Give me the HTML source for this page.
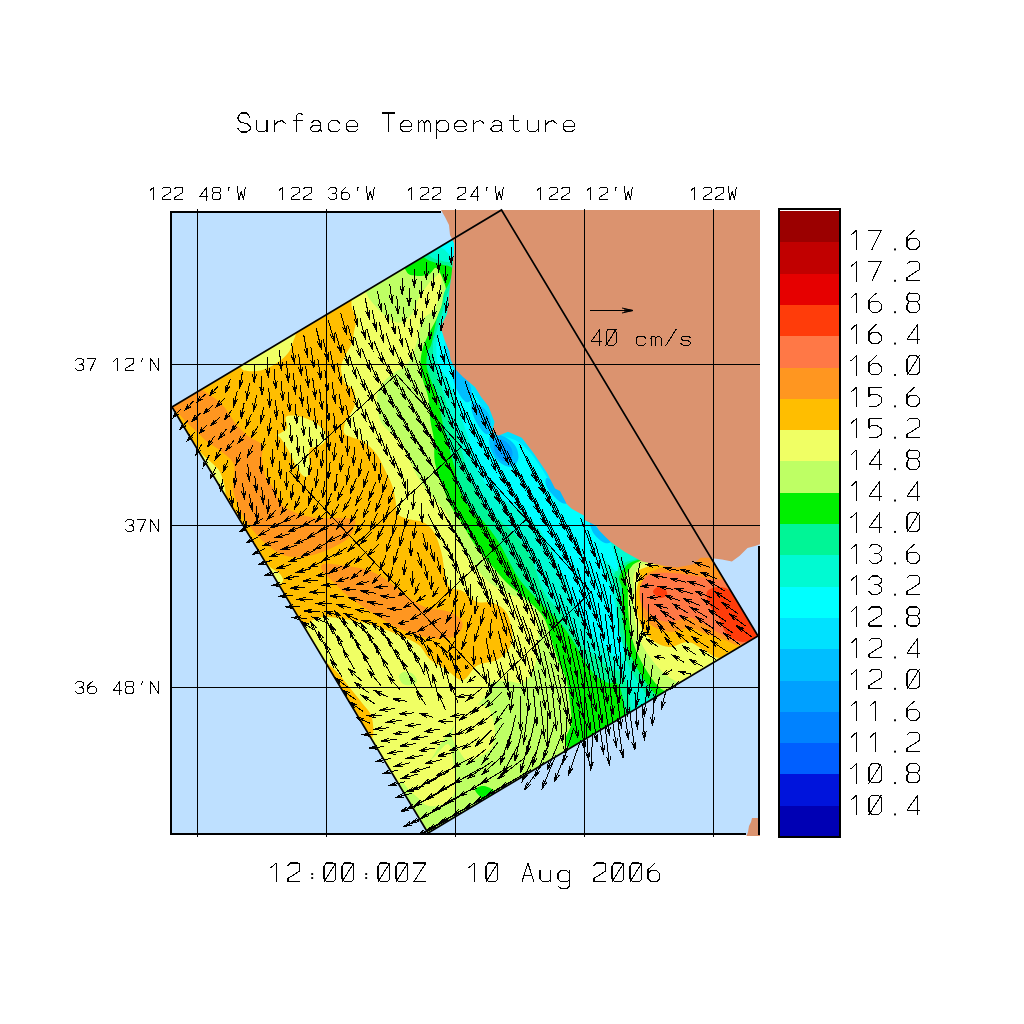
<!DOCTYPE html><html><head><meta charset="utf-8"><style>html,body{margin:0;padding:0;background:#fff;}svg{display:block;}</style></head><body>
<svg width="1024" height="1024" viewBox="0 0 1024 1024">
<rect width="1024" height="1024" fill="#fff"/>
<defs><clipPath id="dom"><polygon points="172.0,407.0 501.5,210.0 758.0,636.0 428.0,833.0"/></clipPath><clipPath id="frm"><rect x="170" y="210" width="590" height="626"/></clipPath><clipPath id="frm2"><rect x="170" y="211" width="590" height="624"/></clipPath></defs>
<rect x="170" y="211" width="590" height="624" fill="#bee0ff"/>
<g clip-path="url(#dom)">
<rect x="0" y="0" width="1024" height="1024" fill="#f0ff64"/>
<path d="M100.0 300.0 C142.8 235.0 315.1 249.6 357.0 250.0 C398.9 250.4 351.5 291.3 351.4 302.4 C351.3 313.4 356.1 311.4 356.5 316.3 C356.9 321.2 354.9 326.9 354.0 331.6 C353.1 336.3 352.9 340.2 351.4 344.3 C349.9 348.4 346.7 352.1 345.0 356.0 C343.3 359.9 341.0 363.5 341.0 368.0 C341.0 372.5 342.9 379.3 345.0 383.0 C347.1 386.7 352.2 386.5 353.8 390.0 C355.4 393.5 355.4 400.1 354.9 404.0 C354.4 407.9 352.2 410.6 350.6 413.6 C349.0 416.6 346.3 419.0 345.2 422.2 C344.1 425.4 343.0 430.5 344.1 433.0 C345.2 435.5 348.3 435.8 351.6 437.3 C354.9 438.8 359.9 439.2 364.0 442.0 C368.1 444.8 372.9 449.3 376.4 454.0 C379.9 458.7 382.4 464.7 385.0 470.0 C387.6 475.3 390.4 480.4 392.2 485.7 C394.0 490.9 394.8 496.8 395.7 501.5 C396.6 506.2 395.4 510.9 397.5 513.8 C399.6 516.7 403.6 517.5 408.0 519.0 C412.4 520.5 419.4 520.3 423.8 522.6 C428.2 524.9 431.5 528.0 434.4 533.0 C437.3 538.0 439.6 545.7 441.4 552.5 C443.2 559.3 443.6 567.8 445.0 573.6 C446.4 579.5 447.1 584.7 450.0 587.6 C452.9 590.5 458.1 588.6 462.5 591.0 C466.9 593.4 471.4 599.7 476.5 601.7 C481.6 603.7 488.1 601.3 493.0 603.0 C497.9 604.7 502.8 607.3 506.0 612.0 C509.2 616.7 511.3 625.2 512.0 631.0 C512.7 636.8 512.4 642.2 510.0 647.0 C507.6 651.8 503.2 656.4 497.7 659.5 C492.2 662.6 483.0 662.2 477.2 665.6 C471.4 669.0 467.9 679.3 462.8 680.0 C457.7 680.7 451.9 673.1 446.4 669.7 C440.9 666.3 434.6 663.6 430.0 659.5 C425.4 655.4 423.8 649.0 418.8 645.0 C413.8 641.0 407.3 638.8 400.0 635.6 C392.7 632.4 383.3 628.6 375.0 626.0 C366.7 623.4 358.3 621.5 350.0 620.0 C341.7 618.5 331.2 617.0 325.0 617.0 C318.8 617.0 318.3 618.7 312.5 620.0 C306.7 621.3 325.4 621.7 290.0 625.0 C254.6 628.3 131.7 694.2 100.0 640.0 C68.3 585.8 57.2 365.0 100.0 300.0Z" fill="#ffbe00"/>
<path d="M232.0 340.0 C222.0 349.3 237.3 360.8 240.0 366.0 C242.7 371.2 244.0 370.4 248.0 371.0 C252.0 371.6 258.8 371.0 264.0 369.4 C269.2 367.8 274.8 364.5 279.0 361.6 C283.2 358.7 286.7 355.1 289.0 351.8 C291.3 348.5 291.7 345.6 293.0 342.0 C294.3 338.4 295.8 335.3 297.0 330.0 C298.2 324.7 310.8 308.3 300.0 310.0 C289.2 311.7 242.0 330.7 232.0 340.0Z" fill="#f0ff64"/>
<path d="M286.0 416.9 C287.6 414.9 293.3 415.4 296.9 415.8 C300.5 416.2 304.4 417.8 307.6 419.0 C310.8 420.2 313.5 421.3 316.2 423.3 C318.9 425.3 322.1 428.1 323.7 430.8 C325.3 433.5 326.6 436.9 325.9 439.4 C325.2 441.9 321.9 444.5 319.4 445.9 C316.9 447.3 312.6 446.6 310.8 448.0 C309.0 449.4 308.9 451.5 308.7 454.4 C308.5 457.3 309.9 461.6 309.7 465.2 C309.5 468.8 308.9 474.4 307.6 476.0 C306.4 477.6 304.2 476.7 302.2 474.9 C300.2 473.1 298.1 469.3 295.8 465.2 C293.5 461.1 290.8 454.6 288.3 450.1 C285.8 445.6 282.7 440.8 280.7 438.3 C278.7 435.8 276.4 436.0 276.4 435.1 C276.4 434.2 278.9 434.2 280.7 433.0 C282.5 431.8 286.3 430.3 287.2 427.6 C288.1 424.9 284.4 418.9 286.0 416.9Z" fill="#f0ff64"/>
<path d="M190.0 440.0 C193.0 439.2 199.3 451.2 203.0 455.0 C206.7 458.8 209.2 460.2 212.0 463.0 C214.8 465.8 217.9 468.0 220.0 472.0 C222.1 476.0 224.0 482.7 224.7 487.0 C225.4 491.3 226.4 495.8 224.0 498.0 C221.6 500.2 216.5 506.3 210.0 500.0 C203.5 493.7 188.3 470.0 185.0 460.0 C181.7 450.0 187.0 440.8 190.0 440.0Z" fill="#f0ff64"/>
<path d="M262.0 560.0 C263.7 558.9 269.0 566.2 272.0 568.5 C275.0 570.8 278.2 571.9 280.0 574.0 C281.8 576.1 283.7 579.3 283.0 581.0 C282.3 582.7 279.5 585.0 276.0 584.0 C272.5 583.0 264.3 579.0 262.0 575.0 C259.7 571.0 260.3 561.1 262.0 560.0Z" fill="#f0ff64"/>
<path d="M320.0 660.0 C324.2 660.0 330.0 665.3 335.0 670.0 C340.0 674.7 345.5 682.5 350.0 688.0 C354.5 693.5 358.3 698.0 362.0 703.0 C365.7 708.0 370.7 711.8 372.0 718.0 C373.3 724.2 375.3 738.0 370.0 740.0 C364.7 742.0 350.0 741.7 340.0 730.0 C330.0 718.3 313.3 681.7 310.0 670.0 C306.7 658.3 315.8 660.0 320.0 660.0Z" fill="#ffbe00"/>
<path d="M160.0 385.0 C166.7 382.5 181.2 383.0 190.0 385.0 C198.8 387.0 207.2 393.2 213.0 397.0 C218.8 400.8 221.2 403.5 225.0 408.0 C228.8 412.5 232.2 419.3 236.0 424.0 C239.8 428.7 243.7 432.5 248.0 436.0 C252.3 439.5 259.7 441.3 262.0 445.0 C264.3 448.7 261.3 452.5 262.0 458.0 C262.7 463.5 263.8 472.7 266.0 478.0 C268.2 483.3 272.5 485.7 275.0 490.0 C277.5 494.3 277.0 500.0 281.0 504.0 C285.0 508.0 292.8 511.7 299.0 514.0 C305.2 516.3 311.5 517.3 318.0 518.0 C324.5 518.7 332.2 517.8 338.0 518.0 C343.8 518.2 350.2 517.8 353.0 519.0 C355.8 520.2 356.0 521.7 355.0 525.0 C354.0 528.3 352.0 534.7 347.0 539.0 C342.0 543.3 332.3 548.0 325.0 551.0 C317.7 554.0 310.0 556.3 303.0 557.0 C296.0 557.7 288.8 556.9 283.0 555.0 C277.2 553.1 272.5 549.0 268.0 545.5 C263.5 542.0 260.0 538.6 256.0 534.0 C252.0 529.4 247.0 522.9 244.0 518.0 C241.0 513.1 239.8 509.3 238.0 504.5 C236.2 499.7 233.7 495.6 233.0 489.0 C232.3 482.4 235.8 471.2 234.0 465.0 C232.2 458.8 226.5 455.9 222.0 452.0 C217.5 448.1 211.2 444.9 207.0 441.6 C202.8 438.3 200.5 435.3 197.0 432.0 C193.5 428.7 189.5 425.3 186.0 422.0 C182.5 418.7 182.0 415.7 176.0 412.0 C170.0 408.3 152.7 404.5 150.0 400.0 C147.3 395.5 153.3 387.5 160.0 385.0Z" fill="#ff9620"/>
<path d="M325.0 563.8 C329.7 563.2 342.9 565.5 350.0 566.5 C357.1 567.5 361.8 568.0 367.6 570.0 C373.4 572.0 379.1 575.0 385.0 578.8 C390.9 582.6 396.0 588.3 402.7 593.0 C409.4 597.7 417.1 603.8 425.0 607.0 C432.9 610.2 443.8 609.3 450.0 612.0 C456.2 614.7 461.5 619.1 462.5 623.0 C463.5 626.9 460.2 633.0 456.0 635.6 C451.8 638.2 443.7 638.8 437.5 638.8 C431.3 638.8 426.0 637.7 418.8 635.6 C411.5 633.5 402.1 630.2 393.8 626.0 C385.4 621.8 376.6 615.8 368.8 610.6 C360.9 605.4 352.7 599.7 346.9 595.0 C341.1 590.3 338.1 586.7 334.0 582.5 C329.9 578.3 323.5 573.1 322.0 570.0 C320.5 566.9 320.3 564.3 325.0 563.8Z" fill="#ff9620"/>
<path d="M355.0 270.0 C337.8 285.6 364.3 288.7 366.7 293.5 C369.1 298.3 367.7 296.5 369.2 298.6 C370.7 300.7 373.2 303.7 375.5 306.2 C377.8 308.7 380.6 311.5 383.2 313.8 C385.8 316.1 388.3 318.6 390.8 320.1 C393.3 321.6 395.9 322.7 398.4 322.7 C400.9 322.7 403.5 322.0 406.0 320.1 C408.5 318.2 411.5 314.9 413.6 311.3 C415.7 307.7 416.1 303.3 418.7 298.6 C421.2 293.9 426.3 286.7 428.9 283.3 C431.4 279.9 432.1 279.9 434.0 278.2 C435.9 276.5 439.0 272.8 440.3 273.2 C441.6 273.6 441.8 277.4 441.6 280.8 C441.4 284.2 440.1 288.9 439.0 293.5 C437.9 298.1 437.9 304.3 435.2 308.7 C432.4 313.1 425.4 314.9 422.5 320.0 C419.6 325.1 418.9 334.6 417.6 339.5 C416.3 344.4 415.8 346.1 414.7 349.3 C413.6 352.6 412.4 356.1 410.8 359.0 C409.2 361.9 407.3 365.0 405.0 367.0 C402.7 369.0 399.6 369.2 397.0 370.8 C394.4 372.4 391.7 374.5 389.3 376.6 C386.9 378.7 384.4 380.7 382.5 383.5 C380.6 386.3 378.4 389.1 377.6 393.2 C376.8 397.3 377.0 403.2 377.6 408.0 C378.2 412.8 378.8 417.8 381.0 422.0 C383.2 426.2 387.7 430.0 391.0 433.0 C394.3 436.0 398.2 435.9 401.0 440.0 C403.8 444.1 405.4 451.8 408.0 457.6 C410.6 463.4 413.6 469.4 416.8 475.0 C420.0 480.6 423.5 486.0 427.3 491.0 C431.1 496.0 436.1 500.6 439.6 505.0 C443.1 509.4 445.8 512.9 448.4 517.3 C451.0 521.7 453.0 526.1 455.4 531.4 C457.8 536.7 459.6 543.7 462.5 549.0 C465.4 554.3 468.9 557.7 473.0 563.0 C477.1 568.3 481.7 575.8 487.0 580.6 C492.3 585.4 499.0 588.8 505.0 592.0 C511.0 595.2 517.7 595.9 523.0 600.0 C528.3 604.1 534.1 608.1 536.6 616.4 C539.1 624.7 538.8 640.6 538.0 650.0 C537.2 659.4 534.7 667.5 532.0 673.0 C529.3 678.5 526.2 681.7 522.0 683.0 C517.8 684.3 512.2 681.0 507.0 681.0 C501.8 681.0 494.5 680.7 491.0 683.0 C487.5 685.3 489.5 690.2 486.0 695.0 C482.5 699.8 475.2 707.0 470.0 712.0 C464.8 717.0 460.0 719.5 455.0 725.0 C450.0 730.5 444.2 739.2 440.0 745.0 C435.8 750.8 435.0 755.0 430.0 760.0 C425.0 765.0 415.5 770.8 410.0 775.0 C404.5 779.2 402.0 780.8 397.0 785.0 C392.0 789.2 376.2 789.2 380.0 800.0 C383.8 810.8 363.3 863.3 420.0 850.0 C476.7 836.7 673.3 745.0 720.0 720.0 C766.7 695.0 706.3 705.8 700.0 700.0 C693.7 694.2 687.7 689.2 682.0 685.0 C676.3 680.8 671.0 679.2 666.0 675.0 C661.0 670.8 656.3 665.8 652.0 660.0 C647.7 654.2 643.0 647.5 640.0 640.0 C637.0 632.5 635.0 623.3 634.0 615.0 C633.0 606.7 633.0 598.2 634.0 590.0 C635.0 581.8 629.0 577.7 640.0 566.0 C651.0 554.3 728.3 581.0 700.0 520.0 C671.7 459.0 527.5 241.7 470.0 200.0 C412.5 158.3 372.2 254.4 355.0 270.0Z" fill="#beff64"/>
<path d="M399.0 676.0 C399.3 673.9 402.7 671.8 405.0 671.5 C407.3 671.2 411.0 672.4 413.0 674.0 C415.0 675.6 417.2 679.2 417.0 681.0 C416.8 682.8 414.3 684.5 412.0 685.0 C409.7 685.5 405.2 685.5 403.0 684.0 C400.8 682.5 398.7 678.1 399.0 676.0Z" fill="#beff64"/>
<path d="M489.0 709.0 C492.3 713.5 494.7 725.5 495.0 732.0 C495.3 738.5 493.7 743.8 491.0 748.0 C488.3 752.2 482.8 754.8 479.0 757.0 C475.2 759.2 471.2 761.8 468.0 761.0 C464.8 760.2 462.7 756.5 460.0 752.0 C457.3 747.5 451.7 740.2 452.0 734.0 C452.3 727.8 458.2 719.8 462.0 715.0 C465.8 710.2 470.5 706.0 475.0 705.0 C479.5 704.0 485.7 704.5 489.0 709.0Z" fill="#f0ff64"/>
<path d="M430.0 760.0 C438.0 755.7 444.0 742.8 448.0 744.0 C452.0 745.2 452.7 759.8 454.0 767.0 C455.3 774.2 457.0 781.2 456.0 787.0 C455.0 792.8 452.5 798.8 448.0 802.0 C443.5 805.2 434.2 806.8 429.0 806.0 C423.8 805.2 421.0 800.5 417.0 797.0 C413.0 793.5 407.8 789.5 405.0 785.0 C402.2 780.5 395.8 774.2 400.0 770.0 C404.2 765.8 422.0 764.3 430.0 760.0Z" fill="#f0ff64"/>
<path d="M475.0 790.0 C474.7 787.7 480.0 786.0 483.0 786.0 C486.0 786.0 490.7 788.0 493.0 790.0 C495.3 792.0 498.3 796.3 497.0 798.0 C495.7 799.7 488.7 801.3 485.0 800.0 C481.3 798.7 475.3 792.3 475.0 790.0Z" fill="#00f000"/>
<path d="M400.0 240.0 C389.3 251.8 403.3 264.7 406.0 270.6 C408.7 276.6 412.2 275.1 416.0 275.7 C419.8 276.3 425.5 275.7 428.9 274.4 C432.3 273.1 434.0 266.7 436.5 268.0 C439.0 269.3 442.4 277.8 444.0 282.0 C445.6 286.2 446.4 289.5 446.0 293.5 C445.6 297.5 443.2 302.0 441.6 306.2 C440.0 310.4 438.7 314.2 436.5 318.9 C434.3 323.6 430.7 329.5 428.4 334.6 C426.1 339.7 423.8 344.4 422.5 349.3 C421.2 354.2 420.5 359.1 420.5 364.0 C420.5 368.9 421.2 372.9 422.5 378.6 C423.8 384.3 427.1 391.1 428.4 398.0 C429.7 404.9 429.4 413.0 430.3 420.0 C431.2 427.0 433.2 432.8 434.0 440.0 C434.8 447.2 433.5 455.2 435.0 463.0 C436.5 470.8 440.4 479.9 443.0 487.0 C445.6 494.1 447.2 499.3 450.5 505.6 C453.8 511.9 459.2 518.9 463.0 525.0 C466.8 531.1 469.3 536.5 473.0 542.0 C476.7 547.5 481.7 553.8 485.0 558.0 C488.3 562.2 489.7 563.2 493.0 567.0 C496.3 570.8 501.3 577.2 505.0 581.0 C508.7 584.8 511.7 587.2 515.0 590.0 C518.3 592.8 521.5 595.0 525.0 598.0 C528.5 601.0 532.8 604.7 536.0 608.0 C539.2 611.3 541.8 614.3 544.0 618.0 C546.2 621.7 547.5 625.5 549.0 630.0 C550.5 634.5 551.3 639.5 553.0 645.0 C554.7 650.5 557.0 657.8 559.0 663.0 C561.0 668.2 563.5 671.8 565.0 676.0 C566.5 680.2 566.8 680.7 568.0 688.0 C569.2 695.3 570.8 709.7 572.0 720.0 C573.2 730.3 553.7 745.0 575.0 750.0 C596.3 755.0 682.5 758.3 700.0 750.0 C717.5 741.7 686.7 710.3 680.0 700.0 C673.3 689.7 665.8 693.3 660.0 688.0 C654.2 682.7 649.3 675.2 645.0 668.0 C640.7 660.8 636.7 653.0 634.0 645.0 C631.3 637.0 630.0 629.2 629.0 620.0 C628.0 610.8 627.5 599.0 628.0 590.0 C628.5 581.0 620.0 581.0 632.0 566.0 C644.0 551.0 727.0 561.0 700.0 500.0 C673.0 439.0 520.0 243.3 470.0 200.0 C420.0 156.7 410.7 228.2 400.0 240.0Z" fill="#00f000"/>
<path d="M410.0 240.0 C400.8 249.7 420.0 254.0 425.0 258.0 C430.0 262.0 435.5 262.3 440.0 264.0 C444.5 265.7 450.3 265.2 452.0 268.0 C453.7 270.8 451.3 276.8 450.0 281.0 C448.7 285.2 445.4 288.8 444.0 293.0 C442.6 297.2 442.9 301.5 441.6 306.0 C440.4 310.5 438.2 313.7 436.5 320.0 C434.8 326.3 432.8 338.8 431.4 344.0 C430.0 349.2 428.8 347.7 428.0 351.0 C427.2 354.3 426.0 359.4 426.4 364.0 C426.8 368.6 428.4 372.9 430.3 378.6 C432.2 384.3 436.1 391.1 438.0 398.0 C439.9 404.9 440.5 413.0 442.0 420.0 C443.5 427.0 444.8 431.8 447.0 440.0 C449.2 448.2 452.7 460.3 455.0 469.0 C457.3 477.7 458.2 485.2 461.0 492.0 C463.8 498.8 468.2 505.0 472.0 510.0 C475.8 515.0 479.7 516.8 484.0 522.0 C488.3 527.2 493.8 534.5 498.0 541.0 C502.2 547.5 505.5 554.7 509.0 561.0 C512.5 567.3 514.7 573.0 519.0 579.0 C523.3 585.0 530.0 591.7 535.0 597.0 C540.0 602.3 545.3 607.3 549.0 611.0 C552.7 614.7 554.3 616.0 557.0 619.0 C559.7 622.0 562.3 625.3 565.0 629.0 C567.7 632.7 570.5 637.0 573.0 641.0 C575.5 645.0 577.5 648.8 580.0 653.0 C582.5 657.2 585.3 662.2 588.0 666.0 C590.7 669.8 592.7 673.2 596.0 676.0 C599.3 678.8 604.0 681.0 608.0 683.0 C612.0 685.0 614.7 676.8 620.0 688.0 C625.3 699.2 626.7 739.7 640.0 750.0 C653.3 760.3 695.8 757.5 700.0 750.0 C704.2 742.5 673.3 715.3 665.0 705.0 C656.7 694.7 654.7 694.2 650.0 688.0 C645.3 681.8 640.8 675.2 637.0 668.0 C633.2 660.8 629.3 653.0 627.0 645.0 C624.7 637.0 623.8 629.2 623.0 620.0 C622.2 610.8 621.5 599.0 622.0 590.0 C622.5 581.0 613.0 581.0 626.0 566.0 C639.0 551.0 724.3 561.0 700.0 500.0 C675.7 439.0 528.3 243.3 480.0 200.0 C431.7 156.7 419.2 230.3 410.0 240.0Z" fill="#00f596"/>
<path d="M420.0 240.0 C411.7 249.3 426.3 252.5 430.0 256.0 C433.7 259.5 437.8 259.5 442.0 261.0 C446.2 262.5 453.3 261.5 455.0 265.0 C456.7 268.5 453.7 276.2 452.0 282.0 C450.3 287.8 446.5 295.3 445.0 300.0 C443.5 304.7 444.3 305.0 443.0 310.0 C441.7 315.0 438.7 324.3 437.0 330.0 C435.3 335.7 433.5 338.3 433.0 344.0 C432.5 349.7 433.2 358.3 434.0 364.0 C434.8 369.7 436.2 372.3 438.0 378.0 C439.8 383.7 443.0 391.0 445.0 398.0 C447.0 405.0 447.7 413.0 450.0 420.0 C452.3 427.0 455.9 431.8 458.7 440.0 C461.5 448.2 463.9 460.2 467.0 469.0 C470.1 477.8 473.3 486.2 477.0 493.0 C480.7 499.8 484.5 504.8 489.0 510.0 C493.5 515.2 498.8 519.0 504.0 524.0 C509.2 529.0 515.3 534.0 520.0 540.0 C524.7 546.0 528.2 551.7 532.0 560.0 C535.8 568.3 539.3 582.5 543.0 590.0 C546.7 597.5 550.7 601.0 554.0 605.0 C557.3 609.0 560.2 610.5 563.0 614.0 C565.8 617.5 568.3 621.5 571.0 626.0 C573.7 630.5 576.5 637.2 579.0 641.0 C581.5 644.8 582.8 646.2 586.0 649.0 C589.2 651.8 594.0 654.8 598.0 658.0 C602.0 661.2 605.5 664.3 610.0 668.0 C614.5 671.7 619.2 666.3 625.0 680.0 C630.8 693.7 632.5 738.3 645.0 750.0 C657.5 761.7 698.3 757.5 700.0 750.0 C701.7 742.5 664.7 715.3 655.0 705.0 C645.3 694.7 646.2 694.2 642.0 688.0 C637.8 681.8 633.5 675.2 630.0 668.0 C626.5 660.8 623.0 653.0 621.0 645.0 C619.0 637.0 618.7 629.2 618.0 620.0 C617.3 610.8 616.7 599.0 617.0 590.0 C617.3 581.0 606.2 581.0 620.0 566.0 C633.8 551.0 723.3 561.0 700.0 500.0 C676.7 439.0 526.7 243.3 480.0 200.0 C433.3 156.7 428.3 230.7 420.0 240.0Z" fill="#00fad2"/>
<path d="M440.0 240.0 C434.2 248.3 443.0 247.0 445.0 250.0 C447.0 253.0 450.3 254.7 452.0 258.0 C453.7 261.3 455.3 263.0 455.0 270.0 C454.7 277.0 451.3 292.5 450.0 300.0 C448.7 307.5 448.7 309.2 447.0 315.0 C445.3 320.8 441.8 330.2 440.0 335.0 C438.2 339.8 436.8 339.2 436.5 344.0 C436.2 348.8 436.1 358.0 438.0 364.0 C439.9 370.0 445.2 374.3 448.0 380.0 C450.8 385.7 452.7 391.3 455.0 398.0 C457.3 404.7 459.7 413.0 462.0 420.0 C464.3 427.0 466.8 432.8 469.0 440.0 C471.2 447.2 472.2 455.7 475.0 463.0 C477.8 470.3 482.7 479.0 486.0 484.0 C489.3 489.0 491.2 489.7 495.0 493.0 C498.8 496.3 504.0 500.7 509.0 504.0 C514.0 507.3 519.8 508.7 525.0 513.0 C530.2 517.3 535.2 523.0 540.0 530.0 C544.8 537.0 549.8 546.7 554.0 555.0 C558.2 563.3 561.5 571.7 565.0 580.0 C568.5 588.3 571.7 598.0 575.0 605.0 C578.3 612.0 581.8 616.7 585.0 622.0 C588.2 627.3 590.5 632.5 594.0 637.0 C597.5 641.5 602.2 645.5 606.0 649.0 C609.8 652.5 614.0 657.5 617.0 658.0 C620.0 658.5 623.8 657.5 624.0 652.0 C624.2 646.5 619.7 633.7 618.0 625.0 C616.3 616.3 616.0 608.3 614.0 600.0 C612.0 591.7 607.7 581.7 606.0 575.0 C604.3 568.3 603.3 565.8 604.0 560.0 C604.7 554.2 630.7 600.0 610.0 540.0 C589.3 480.0 508.3 250.0 480.0 200.0 C451.7 150.0 445.8 231.7 440.0 240.0Z" fill="#00ffff"/>
<path d="M448.0 335.0 C444.0 343.3 445.7 345.2 446.0 350.0 C446.3 354.8 448.0 360.3 450.0 364.0 C452.0 367.7 455.3 369.3 458.0 372.0 C460.7 374.7 463.7 377.0 466.0 380.0 C468.3 383.0 470.0 386.7 472.0 390.0 C474.0 393.3 476.0 396.7 478.0 400.0 C480.0 403.3 482.0 406.3 484.0 410.0 C486.0 413.7 488.7 418.2 490.0 422.0 C491.3 425.8 490.3 430.7 492.0 433.0 C493.7 435.3 496.2 434.8 500.0 436.0 C503.8 437.2 510.3 437.7 515.0 440.0 C519.7 442.3 523.8 445.7 528.0 450.0 C532.2 454.3 536.3 460.7 540.0 466.0 C543.7 471.3 546.3 477.0 550.0 482.0 C553.7 487.0 557.8 491.7 562.0 496.0 C566.2 500.3 570.3 504.0 575.0 508.0 C579.7 512.0 585.3 516.0 590.0 520.0 C594.7 524.0 598.7 527.8 603.0 532.0 C607.3 536.2 609.8 543.7 616.0 545.0 C622.2 546.3 642.7 560.8 640.0 540.0 C637.3 519.2 628.3 460.0 600.0 420.0 C571.7 380.0 495.3 314.2 470.0 300.0 C444.7 285.8 452.0 326.7 448.0 335.0Z" fill="#00e1ff"/>
<path d="M455.0 368.0 C456.5 367.0 459.5 369.2 462.0 372.0 C464.5 374.8 468.3 380.7 470.0 385.0 C471.7 389.3 472.7 395.2 472.0 398.0 C471.3 400.8 468.3 403.0 466.0 402.0 C463.7 401.0 460.2 396.0 458.0 392.0 C455.8 388.0 453.5 382.0 453.0 378.0 C452.5 374.0 453.5 369.0 455.0 368.0Z" fill="#00beff"/>
<path d="M472.0 402.0 C473.3 400.8 477.2 402.8 480.0 405.0 C482.8 407.2 487.2 410.8 489.0 415.0 C490.8 419.2 491.5 426.8 491.0 430.0 C490.5 433.2 488.2 434.8 486.0 434.0 C483.8 433.2 480.3 428.7 478.0 425.0 C475.7 421.3 473.0 415.8 472.0 412.0 C471.0 408.2 470.7 403.2 472.0 402.0Z" fill="#00beff"/>
<path d="M491.0 435.0 C493.5 433.3 500.8 435.0 505.0 437.0 C509.2 439.0 513.8 443.2 516.0 447.0 C518.2 450.8 519.0 456.7 518.0 460.0 C517.0 463.3 513.5 467.0 510.0 467.0 C506.5 467.0 500.3 463.3 497.0 460.0 C493.7 456.7 491.0 451.2 490.0 447.0 C489.0 442.8 488.5 436.7 491.0 435.0Z" fill="#00beff"/>
<path d="M495.0 440.0 C496.7 438.2 502.2 439.3 505.0 441.0 C507.8 442.7 511.0 447.0 512.0 450.0 C513.0 453.0 512.5 457.2 511.0 459.0 C509.5 460.8 505.7 462.2 503.0 461.0 C500.3 459.8 496.3 455.5 495.0 452.0 C493.7 448.5 493.3 441.8 495.0 440.0Z" fill="#00a0ff"/>
<path d="M547.0 478.0 C548.7 477.8 553.2 481.3 556.0 484.0 C558.8 486.7 561.7 491.0 564.0 494.0 C566.3 497.0 570.3 500.5 570.0 502.0 C569.7 503.5 565.0 504.3 562.0 503.0 C559.0 501.7 554.7 497.0 552.0 494.0 C549.3 491.0 546.8 487.7 546.0 485.0 C545.2 482.3 545.3 478.2 547.0 478.0Z" fill="#00beff"/>
<path d="M590.0 522.0 C591.0 521.3 596.3 527.0 600.0 530.0 C603.7 533.0 611.2 537.8 612.0 540.0 C612.8 542.2 608.0 544.0 605.0 543.0 C602.0 542.0 596.5 537.5 594.0 534.0 C591.5 530.5 589.0 522.7 590.0 522.0Z" fill="#00beff"/>
<path d="M650.0 566.0 C629.2 572.3 642.3 573.2 640.0 578.0 C637.7 582.8 636.5 589.3 636.0 595.0 C635.5 600.7 635.8 606.2 637.0 612.0 C638.2 617.8 640.0 625.0 643.0 630.0 C646.0 635.0 650.5 639.2 655.0 642.0 C659.5 644.8 664.5 647.0 670.0 647.0 C675.5 647.0 682.3 641.5 688.0 642.0 C693.7 642.5 698.7 647.3 704.0 650.0 C709.3 652.7 714.0 658.0 720.0 658.0 C726.0 658.0 731.7 653.0 740.0 650.0 C748.3 647.0 765.8 658.3 770.0 640.0 C774.2 621.7 785.0 552.3 765.0 540.0 C745.0 527.7 670.8 559.7 650.0 566.0Z" fill="#ffbe00"/>
<path d="M655.0 570.0 C635.0 577.0 647.3 577.3 645.0 582.0 C642.7 586.7 641.5 593.0 641.0 598.0 C640.5 603.0 641.2 608.3 642.0 612.0 C642.8 615.7 643.7 617.3 646.0 620.0 C648.3 622.7 651.7 626.0 656.0 628.0 C660.3 630.0 666.3 632.0 672.0 632.0 C677.7 632.0 684.3 627.7 690.0 628.0 C695.7 628.3 700.2 632.0 706.0 634.0 C711.8 636.0 719.0 638.0 725.0 640.0 C731.0 642.0 734.5 646.0 742.0 646.0 C749.5 646.0 766.2 657.7 770.0 640.0 C773.8 622.3 784.2 551.7 765.0 540.0 C745.8 528.3 675.0 563.0 655.0 570.0Z" fill="#ff9620"/>
<path d="M641.0 584.0 C642.8 579.8 645.8 575.8 651.0 574.0 C656.2 572.2 664.5 572.7 672.0 573.0 C679.5 573.3 689.3 575.0 696.0 576.0 C702.7 577.0 706.8 578.2 712.0 579.0 C717.2 579.8 722.3 578.8 727.0 581.0 C731.7 583.2 734.5 583.8 740.0 592.0 C745.5 600.2 759.2 621.3 760.0 630.0 C760.8 638.7 751.8 643.5 745.0 644.0 C738.2 644.5 725.8 636.3 719.0 633.0 C712.2 629.7 709.2 626.7 704.0 624.0 C698.8 621.3 693.3 617.3 688.0 617.0 C682.7 616.7 677.2 621.7 672.0 622.0 C666.8 622.3 661.3 621.0 657.0 619.0 C652.7 617.0 648.8 613.3 646.0 610.0 C643.2 606.7 640.8 603.3 640.0 599.0 C639.2 594.7 639.2 588.2 641.0 584.0Z" fill="#ff7846"/>
<path d="M707.0 592.0 C708.5 588.8 714.8 587.0 719.0 587.0 C723.2 587.0 728.0 588.2 732.0 592.0 C736.0 595.8 738.3 603.0 743.0 610.0 C747.7 617.0 760.0 628.7 760.0 634.0 C760.0 639.3 748.5 642.0 743.0 642.0 C737.5 642.0 731.0 638.0 727.0 634.0 C723.0 630.0 721.8 622.7 719.0 618.0 C716.2 613.3 712.0 610.3 710.0 606.0 C708.0 601.7 705.5 595.2 707.0 592.0Z" fill="#ff3c0a"/>
<path d="M653.0 592.0 C652.7 590.2 656.0 587.5 658.0 587.0 C660.0 586.5 663.5 587.7 665.0 589.0 C666.5 590.3 667.8 593.5 667.0 595.0 C666.2 596.5 662.3 598.5 660.0 598.0 C657.7 597.5 653.3 593.8 653.0 592.0Z" fill="#ff3c0a"/>
</g>
<g fill="#db936f" clip-path="url(#frm)">
<polygon points="441.0,209.0 761.0,209.0 761.0,544.0 755.0,546.0 747.5,547.9 739.7,555.7 731.9,561.6 722.0,559.6 708.4,557.7 700.6,557.7 692.8,564.5 677.0,567.4 661.6,565.5 642.0,561.6 624.5,551.8 610.8,542.0 605.8,537.3 599.0,530.3 596.0,525.5 585.4,520.5 584.3,515.8 571.7,508.8 566.7,504.0 560.0,491.0 555.0,488.4 547.0,472.8 533.5,453.0 521.8,437.7 508.0,431.8 498.4,435.7 492.5,431.8 494.5,422.0 488.6,406.4 480.8,396.6 475.0,387.0 463.0,377.0 455.4,369.3 450.5,359.5 449.5,351.7 444.6,340.0 440.6,327.0 447.0,314.0 450.0,286.0 451.5,275.0 454.0,252.0 454.0,243.0 450.0,235.0 449.0,225.0 445.0,217.0 441.0,210.0"/><polygon points="752,818 761,818 761,837 746,837 748,832 749,826 751,822"/>
</g>
<path d="M197.5 209 V837 M326.5 209 V837 M455.5 209 V837 M584.5 209 V837 M713.5 209 V837 M170 364.5 H760 M170 525.5 H760 M170 687.5 H760" stroke="#000" stroke-width="1" fill="none" shape-rendering="crispEdges"/>
<path d="M171 212 H441 M171 211 V835 M759 546 V835 M170 834 H746" stroke="#000" stroke-width="2" fill="none" shape-rendering="crispEdges"/>
<polygon points="172.0,407.0 501.5,210.0 758.0,636.0 428.0,833.0" fill="none" stroke="#000" stroke-width="1.7" stroke-linejoin="miter"/>
<path d="M396.5 374.5 L289.5 471.5 L491.5 687.0 L591.0 592.0 L396.5 374.5 M356.8 543.3 L461.3 447.0 M424.0 615.0 L526.0 519.5" fill="none" stroke="#000" stroke-width="1" shape-rendering="crispEdges"/>
<g clip-path="url(#frm2)"><path d="M181.1 408.6 L173.1 417.6 M188.1 420.2 L180.1 429.2 M195.1 431.9 L187.2 441.0 M202.1 443.5 L195.8 455.0 M209.1 455.2 L203.1 467.2 M216.1 466.8 L210.2 478.8 M223.1 478.5 L220.2 491.9 M230.1 490.2 L232.8 506.0 M237.1 501.8 L240.1 517.8 M244.1 513.5 L245.9 528.7 M251.2 525.1 L240.0 531.7 M258.2 536.8 L246.2 542.8 M265.2 548.4 L253.0 554.3 M272.2 560.1 L258.4 564.7 M279.2 571.7 L265.2 575.2 M286.2 583.4 L272.2 585.6 M293.2 595.1 L279.0 596.5 M300.2 606.7 L285.5 606.9 M307.2 618.4 L292.7 617.5 M314.2 630.0 L301.5 621.7 M321.2 641.7 L310.8 621.7 M328.2 653.3 L318.2 631.5 M335.2 665.0 L325.1 643.5 M342.2 676.7 L330.6 659.9 M349.2 688.3 L335.4 677.9 M356.2 700.0 L342.2 690.0 M363.2 711.6 L349.2 701.7 M370.2 723.3 L356.1 717.3 M377.2 734.9 L362.6 734.5 M384.2 746.6 L369.2 748.0 M391.3 758.3 L375.4 761.7 M398.3 769.9 L382.3 773.9 M405.3 781.6 L389.3 785.6 M412.3 793.2 L396.0 797.5 M419.3 804.9 L400.6 811.3 M426.3 816.5 L403.7 826.6 M433.3 828.2 L409.1 840.1 M193.4 401.2 L185.1 409.9 M200.4 412.9 L191.9 421.5 M207.4 424.5 L199.2 433.5 M214.4 436.2 L207.4 446.9 M221.4 447.8 L215.2 459.6 M228.4 459.5 L223.0 471.8 M235.4 471.2 L234.6 486.0 M242.4 482.8 L244.6 498.8 M249.4 494.5 L252.3 510.4 M256.4 506.1 L257.4 520.9 M263.4 517.8 L253.2 525.0 M270.4 529.4 L258.4 535.4 M277.4 541.1 L263.1 545.6 M284.4 552.8 L269.5 556.8 M291.4 564.4 L276.8 568.5 M298.5 576.1 L284.3 578.7 M305.5 587.7 L290.7 588.1 M312.5 599.4 L297.5 599.4 M319.5 611.0 L304.5 611.0 M326.5 622.7 L312.9 617.2 M333.5 634.4 L323.2 613.8 M340.5 646.0 L330.5 624.0 M347.5 657.7 L337.5 635.8 M354.5 669.3 L343.4 650.3 M361.5 681.0 L348.3 668.6 M368.5 692.6 L354.6 682.5 M375.5 704.3 L361.5 695.1 M382.5 716.0 L367.8 715.7 M389.5 727.6 L374.6 729.4 M396.5 739.3 L381.5 741.0 M403.5 750.9 L388.0 753.6 M410.5 762.6 L394.5 766.5 M417.5 774.2 L401.2 778.5 M424.5 785.9 L406.1 792.0 M431.5 797.6 L406.7 809.3 M438.6 809.2 L410.9 823.4 M445.6 820.9 L417.9 835.4 M205.6 393.9 L196.8 402.1 M212.7 405.5 L203.7 413.5 M219.7 417.2 L210.9 425.5 M226.7 428.8 L218.8 438.9 M233.7 440.5 L225.9 450.6 M240.7 452.2 L236.0 464.6 M247.7 463.8 L249.3 480.5 M254.7 475.5 L256.7 492.5 M261.7 487.1 L263.4 503.7 M268.7 498.8 L267.8 512.9 M275.7 510.4 L267.5 519.4 M282.7 522.1 L270.0 527.8 M289.7 533.8 L274.8 537.9 M296.7 545.4 L281.7 549.4 M303.7 557.1 L289.0 561.4 M310.7 568.7 L296.7 572.2 M317.7 580.4 L303.0 580.9 M324.7 592.0 L309.7 592.1 M331.7 603.7 L316.8 603.6 M338.7 615.4 L324.9 611.5 M345.7 627.0 L334.7 610.6 M352.8 638.7 L342.5 617.9 M359.8 650.3 L349.2 629.4 M366.8 662.0 L355.8 640.4 M373.8 673.6 L362.6 652.7 M380.8 685.3 L368.4 670.6 M387.8 697.0 L374.1 690.5 M394.8 708.6 L379.9 710.2 M401.8 720.3 L386.8 722.3 M408.8 731.9 L393.8 733.8 M415.8 743.6 L400.2 746.0 M422.8 755.2 L406.6 758.5 M429.8 766.9 L411.8 772.2 M436.8 778.6 L411.6 790.5 M443.8 790.2 L414.3 805.8 M450.8 801.9 L421.0 817.8 M457.8 813.5 L428.4 829.2 M217.9 386.5 L209.6 395.5 M224.9 398.2 L216.3 406.7 M231.9 409.9 L224.4 419.9 M238.9 421.5 L231.0 431.6 M245.9 433.2 L238.0 443.2 M252.9 444.8 L247.6 456.8 M260.0 456.5 L261.6 473.2 M267.0 468.1 L268.9 485.1 M274.0 479.8 L275.6 496.5 M281.0 491.5 L279.8 506.2 M288.0 503.1 L281.1 513.8 M295.0 514.8 L283.3 521.9 M302.0 526.4 L288.1 531.8 M309.0 538.1 L294.8 543.7 M316.0 549.7 L302.1 556.1 M323.0 561.4 L309.4 567.3 M330.0 573.0 L316.2 575.9 M337.0 584.7 L322.6 585.3 M344.0 596.4 L329.7 596.0 M351.0 608.0 L337.2 604.7 M358.0 619.7 L344.3 613.6 M365.0 631.3 L352.4 620.4 M372.0 643.0 L360.8 623.2 M379.0 654.6 L368.0 632.7 M386.0 666.3 L375.0 644.4 M393.0 678.0 L382.0 658.6 M400.1 689.6 L388.4 676.6 M407.1 701.3 L393.2 699.0 M414.1 712.9 L399.4 713.8 M421.1 724.6 L406.2 725.7 M428.1 736.2 L412.1 739.1 M435.1 747.9 L419.1 750.9 M442.1 759.6 L425.0 763.7 M449.1 771.2 L422.2 784.6 M456.1 782.9 L426.1 798.9 M463.1 794.5 L433.1 810.5 M470.1 806.2 L440.4 822.1 M230.2 379.2 L225.4 392.7 M237.2 390.9 L233.8 406.3 M244.2 402.5 L241.1 418.4 M251.2 414.2 L245.9 427.3 M258.2 425.8 L251.5 437.1 M265.2 437.5 L261.2 450.8 M272.2 449.1 L272.5 465.3 M279.2 460.8 L280.5 477.5 M286.2 472.5 L286.7 488.8 M293.2 484.1 L291.1 499.2 M300.2 495.8 L294.6 508.7 M307.3 507.4 L297.6 517.5 M314.3 519.1 L301.4 526.8 M321.3 530.7 L307.3 537.8 M328.3 542.4 L314.3 549.4 M335.3 554.1 L321.8 561.3 M342.3 565.7 L329.8 572.7 M349.3 577.4 L336.9 581.7 M356.3 589.0 L343.1 589.3 M363.3 600.7 L348.7 598.0 M370.3 612.3 L355.3 609.3 M377.3 624.0 L362.5 620.5 M384.3 635.7 L372.0 622.9 M391.3 647.3 L380.3 626.7 M398.3 659.0 L387.6 638.0 M405.3 670.6 L395.2 649.2 M412.3 682.3 L402.3 661.0 M419.3 693.9 L409.8 676.2 M426.3 705.6 L416.6 691.8 M433.3 717.3 L420.0 713.6 M440.3 728.9 L424.4 731.8 M447.4 740.6 L431.4 743.6 M454.4 752.2 L437.7 756.0 M461.4 763.9 L436.6 775.7 M468.4 775.5 L438.9 791.3 M475.4 787.2 L445.6 803.1 M482.4 798.9 L452.9 814.9 M242.5 371.9 L239.6 387.6 M249.5 383.5 L246.5 399.5 M256.5 395.2 L253.5 411.2 M263.5 406.8 L260.7 422.8 M270.5 418.5 L268.6 434.7 M277.5 430.1 L277.6 448.1 M284.5 441.8 L285.1 460.0 M291.5 453.5 L291.6 470.8 M298.5 465.1 L297.2 481.7 M305.5 476.8 L303.1 493.1 M312.5 488.4 L308.9 504.1 M319.5 500.1 L312.4 513.4 M326.5 511.7 L315.7 522.0 M333.5 523.4 L319.8 530.7 M340.5 535.1 L326.7 542.2 M347.5 546.7 L334.9 555.9 M354.5 558.4 L343.0 569.1 M361.6 570.0 L350.8 579.1 M368.6 581.7 L356.6 584.6 M375.6 593.3 L361.0 590.9 M382.6 605.0 L367.6 602.0 M389.6 616.7 L374.7 613.6 M396.6 628.3 L383.6 623.4 M403.6 640.0 L392.8 628.1 M410.6 651.6 L400.5 632.4 M417.6 663.3 L407.6 641.3 M424.6 674.9 L414.6 653.0 M431.6 686.6 L424.8 663.5 M438.6 698.3 L432.5 674.6 M445.6 709.9 L437.5 692.4 M452.6 721.6 L438.3 721.2 M459.6 733.2 L443.9 736.4 M466.6 744.9 L449.9 750.5 M473.6 756.5 L452.1 767.9 M480.6 768.2 L453.8 783.5 M487.6 779.9 L458.7 796.4 M494.7 791.5 L464.5 808.9 M254.7 364.5 L254.2 382.3 M261.7 376.2 L262.0 394.7 M268.8 387.8 L269.8 407.0 M275.8 399.5 L276.4 418.3 M282.8 411.2 L284.1 430.5 M289.8 422.8 L291.7 442.8 M296.8 434.5 L298.6 454.3 M303.8 446.1 L304.4 464.8 M310.8 457.8 L309.0 474.8 M317.8 469.4 L315.7 486.4 M324.8 481.1 L322.6 498.0 M331.8 492.7 L325.7 507.5 M338.8 504.4 L330.8 518.3 M345.8 516.1 L336.9 528.9 M352.8 527.7 L341.4 538.8 M359.8 539.4 L347.9 551.3 M366.8 551.0 L355.0 563.1 M373.8 562.7 L364.0 574.8 M380.8 574.3 L372.2 583.3 M387.8 586.0 L375.7 587.3 M394.8 597.7 L380.9 595.9 M401.8 609.3 L388.8 608.7 M408.9 621.0 L398.2 623.9 M415.9 632.6 L405.9 634.2 M422.9 644.3 L413.2 633.4 M429.9 655.9 L420.1 635.7 M436.9 667.6 L427.7 646.4 M443.9 679.3 L437.7 655.6 M450.9 690.9 L444.9 667.0 M457.9 702.6 L450.5 683.7 M464.9 714.2 L451.2 716.5 M471.9 725.9 L456.2 735.0 M478.9 737.5 L462.7 749.0 M485.9 749.2 L467.0 764.4 M492.9 760.9 L467.5 778.5 M499.9 772.5 L469.3 790.6 M506.9 784.2 L475.1 802.2 M267.0 357.2 L268.3 376.5 M274.0 368.8 L275.9 388.8 M281.0 380.5 L283.0 400.5 M288.0 392.2 L289.9 412.0 M295.0 403.8 L296.9 423.7 M302.0 415.5 L304.0 435.5 M309.0 427.1 L311.0 447.1 M316.1 438.8 L316.9 457.8 M323.1 450.4 L321.3 467.6 M330.1 462.1 L328.1 479.1 M337.1 473.8 L335.0 490.7 M344.1 485.4 L337.5 500.1 M351.1 497.1 L343.1 511.1 M358.1 508.7 L350.1 522.7 M365.1 520.4 L355.2 533.4 M372.1 532.0 L360.2 544.1 M379.1 543.7 L367.5 555.9 M386.1 555.4 L379.8 570.1 M393.1 567.0 L388.6 581.3 M400.1 578.7 L394.7 589.0 M407.1 590.3 L398.3 595.7 M414.1 602.0 L404.2 607.3 M421.1 613.6 L411.1 619.6 M428.1 625.3 L418.2 631.2 M435.1 637.0 L425.9 640.0 M442.1 648.6 L434.0 641.9 M449.1 660.3 L441.8 646.8 M456.2 671.9 L449.7 653.1 M463.2 683.6 L456.2 665.3 M470.2 695.2 L457.1 696.8 M477.2 706.9 L459.5 720.3 M484.2 718.6 L466.6 732.5 M491.2 730.2 L475.3 746.3 M498.2 741.9 L482.7 762.9 M505.2 753.5 L481.9 774.4 M512.2 765.2 L481.1 783.5 M519.2 776.8 L487.2 794.8 M279.3 349.8 L281.4 369.8 M286.3 361.5 L288.5 381.7 M293.3 373.2 L295.4 393.3 M300.3 384.8 L302.4 404.9 M307.3 396.5 L309.2 416.4 M314.3 408.1 L316.2 428.0 M321.3 419.8 L323.1 439.6 M328.3 431.4 L329.1 450.4 M335.3 443.1 L333.9 460.5 M342.3 454.8 L340.2 471.7 M349.3 466.4 L346.7 483.1 M356.3 478.1 L350.4 493.3 M363.3 489.7 L355.9 504.5 M370.4 501.4 L363.2 517.5 M377.4 513.0 L370.3 529.0 M384.4 524.7 L377.1 539.5 M391.4 536.4 L386.1 552.0 M398.4 548.0 L393.4 564.0 M405.4 559.7 L403.9 575.2 M412.4 571.3 L412.3 585.8 M419.4 583.0 L415.0 593.5 M426.4 594.6 L417.3 601.2 M433.4 606.3 L423.4 612.3 M440.4 618.0 L430.5 624.1 M447.4 629.6 L439.8 638.6 M454.4 641.3 L448.9 651.0 M461.4 652.9 L457.6 659.5 M468.4 664.6 L465.3 668.9 M475.4 676.2 L468.4 681.8 M482.4 687.9 L466.6 700.6 M489.4 699.6 L471.5 713.6 M496.4 711.2 L478.6 725.3 M503.5 722.9 L489.7 743.9 M510.5 734.5 L500.3 764.0 M517.5 746.2 L502.7 774.0 M524.5 757.8 L497.6 778.9 M531.5 769.5 L500.3 788.0 M291.6 342.5 L294.4 363.2 M298.6 354.2 L301.5 375.1 M305.6 365.8 L308.6 386.8 M312.6 377.5 L315.5 398.3 M319.6 389.1 L322.1 409.5 M326.6 400.8 L328.9 420.8 M333.6 412.5 L335.7 432.2 M340.6 424.1 L342.0 443.3 M347.6 435.8 L347.6 454.0 M354.6 447.4 L353.3 464.9 M361.6 459.1 L358.9 476.1 M368.6 470.7 L363.6 487.3 M375.6 482.4 L368.9 499.2 M382.6 494.0 L375.6 511.0 M389.6 505.7 L383.2 522.7 M396.6 517.4 L392.6 534.3 M403.6 529.0 L400.0 545.6 M410.6 540.7 L411.0 556.1 M417.7 552.3 L421.6 567.3 M424.7 564.0 L427.6 579.1 M431.7 575.6 L431.2 589.4 M438.7 587.3 L432.4 596.9 M445.7 599.0 L437.4 607.2 M452.7 610.6 L446.2 622.6 M459.7 622.3 L454.7 637.1 M466.7 633.9 L461.9 648.9 M473.7 645.6 L473.9 664.5 M480.7 657.2 L486.2 681.9 M487.7 668.9 L491.1 692.5 M494.7 680.6 L485.6 698.4 M501.7 692.2 L485.8 707.9 M508.7 703.9 L495.0 723.5 M515.7 715.5 L507.8 748.0 M522.7 727.2 L514.8 761.1 M529.7 738.8 L520.7 772.0 M536.7 750.5 L522.1 781.4 M543.7 762.2 L524.3 789.9 M303.8 335.2 L307.3 356.0 M310.8 346.8 L313.9 367.8 M317.8 358.5 L320.9 379.5 M324.9 370.1 L327.9 391.1 M331.9 381.8 L335.3 402.6 M338.9 393.5 L342.8 414.2 M345.9 405.1 L350.2 425.9 M352.9 416.8 L357.3 437.6 M359.9 428.4 L363.7 448.9 M366.9 440.1 L369.5 459.9 M373.9 451.7 L375.0 470.9 M380.9 463.4 L379.3 481.8 M387.9 475.1 L382.5 492.4 M394.9 486.7 L388.3 503.8 M401.9 498.4 L396.9 515.5 M408.9 510.0 L404.9 527.0 M415.9 521.7 L413.4 539.2 M422.9 533.3 L427.0 550.5 M429.9 545.0 L434.0 560.5 M436.9 556.7 L440.7 572.9 M443.9 568.3 L446.2 585.2 M450.9 580.0 L449.6 595.3 M457.9 591.6 L453.8 605.7 M465.0 603.3 L460.1 618.2 M472.0 614.9 L467.0 629.9 M479.0 626.6 L474.2 641.8 M486.0 638.3 L490.6 662.8 M493.0 649.9 L500.9 677.9 M500.0 661.6 L507.8 689.4 M507.0 673.2 L509.9 699.3 M514.0 684.9 L510.3 712.0 M521.0 696.5 L520.3 729.8 M528.0 708.2 L523.7 742.7 M535.0 719.9 L527.0 753.9 M542.0 731.5 L532.8 765.4 M549.0 743.2 L535.2 777.1 M556.0 754.8 L542.1 788.6 M316.1 327.8 L321.3 348.8 M323.1 339.5 L328.2 360.5 M330.1 351.1 L334.5 372.1 M337.1 362.8 L341.5 383.9 M344.1 374.5 L349.8 396.0 M351.1 386.1 L358.1 408.2 M358.1 397.8 L366.0 420.4 M365.1 409.4 L373.9 432.7 M372.2 421.1 L381.1 444.4 M379.2 432.7 L387.4 455.6 M386.2 444.4 L394.4 466.8 M393.2 456.1 L401.8 478.4 M400.2 467.7 L405.9 489.0 M407.2 479.4 L407.3 498.7 M414.2 491.0 L412.9 509.7 M421.2 502.7 L422.1 522.2 M428.2 514.3 L440.1 539.2 M435.2 526.0 L449.0 551.9 M442.2 537.7 L453.5 561.5 M449.2 549.3 L457.0 571.3 M456.2 561.0 L463.1 584.6 M463.2 572.6 L468.0 595.8 M470.2 584.3 L471.0 604.5 M477.2 595.9 L475.0 613.8 M484.2 607.6 L480.9 624.6 M491.2 619.3 L490.2 638.7 M498.2 630.9 L504.6 657.6 M505.2 642.6 L513.2 670.6 M512.3 654.2 L520.1 682.2 M519.3 665.9 L524.8 695.1 M526.3 677.5 L528.9 711.0 M533.3 689.2 L536.8 725.0 M540.3 700.9 L544.3 736.9 M547.3 712.5 L547.7 747.9 M554.3 724.2 L543.7 758.4 M561.3 735.8 L547.3 769.8 M568.3 747.5 L554.4 781.5 M328.4 320.5 L334.3 341.5 M335.4 332.2 L341.4 353.2 M342.4 343.8 L348.4 364.8 M349.4 355.5 L356.1 377.1 M356.4 367.1 L365.2 389.7 M363.4 378.8 L372.8 401.7 M370.4 390.4 L380.5 414.2 M377.4 402.1 L388.8 426.8 M384.4 413.8 L396.0 438.6 M391.4 425.4 L402.7 449.9 M398.4 437.1 L410.8 461.0 M405.4 448.7 L419.1 472.7 M412.4 460.4 L426.2 484.3 M419.4 472.0 L430.8 495.6 M426.5 483.7 L433.4 506.9 M433.5 495.3 L442.7 519.8 M440.5 507.0 L454.0 532.9 M447.5 518.7 L461.4 544.7 M454.5 530.3 L467.7 556.4 M461.5 542.0 L474.0 572.0 M468.5 553.6 L482.0 587.6 M475.5 565.3 L487.7 598.4 M482.5 576.9 L490.9 606.6 M489.5 588.6 L496.5 618.3 M496.5 600.3 L506.2 634.2 M503.5 611.9 L514.8 648.1 M510.5 623.6 L520.2 656.7 M517.5 635.2 L525.5 664.7 M524.5 646.9 L531.9 677.1 M531.5 658.5 L538.7 694.0 M538.5 670.2 L545.5 708.7 M545.5 681.9 L550.1 718.7 M552.5 693.5 L556.3 729.7 M559.6 705.2 L562.6 742.4 M566.6 716.8 L565.2 753.9 M573.6 728.5 L562.8 763.2 M580.6 740.1 L568.7 774.5 M340.7 313.2 L346.6 334.1 M347.7 324.8 L353.7 345.8 M354.7 336.5 L360.7 357.5 M361.7 348.1 L370.3 370.5 M368.7 359.8 L378.6 382.8 M375.7 371.4 L385.7 394.5 M382.7 383.1 L393.4 407.0 M389.7 394.8 L401.6 419.7 M396.7 406.4 L408.7 431.4 M403.7 418.1 L415.6 443.1 M410.7 429.7 L423.8 454.2 M417.7 441.4 L431.7 465.4 M424.7 453.0 L438.7 477.0 M431.7 464.7 L445.2 489.2 M438.7 476.4 L451.1 504.7 M445.7 488.0 L459.2 519.2 M452.7 499.7 L466.4 529.1 M459.7 511.3 L473.2 538.9 M466.7 523.0 L480.5 553.5 M473.8 534.6 L489.3 571.6 M480.8 546.3 L496.7 584.2 M487.8 558.0 L503.3 595.4 M494.8 569.6 L507.9 605.1 M501.8 581.3 L514.1 618.3 M508.8 592.9 L522.6 632.6 M515.8 604.6 L529.8 644.6 M522.8 616.2 L536.3 655.5 M529.8 627.9 L540.2 663.7 M536.8 639.6 L545.4 676.3 M543.8 651.2 L553.3 692.2 M550.8 662.9 L560.7 704.8 M557.8 674.5 L567.1 715.9 M564.8 686.2 L570.7 725.5 M571.8 697.8 L577.8 737.8 M578.8 709.5 L584.7 749.4 M585.8 721.2 L588.5 759.8 M592.8 732.8 L590.7 769.6 M352.9 305.8 L357.9 326.3 M359.9 317.5 L365.2 338.1 M366.9 329.1 L373.0 350.2 M373.9 340.8 L383.1 363.4 M381.0 352.4 L390.9 375.4 M388.0 364.1 L397.9 387.1 M395.0 375.8 L405.5 399.6 M402.0 387.4 L413.9 412.4 M409.0 399.1 L421.0 424.1 M416.0 410.7 L428.0 436.0 M423.0 422.4 L436.0 448.6 M430.0 434.0 L443.8 459.2 M437.0 445.7 L450.9 470.6 M444.0 457.4 L457.8 484.7 M451.0 469.0 L466.1 502.9 M458.0 480.7 L473.9 516.5 M465.0 492.3 L480.9 528.1 M472.0 504.0 L487.1 538.0 M479.0 515.6 L493.9 550.6 M486.0 527.3 L501.9 565.1 M493.0 539.0 L509.0 577.0 M500.0 550.6 L515.9 588.5 M507.0 562.3 L521.5 599.3 M514.0 573.9 L527.3 612.3 M521.1 585.6 L534.9 625.4 M528.1 597.2 L542.0 637.2 M535.1 608.9 L548.7 648.6 M542.1 620.6 L553.4 658.8 M549.1 632.2 L558.3 671.5 M556.1 643.9 L565.8 685.5 M563.1 655.5 L573.1 697.5 M570.1 667.2 L579.9 709.0 M577.1 678.8 L583.8 718.9 M584.1 690.5 L590.1 730.5 M591.1 702.2 L597.0 742.1 M598.1 713.8 L603.6 753.5 M605.1 725.5 L609.4 764.4 M365.2 298.5 L369.2 318.5 M372.2 310.1 L376.2 330.1 M379.2 321.8 L383.6 342.0 M386.2 333.5 L393.5 355.3 M393.2 345.1 L402.7 368.1 M400.2 356.8 L410.0 380.2 M407.2 368.4 L417.4 393.9 M414.2 380.1 L425.4 406.3 M421.2 391.7 L432.9 417.8 M428.2 403.4 L440.5 431.2 M435.3 415.0 L449.2 447.5 M442.3 426.7 L456.9 461.1 M449.3 438.4 L463.9 472.0 M456.3 450.0 L470.9 482.9 M463.3 461.7 L479.0 497.1 M470.3 473.3 L486.3 509.3 M477.3 485.0 L493.3 521.0 M484.3 496.6 L500.3 532.5 M491.3 508.3 L506.8 544.3 M498.3 520.0 L514.1 557.4 M505.3 531.6 L521.2 569.5 M512.3 543.3 L528.1 581.1 M519.3 554.9 L534.0 592.6 M526.3 566.6 L539.9 605.4 M533.3 578.2 L546.9 618.4 M540.3 589.9 L554.0 630.5 M547.3 601.6 L560.6 642.0 M554.3 613.2 L565.8 652.7 M561.3 624.9 L570.6 664.9 M568.4 636.5 L577.4 677.9 M575.4 648.2 L584.5 689.9 M582.4 659.8 L591.2 701.2 M589.4 671.5 L596.1 711.4 M596.4 683.2 L602.1 722.8 M603.4 694.8 L609.4 734.8 M610.4 706.5 L616.4 746.5 M617.4 718.1 L623.0 757.7 M377.5 291.1 L381.4 311.1 M384.5 302.8 L388.5 322.8 M391.5 314.5 L395.0 334.2 M398.5 326.1 L402.4 346.1 M405.5 337.8 L412.1 360.5 M412.5 349.4 L421.4 376.5 M419.5 361.1 L429.4 391.8 M426.5 372.7 L436.6 404.0 M433.5 384.4 L444.0 414.9 M440.5 396.1 L453.2 428.0 M447.5 407.7 L462.3 443.2 M454.5 419.4 L469.5 455.4 M461.5 431.0 L476.5 467.0 M468.5 442.7 L483.5 477.9 M475.5 454.3 L491.7 490.3 M482.6 466.0 L499.5 502.9 M489.6 477.7 L507.2 515.3 M496.6 489.3 L513.9 526.7 M503.6 501.0 L520.1 537.9 M510.6 512.6 L527.1 550.6 M517.6 524.3 L534.7 563.4 M524.6 535.9 L541.8 575.3 M531.6 547.6 L547.7 586.6 M538.6 559.3 L552.7 599.3 M545.6 570.9 L559.5 612.6 M552.6 582.6 L566.6 624.6 M559.6 594.2 L573.5 636.1 M566.6 605.9 L578.8 646.5 M573.6 617.5 L582.7 658.0 M580.6 629.2 L589.6 671.0 M587.6 640.9 L596.6 682.9 M594.6 652.5 L603.5 694.3 M601.6 664.2 L607.7 703.4 M608.6 675.8 L613.1 714.3 M615.7 687.5 L621.4 727.2 M622.7 699.1 L628.5 739.0 M629.7 710.8 L634.9 749.9 M389.8 283.8 L392.1 302.9 M396.8 295.5 L398.0 314.0 M403.8 307.1 L404.4 325.1 M410.8 318.8 L411.3 336.0 M417.8 330.4 L421.0 351.1 M424.8 342.1 L433.5 371.5 M431.8 353.7 L441.8 385.7 M438.8 365.4 L448.8 397.4 M445.8 377.1 L455.9 408.9 M452.8 388.7 L464.9 421.4 M459.8 400.4 L474.5 435.9 M466.8 412.0 L481.8 448.0 M473.8 423.7 L488.8 459.6 M480.8 435.3 L495.9 470.9 M487.8 447.0 L504.7 483.8 M494.8 458.7 L512.7 496.6 M501.8 470.3 L519.8 508.3 M508.8 482.0 L526.7 519.9 M515.8 493.6 L533.0 531.3 M522.8 505.3 L540.4 544.6 M529.9 516.9 L547.8 556.9 M536.9 528.6 L554.8 568.6 M543.9 540.3 L561.3 580.0 M550.9 551.9 L565.5 592.2 M557.9 563.6 L571.8 605.3 M564.9 575.2 L578.9 617.2 M571.9 586.9 L585.7 628.7 M578.9 598.5 L590.8 639.0 M585.9 610.2 L594.4 649.9 M592.9 621.9 L601.5 663.2 M599.9 633.5 L608.8 675.4 M606.9 645.2 L614.9 686.1 M613.9 656.8 L615.3 692.7 M620.9 668.5 L618.9 702.8 M627.9 680.1 L627.7 715.4 M634.9 691.8 L637.4 728.4 M641.9 703.5 L644.6 739.3 M402.0 276.5 L402.2 294.5 M409.0 288.1 L409.0 306.1 M416.0 299.8 L415.5 316.6 M423.0 311.4 L421.3 325.9 M430.0 323.1 L429.9 339.7 M437.1 334.8 L444.3 362.3 M444.1 346.4 L453.9 378.2 M465.1 381.4 L476.4 413.6 M472.1 393.0 L485.9 427.5 M479.1 404.7 L493.7 440.1 M486.1 416.3 L500.8 451.8 M493.1 428.0 L508.2 463.4 M500.1 439.7 L516.8 476.4 M507.1 451.3 L524.8 489.0 M514.1 463.0 L532.0 500.9 M521.1 474.6 L538.8 512.4 M528.1 486.3 L545.3 524.2 M535.1 497.9 L552.8 537.5 M542.1 509.6 L560.1 549.6 M549.1 521.3 L567.1 561.3 M556.1 532.9 L573.6 572.7 M563.1 544.6 L577.7 584.3 M570.1 556.2 L583.3 596.9 M577.2 567.9 L590.2 608.8 M584.2 579.5 L596.6 620.0 M591.2 591.2 L601.1 630.2 M598.2 602.9 L603.9 640.4 M605.2 614.5 L610.1 652.4 M612.2 626.2 L617.4 664.0 M619.2 637.8 L621.2 672.6 M626.2 649.5 L622.8 682.7 M633.2 661.1 L629.2 695.1 M640.2 672.8 L636.3 706.5 M647.2 684.5 L644.2 716.0 M654.2 696.1 L652.3 725.2 M414.3 269.1 L414.3 286.8 M421.3 280.8 L421.0 298.1 M428.3 292.4 L426.4 306.6 M435.3 304.1 L433.3 318.1 M442.3 315.8 L441.0 330.8 M519.4 444.0 L536.4 480.9 M526.4 455.6 L543.6 492.9 M533.4 467.3 L550.4 504.6 M540.4 479.0 L557.1 516.6 M547.4 490.6 L564.6 529.6 M554.4 502.3 L572.0 541.9 M561.4 513.9 L579.0 553.6 M568.4 525.6 L584.7 564.9 M575.4 537.2 L588.6 576.5 M582.4 548.9 L594.5 588.7 M589.4 560.6 L601.4 600.5 M596.4 572.2 L608.3 612.1 M603.4 583.9 L612.4 622.4 M610.4 595.5 L613.2 632.8 M617.4 607.2 L619.5 644.8 M624.5 618.8 L626.1 654.9 M631.5 630.5 L629.6 658.6 M638.5 642.2 L634.1 671.5 M645.5 653.8 L641.4 687.4 M652.5 665.5 L648.2 697.5 M659.5 677.1 L654.4 702.5 M666.5 688.8 L661.2 709.2 M426.6 261.8 L426.3 278.8 M433.6 273.4 L432.7 289.4 M440.6 285.1 L438.9 299.7 M447.6 296.8 L445.8 311.1 M580.7 518.2 L594.8 556.5 M587.7 529.9 L599.8 568.7 M594.7 541.6 L606.6 581.3 M601.7 553.2 L613.7 593.2 M608.7 564.9 L620.6 604.8 M615.7 576.5 L623.8 614.4 M622.7 588.2 L624.8 625.7 M629.7 599.8 L631.7 637.8 M636.7 611.5 L638.4 648.5 M643.7 623.2 L639.8 642.5 M650.7 634.8 L641.0 633.6 M657.7 646.5 L646.8 639.1 M664.7 658.1 L654.8 656.6 M671.8 669.8 L662.8 674.9 M678.8 681.4 L670.3 689.2 M438.8 254.5 L438.7 271.3 M445.9 266.1 L445.2 282.2 M614.0 545.9 L625.5 585.2 M621.0 557.5 L631.6 596.0 M628.0 569.2 L632.6 602.6 M635.0 580.8 L635.7 614.4 M642.0 592.5 L643.1 628.1 M649.0 604.2 L647.8 633.5 M656.0 615.8 L647.4 620.9 M663.0 627.5 L651.1 615.4 M670.0 639.1 L658.0 625.1 M677.0 650.8 L665.1 637.7 M684.0 662.4 L672.4 655.0 M691.0 674.1 L679.6 671.8 M451.1 247.1 L451.3 264.2 M640.3 561.9 L636.6 580.1 M647.3 573.5 L637.2 581.2 M654.3 585.2 L641.2 586.5 M661.3 596.8 L648.2 597.7 M668.3 608.5 L655.0 604.5 M675.3 620.1 L661.0 610.8 M682.3 631.8 L668.7 620.9 M689.3 643.5 L676.1 632.2 M696.3 655.1 L682.5 645.7 M703.3 666.8 L689.3 659.5 M659.5 566.2 L645.1 564.4 M666.5 577.8 L651.5 574.8 M673.5 589.5 L658.6 586.5 M680.6 601.1 L665.3 595.4 M687.6 612.8 L672.6 603.8 M694.6 624.5 L679.6 615.4 M701.6 636.1 L685.4 625.7 M708.6 647.8 L691.6 636.7 M715.6 659.4 L699.2 649.3 M678.8 570.5 L663.8 567.5 M685.8 582.1 L670.0 578.2 M692.8 593.8 L675.9 588.8 M699.8 605.5 L683.6 598.7 M706.8 617.1 L690.6 607.3 M713.8 628.8 L695.9 616.8 M720.8 640.4 L702.9 628.5 M727.9 652.1 L710.7 640.7 M698.1 574.8 L681.3 569.9 M705.1 586.5 L688.1 581.5 M712.1 598.1 L695.2 591.1 M719.1 609.8 L702.1 599.0 M726.1 621.4 L708.4 609.6 M733.1 633.1 L716.0 621.2 M740.1 644.8 L723.6 633.0 M710.4 567.5 L693.9 562.0 M717.4 579.1 L700.6 572.2 M724.4 590.8 L707.4 580.0 M731.4 602.4 L714.4 591.4 M738.4 614.1 L722.0 602.4 M745.4 625.8 L729.4 613.8 M752.4 637.4 L736.3 625.5" stroke="#000" stroke-width="1" fill="none" shape-rendering="crispEdges"/><path d="M175.9 411.2 L173.1 417.6 L179.1 414.0 M182.9 422.9 L180.1 429.2 L186.1 425.7 M190.0 434.6 L187.2 441.0 L193.2 437.4 M197.4 447.7 L195.8 455.0 L201.1 449.7 M204.5 459.6 L203.1 467.2 L208.3 461.5 M211.6 471.3 L210.2 478.8 L215.3 473.2 M219.7 484.1 L220.2 491.9 L223.8 485.0 M229.4 498.5 L232.8 506.0 L233.5 497.8 M236.6 510.3 L240.1 517.8 L240.7 509.6 M242.9 521.0 L245.9 528.7 L247.1 520.5 M245.1 526.3 L240.0 531.7 L247.2 529.9 M251.8 537.6 L246.2 542.8 L253.7 541.4 M258.8 549.2 L253.0 554.3 L260.6 553.0 M265.3 560.2 L258.4 564.7 L266.7 564.2 M272.4 571.3 L265.2 575.2 L273.4 575.4 M279.6 582.3 L272.2 585.6 L280.2 586.5 M286.6 593.6 L279.0 596.5 L287.0 597.8 M293.5 604.7 L285.5 606.9 L293.6 608.9 M300.8 615.9 L292.7 617.5 L300.5 620.1 M309.3 624.3 L301.5 621.7 L307.0 627.9 M316.4 627.8 L310.8 621.7 L312.7 629.8 M323.4 637.9 L318.2 631.5 L319.6 639.7 M330.4 649.8 L325.1 643.5 L326.6 651.6 M336.9 665.3 L330.6 659.9 L333.5 667.7 M343.1 681.0 L335.4 677.9 L340.5 684.4 M350.0 692.9 L342.2 690.0 L347.5 696.3 M357.0 704.6 L349.2 701.7 L354.6 708.1 M364.2 718.5 L356.1 717.3 L362.6 722.3 M370.6 732.6 L362.6 734.5 L370.5 736.8 M377.0 745.2 L369.2 748.0 L377.3 749.3 M382.8 758.0 L375.4 761.7 L383.7 762.1 M389.5 769.9 L382.3 773.9 L390.5 774.0 M396.5 781.6 L389.3 785.6 L397.5 785.7 M403.2 793.4 L396.0 797.5 L404.3 797.5 M407.5 806.8 L400.6 811.3 L408.8 810.7 M410.2 821.4 L403.7 826.6 L411.9 825.3 M415.3 834.7 L409.1 840.1 L417.2 838.5 M188.1 403.7 L185.1 409.9 L191.2 406.6 M195.1 415.3 L191.9 421.5 L198.1 418.2 M202.1 427.1 L199.2 433.5 L205.2 430.0 M209.5 439.8 L207.4 446.9 L213.0 442.1 M216.8 452.2 L215.2 459.6 L220.5 454.1 M224.1 464.2 L223.0 471.8 L227.9 465.9 M232.9 477.9 L234.6 486.0 L237.1 478.1 M241.4 491.2 L244.6 498.8 L245.6 490.6 M248.8 502.9 L252.3 510.4 L252.9 502.2 M254.8 513.0 L257.4 520.9 L259.0 512.8 M257.6 519.3 L253.2 525.0 L260.0 522.7 M264.1 530.3 L258.4 535.4 L266.0 534.0 M270.1 541.2 L263.1 545.6 L271.4 545.2 M276.7 552.7 L269.5 556.8 L277.8 556.7 M284.0 564.3 L276.8 568.5 L285.1 568.4 M291.7 575.2 L284.3 578.7 L292.5 579.3 M298.6 585.8 L290.7 588.1 L298.7 590.0 M305.5 597.3 L297.5 599.4 L305.5 601.5 M312.5 608.9 L304.5 611.0 L312.5 613.1 M321.1 618.3 L312.9 617.2 L319.6 622.2 M328.7 620.0 L323.2 613.8 L324.9 621.9 M335.7 630.4 L330.5 624.0 L331.9 632.2 M342.7 642.2 L337.5 635.8 L338.9 643.9 M349.3 656.2 L343.4 650.3 L345.6 658.3 M355.5 672.6 L348.3 668.6 L352.7 675.6 M362.3 685.5 L354.6 682.5 L359.8 688.9 M369.4 697.7 L361.5 695.1 L367.1 701.3 M375.8 713.8 L367.8 715.7 L375.8 718.0 M382.2 726.4 L374.6 729.4 L382.7 730.5 M389.2 738.0 L381.5 741.0 L389.7 742.2 M395.5 750.2 L388.0 753.6 L396.2 754.3 M401.8 762.5 L394.5 766.5 L402.7 766.6 M408.5 774.4 L401.2 778.5 L409.5 778.5 M413.0 787.5 L406.1 792.0 L414.3 791.5 M413.0 804.0 L406.7 809.3 L414.8 807.8 M417.1 817.9 L410.9 823.4 L419.0 821.6 M424.0 829.8 L417.9 835.4 L426.0 833.5 M200.2 396.0 L196.8 402.1 L203.1 399.1 M207.2 407.6 L203.7 413.5 L210.0 410.7 M214.3 419.4 L210.9 425.5 L217.2 422.5 M221.5 432.1 L218.8 438.9 L224.8 434.7 M228.5 443.8 L225.9 450.6 L231.8 446.3 M236.6 457.0 L236.0 464.6 L240.5 458.5 M246.4 472.7 L249.3 480.5 L250.6 472.3 M253.7 484.8 L256.7 492.5 L257.8 484.3 M260.5 495.9 L263.4 503.7 L264.7 495.5 M266.2 505.0 L267.8 512.9 L270.4 505.3 M270.5 513.1 L267.5 519.4 L273.6 515.9 M276.1 522.8 L270.0 527.8 L277.9 526.6 M282.0 533.7 L274.8 537.9 L283.1 537.8 M288.9 545.3 L281.7 549.4 L290.0 549.4 M296.1 557.1 L289.0 561.4 L297.3 561.1 M303.9 568.3 L296.7 572.2 L304.9 572.3 M310.9 578.5 L303.0 580.9 L311.1 582.7 M317.7 589.9 L309.7 592.1 L317.8 594.1 M324.8 601.6 L316.8 603.6 L324.8 605.8 M333.1 611.6 L324.9 611.5 L332.0 615.6 M340.9 616.1 L334.7 610.6 L337.4 618.4 M347.9 624.1 L342.5 617.9 L344.2 626.0 M354.7 635.6 L349.2 629.4 L351.0 637.5 M361.3 646.6 L355.8 640.4 L357.5 648.5 M368.2 658.8 L362.6 652.7 L364.5 660.8 M375.2 675.3 L368.4 670.6 L371.9 678.0 M382.3 692.0 L374.1 690.5 L380.5 695.8 M387.6 707.3 L379.9 710.2 L388.1 711.4 M394.4 719.1 L386.8 722.3 L395.0 723.3 M401.5 730.7 L393.8 733.8 L402.0 734.9 M407.8 742.7 L400.2 746.0 L408.5 746.8 M414.1 754.9 L406.6 758.5 L414.9 759.0 M418.9 767.9 L411.8 772.2 L420.1 771.9 M418.0 785.1 L411.6 790.5 L419.8 788.9 M420.4 800.2 L414.3 805.8 L422.4 804.0 M427.1 812.1 L421.0 817.8 L429.1 815.8 M434.5 823.6 L428.4 829.2 L436.5 827.3 M212.7 389.1 L209.6 395.5 L215.7 392.0 M219.6 400.5 L216.3 406.7 L222.5 403.5 M226.9 413.1 L224.4 419.9 L230.2 415.6 M233.7 424.7 L231.0 431.6 L237.0 427.3 M240.7 436.4 L238.0 443.2 L244.0 439.0 M248.6 449.3 L247.6 456.8 L252.4 451.1 M258.7 465.5 L261.6 473.2 L262.9 465.1 M265.9 477.4 L268.9 485.1 L270.1 476.9 M272.7 488.8 L275.6 496.5 L276.9 488.4 M278.3 498.0 L279.8 506.2 L282.5 498.4 M283.1 506.8 L281.1 513.8 L286.7 509.1 M288.6 516.2 L283.3 521.9 L290.8 519.8 M294.8 527.0 L288.1 531.8 L296.3 530.9 M301.4 538.8 L294.8 543.7 L303.0 542.7 M308.5 550.9 L302.1 556.1 L310.2 554.7 M315.9 562.2 L309.4 567.3 L317.6 566.0 M323.4 572.3 L316.2 575.9 L324.2 576.4 M330.4 582.9 L322.6 585.3 L330.6 587.1 M337.6 594.1 L329.7 596.0 L337.5 598.3 M345.3 604.5 L337.2 604.7 L344.3 608.6 M352.5 614.9 L344.3 613.6 L350.8 618.8 M359.8 624.0 L352.4 620.4 L357.1 627.2 M366.6 629.1 L360.8 623.2 L363.0 631.2 M373.5 638.9 L368.0 632.7 L369.7 640.8 M380.5 650.6 L375.0 644.4 L376.8 652.5 M387.8 664.5 L382.0 658.6 L384.2 666.6 M395.3 681.1 L388.4 676.6 L392.1 683.9 M401.1 698.2 L393.2 699.0 L400.5 702.3 M407.2 711.3 L399.4 713.8 L407.5 715.4 M414.0 723.0 L406.2 725.7 L414.3 727.2 M419.6 735.6 L412.1 739.1 L420.4 739.8 M426.5 747.4 L419.1 750.9 L427.3 751.5 M432.3 759.8 L425.0 763.7 L433.3 763.8 M428.4 779.2 L422.2 784.6 L430.3 782.9 M432.2 793.2 L426.1 798.9 L434.2 796.9 M439.2 804.9 L433.1 810.5 L441.2 808.6 M446.4 816.5 L440.4 822.1 L448.4 820.2 M226.1 384.6 L225.4 392.7 L230.0 386.0 M233.5 398.0 L233.8 406.3 L237.6 398.9 M240.6 410.1 L241.1 418.4 L244.7 410.9 M246.9 419.3 L245.9 427.3 L250.8 420.9 M253.4 429.8 L251.5 437.1 L257.0 432.0 M261.4 442.9 L261.2 450.8 L265.4 444.1 M270.3 457.3 L272.5 465.3 L274.5 457.3 M277.8 469.7 L280.5 477.5 L282.0 469.4 M284.4 480.8 L286.7 488.8 L288.6 480.7 M290.1 490.9 L291.1 499.2 L294.3 491.5 M295.8 500.8 L294.6 508.7 L299.6 502.4 M301.4 510.5 L297.6 517.5 L304.4 513.4 M307.2 520.9 L301.4 526.8 L309.3 524.5 M313.5 532.3 L307.3 537.8 L315.4 536.0 M320.5 543.9 L314.3 549.4 L322.4 547.7 M327.8 555.7 L321.8 561.3 L329.8 559.4 M335.6 567.0 L329.8 572.7 L337.7 570.7 M343.0 577.3 L336.9 581.7 L344.4 581.3 M350.3 587.0 L343.1 589.3 L350.4 591.2 M357.0 597.4 L348.7 598.0 L356.2 601.5 M363.6 608.8 L355.3 609.3 L362.8 613.0 M370.8 620.3 L362.5 620.5 L369.8 624.4 M379.0 627.2 L372.0 622.9 L376.0 630.1 M385.9 632.8 L380.3 626.7 L382.2 634.8 M393.1 644.2 L387.6 638.0 L389.4 646.1 M400.5 655.5 L395.2 649.2 L396.7 657.3 M407.6 667.3 L402.3 661.0 L403.8 669.1 M415.4 682.3 L409.8 676.2 L411.7 684.3 M422.9 697.1 L416.6 691.8 L419.5 699.6 M427.9 713.6 L420.0 713.6 L426.8 717.6 M431.9 728.3 L424.4 731.8 L432.7 732.4 M438.8 740.0 L431.4 743.6 L439.6 744.2 M445.1 752.2 L437.7 756.0 L446.0 756.3 M442.9 770.4 L436.6 775.7 L444.8 774.1 M444.9 785.6 L438.9 791.3 L446.9 789.4 M451.6 797.5 L445.6 803.1 L453.6 801.2 M458.9 809.2 L452.9 814.9 L460.9 812.9 M239.0 379.4 L239.6 387.6 L243.1 380.1 M245.9 391.3 L246.5 399.5 L250.0 392.0 M252.9 402.9 L253.5 411.2 L257.0 403.7 M260.0 414.5 L260.7 422.8 L264.1 415.3 M267.4 426.5 L268.6 434.7 L271.6 427.0 M275.5 440.1 L277.6 448.1 L279.7 440.1 M282.7 452.0 L285.1 460.0 L286.9 451.9 M289.4 462.8 L291.6 470.8 L293.6 462.7 M295.7 473.5 L297.2 481.7 L299.9 473.9 M302.2 484.9 L303.1 493.1 L306.3 485.5 M308.7 495.8 L308.9 504.1 L312.8 496.8 M314.3 505.3 L312.4 513.4 L318.1 507.3 M320.0 515.0 L315.7 522.0 L322.9 518.0 M325.9 525.1 L319.8 530.7 L327.9 528.8 M332.8 536.7 L326.7 542.2 L334.7 540.4 M340.1 549.5 L334.9 555.9 L342.6 552.9 M347.5 562.1 L343.0 569.1 L350.3 565.2 M355.4 572.5 L350.8 579.1 L358.1 575.7 M362.7 580.9 L356.6 584.6 L363.7 585.0 M369.2 590.2 L361.0 590.9 L368.6 594.3 M375.8 601.5 L367.6 602.0 L375.0 605.6 M382.9 613.2 L374.7 613.6 L382.1 617.3 M391.5 624.1 L383.6 623.4 L390.0 628.1 M399.7 632.6 L392.8 628.1 L396.6 635.4 M406.1 638.5 L400.5 632.4 L402.4 640.4 M412.8 647.7 L407.6 641.3 L409.0 649.5 M419.8 659.4 L414.6 653.0 L416.0 661.1 M429.1 670.6 L424.8 663.5 L425.0 671.8 M436.5 681.8 L432.5 674.6 L432.5 682.9 M442.8 698.8 L437.5 692.4 L439.0 700.6 M446.2 719.3 L438.3 721.2 L446.1 723.5 M451.3 732.8 L443.9 736.4 L452.2 736.9 M456.8 745.9 L449.9 750.5 L458.1 749.9 M458.2 762.3 L452.1 767.9 L460.1 766.0 M459.7 777.7 L453.8 783.5 L461.8 781.4 M464.6 790.6 L458.7 796.4 L466.7 794.3 M470.4 803.1 L464.5 808.9 L472.5 806.7 M252.3 374.2 L254.2 382.3 L256.5 374.3 M259.8 386.7 L262.0 394.7 L264.0 386.7 M267.3 399.2 L269.8 407.0 L271.5 398.9 M274.0 410.4 L276.4 418.3 L278.2 410.2 M281.5 422.7 L284.1 430.5 L285.7 422.4 M288.9 435.0 L291.7 442.8 L293.0 434.6 M295.8 446.6 L298.6 454.3 L300.0 446.2 M302.0 456.9 L304.4 464.8 L306.2 456.7 M307.8 466.6 L309.0 474.8 L311.9 467.1 M314.6 478.2 L315.7 486.4 L318.8 478.7 M321.6 489.8 L322.6 498.0 L325.7 490.3 M326.8 499.4 L325.7 507.5 L330.7 501.0 M333.0 510.3 L330.8 518.3 L336.6 512.4 M339.7 521.2 L336.9 528.9 L343.1 523.6 M345.7 531.7 L341.4 538.8 L348.6 534.7 M352.0 544.2 L347.9 551.3 L355.0 547.2 M359.1 555.9 L355.0 563.1 L362.1 558.8 M367.4 567.3 L364.0 574.8 L370.7 569.9 M375.4 576.9 L372.2 583.3 L378.5 579.8 M382.2 584.5 L375.7 587.3 L382.6 588.7 M388.8 594.8 L380.9 595.9 L388.3 599.0 M396.1 606.9 L388.8 608.7 L395.9 611.1 M403.5 620.3 L398.2 623.9 L404.6 624.3 M411.0 631.2 L405.9 634.2 L411.7 635.4 M420.1 638.0 L413.2 633.4 L416.9 640.8 M425.5 642.0 L420.1 635.7 L421.7 643.8 M432.8 652.9 L427.7 646.4 L429.0 654.6 M441.8 662.8 L437.7 655.6 L437.7 663.9 M448.9 674.2 L444.9 667.0 L444.8 675.2 M455.4 690.4 L450.5 683.7 L451.5 692.0 M458.4 713.2 L451.2 716.5 L459.1 717.3 M462.0 729.2 L456.2 735.0 L464.1 732.8 M468.0 742.7 L462.7 749.0 L470.5 746.1 M471.9 757.7 L467.0 764.4 L474.6 761.0 M472.9 772.2 L467.5 778.5 L475.3 775.7 M475.1 784.7 L469.3 790.6 L477.2 788.3 M481.0 796.4 L475.1 802.2 L483.1 800.1 M265.7 368.7 L268.3 376.5 L269.9 368.4 M273.1 381.0 L275.9 388.8 L277.3 380.6 M280.1 392.7 L283.0 400.5 L284.3 392.3 M287.1 404.3 L289.9 412.0 L291.2 403.9 M294.1 415.9 L296.9 423.7 L298.2 415.5 M301.2 427.7 L304.0 435.5 L305.3 427.3 M308.1 439.3 L311.0 447.1 L312.3 438.9 M314.5 449.9 L316.9 457.8 L318.7 449.7 M320.0 459.4 L321.3 467.6 L324.2 459.8 M326.9 470.9 L328.1 479.1 L331.1 471.4 M333.9 482.5 L335.0 490.7 L338.1 483.0 M338.9 492.0 L337.5 500.1 L342.7 493.7 M345.2 503.1 L343.1 511.1 L348.9 505.2 M352.2 514.7 L350.1 522.7 L355.9 516.8 M358.3 525.8 L355.2 533.4 L361.7 528.3 M364.3 536.9 L360.2 544.1 L367.3 539.9 M371.5 548.7 L367.5 555.9 L374.6 551.5 M381.0 562.0 L379.8 570.1 L384.9 563.6 M389.0 573.1 L388.6 581.3 L393.0 574.3 M395.8 582.4 L394.7 589.0 L399.5 584.3 M402.0 590.9 L398.3 595.7 L404.2 594.5 M408.7 602.5 L404.2 607.3 L410.7 606.2 M415.6 614.5 L411.1 619.6 L417.7 618.1 M422.6 626.2 L418.2 631.2 L424.7 629.8 M430.3 636.3 L425.9 640.0 L431.7 640.3 M439.8 644.0 L434.0 641.9 L437.1 647.2 M447.5 652.9 L441.8 646.8 L443.8 654.9 M454.3 660.0 L449.7 653.1 L450.3 661.4 M461.0 672.1 L456.2 665.3 L457.1 673.5 M464.0 693.9 L457.1 696.8 L464.5 698.0 M464.6 713.8 L459.5 720.3 L467.2 717.2 M471.5 725.9 L466.6 732.5 L474.1 729.2 M479.4 739.1 L475.3 746.3 L482.4 742.1 M485.8 755.2 L482.7 762.9 L489.1 757.7 M486.4 767.5 L481.9 774.4 L489.2 770.6 M486.9 777.6 L481.1 783.5 L489.0 781.3 M493.1 789.1 L487.2 794.8 L495.2 792.7 M278.4 362.1 L281.4 369.8 L282.6 361.7 M285.5 374.0 L288.5 381.7 L289.7 373.5 M292.5 385.6 L295.4 393.3 L296.7 385.1 M299.5 397.2 L302.4 404.9 L303.7 396.7 M306.4 408.6 L309.2 416.4 L310.6 408.2 M313.4 420.3 L316.2 428.0 L317.6 419.9 M320.3 431.8 L323.1 439.6 L324.5 431.4 M326.7 442.4 L329.1 450.4 L330.9 442.3 M332.5 452.3 L333.9 460.5 L336.7 452.7 M339.1 463.5 L340.2 471.7 L343.3 464.0 M345.9 474.9 L346.7 483.1 L350.0 475.6 M351.3 485.1 L350.4 493.3 L355.2 486.6 M357.6 496.4 L355.9 504.5 L361.4 498.3 M364.5 509.3 L363.2 517.5 L368.4 511.0 M371.7 520.8 L370.3 529.0 L375.5 522.5 M378.7 531.4 L377.1 539.5 L382.5 533.2 M386.7 543.8 L386.1 552.0 L390.6 545.1 M393.8 555.8 L393.4 564.0 L397.8 557.0 M402.6 567.0 L403.9 575.2 L406.7 567.4 M410.2 577.8 L412.3 585.8 L414.4 577.8 M415.5 586.9 L415.0 593.5 L419.4 588.5 M421.1 595.9 L417.3 601.2 L423.5 599.3 M427.8 607.2 L423.4 612.3 L430.0 610.8 M434.9 618.9 L430.5 624.1 L437.1 622.5 M442.4 632.3 L439.8 638.6 L445.6 635.0 M450.1 644.6 L448.9 651.0 L453.8 646.7 M457.9 654.8 L457.6 659.5 L461.5 656.9 M465.3 665.3 L465.3 668.9 L468.7 667.8 M471.0 677.1 L468.4 681.8 L473.6 680.4 M471.5 694.0 L466.6 700.6 L474.2 697.2 M476.5 707.0 L471.5 713.6 L479.1 710.3 M483.5 718.7 L478.6 725.3 L486.1 722.0 M492.4 736.0 L489.7 743.9 L495.9 738.3 M500.9 755.8 L500.3 764.0 L504.9 757.1 M504.6 766.0 L502.7 774.0 L508.3 767.9 M502.6 772.3 L497.6 778.9 L505.2 775.6 M506.1 782.1 L500.3 788.0 L508.3 785.7 M291.2 355.5 L294.4 363.2 L295.4 355.0 M298.3 367.5 L301.5 375.1 L302.5 366.9 M305.4 379.2 L308.6 386.8 L309.5 378.6 M312.3 390.7 L315.5 398.3 L316.5 390.1 M319.1 401.8 L322.1 409.5 L323.2 401.3 M325.9 413.1 L328.9 420.8 L330.0 412.6 M332.7 424.5 L335.7 432.2 L336.9 424.0 M339.3 435.5 L342.0 443.3 L343.5 435.2 M345.5 446.0 L347.6 454.0 L349.7 446.0 M351.8 456.8 L353.3 464.9 L356.0 457.1 M358.1 467.9 L358.9 476.1 L362.2 468.5 M363.9 479.0 L363.6 487.3 L367.9 480.3 M369.9 491.0 L368.9 499.2 L373.8 492.6 M376.7 502.9 L375.6 511.0 L380.6 504.5 M384.0 514.4 L383.2 522.7 L388.0 515.9 M392.4 526.1 L392.6 534.3 L396.5 527.0 M399.7 537.3 L400.0 545.6 L403.8 538.2 M408.7 548.2 L411.0 556.1 L412.9 548.1 M417.5 560.1 L421.6 567.3 L421.6 559.1 M424.0 571.7 L427.6 579.1 L428.1 570.9 M429.3 581.8 L431.2 589.4 L433.5 581.9 M434.1 590.5 L432.4 596.9 L437.6 592.8 M440.5 601.2 L437.4 607.2 L443.5 604.2 M447.9 615.0 L446.2 622.6 L451.6 617.0 M455.2 628.9 L454.7 637.1 L459.2 630.2 M462.4 640.7 L461.9 648.9 L466.4 641.9 M471.7 656.5 L473.9 664.5 L475.9 656.4 M482.4 674.5 L486.2 681.9 L486.5 673.6 M487.9 684.9 L491.1 692.5 L492.0 684.3 M487.4 690.3 L485.6 698.4 L491.1 692.2 M490.1 700.8 L485.8 707.9 L493.0 703.7 M497.9 715.7 L495.0 723.5 L501.3 718.1 M507.6 739.8 L507.8 748.0 L511.7 740.8 M514.6 752.8 L514.8 761.1 L518.6 753.8 M520.8 763.7 L520.7 772.0 L524.9 764.8 M523.6 773.3 L522.1 781.4 L527.4 775.0 M527.2 782.2 L524.3 789.9 L530.6 784.6 M303.9 348.5 L307.3 356.0 L308.0 347.8 M310.7 360.2 L313.9 367.8 L314.8 359.6 M317.6 371.9 L320.9 379.5 L321.8 371.3 M324.7 383.5 L327.9 391.1 L328.9 382.9 M331.9 395.1 L335.3 402.6 L336.1 394.4 M339.3 406.7 L342.8 414.2 L343.4 406.0 M346.5 418.5 L350.2 425.9 L350.6 417.7 M353.6 430.2 L357.3 437.6 L357.7 429.3 M360.2 441.4 L363.7 448.9 L364.3 440.6 M366.3 452.2 L369.5 459.9 L370.5 451.7 M372.4 463.1 L375.0 470.9 L376.6 462.8 M377.9 473.6 L379.3 481.8 L382.1 474.0 M382.9 484.2 L382.5 492.4 L386.9 485.4 M389.2 495.6 L388.3 503.8 L393.1 497.1 M397.1 507.2 L396.9 515.5 L401.1 508.4 M404.7 518.8 L404.9 527.0 L408.8 519.7 M412.5 530.9 L413.4 539.2 L416.6 531.5 M423.1 543.2 L427.0 550.5 L427.2 542.2 M429.9 553.3 L434.0 560.5 L434.0 552.2 M436.9 565.6 L440.7 572.9 L441.0 564.6 M443.1 577.6 L446.2 585.2 L447.2 577.0 M448.2 587.1 L449.6 595.3 L452.4 587.5 M454.1 597.5 L453.8 605.7 L458.1 598.6 M460.6 609.9 L460.1 618.2 L464.6 611.2 M467.5 621.7 L467.0 629.9 L471.5 623.0 M474.6 633.6 L474.2 641.8 L478.6 634.8 M487.0 655.3 L490.6 662.8 L491.2 654.5 M496.7 670.8 L500.9 677.9 L500.8 669.6 M503.6 682.3 L507.8 689.4 L507.6 681.2 M506.9 691.6 L509.9 699.3 L511.1 691.1 M509.3 703.8 L510.3 712.0 L513.5 704.3 M518.4 721.8 L520.3 729.8 L522.6 721.9 M522.6 734.5 L523.7 742.7 L526.8 735.0 M526.8 745.6 L527.0 753.9 L530.9 746.5 M532.8 757.1 L532.8 765.4 L536.9 758.3 M536.3 768.9 L535.2 777.1 L540.2 770.5 M543.2 780.4 L542.1 788.6 L547.1 782.0 M317.3 341.5 L321.3 348.8 L321.4 340.5 M324.3 353.2 L328.2 360.5 L328.4 352.2 M330.8 364.7 L334.5 372.1 L334.9 363.9 M337.8 376.5 L341.5 383.9 L342.0 375.6 M345.8 388.8 L349.8 396.0 L349.8 387.7 M353.7 401.2 L358.1 408.2 L357.7 399.9 M361.4 413.5 L366.0 420.4 L365.4 412.2 M369.2 425.9 L373.9 432.7 L373.1 424.5 M376.3 437.7 L381.1 444.4 L380.2 436.2 M382.7 448.7 L387.4 455.6 L386.6 447.3 M389.7 460.0 L394.4 466.8 L393.6 458.6 M396.9 471.7 L401.8 478.4 L400.9 470.1 M401.8 481.8 L405.9 489.0 L405.9 480.7 M405.1 490.8 L407.3 498.7 L409.3 490.7 M411.3 501.6 L412.9 509.7 L415.5 501.9 M419.6 514.3 L422.1 522.2 L423.8 514.1 M434.7 532.9 L440.1 539.2 L438.5 531.1 M443.4 545.8 L449.0 551.9 L447.1 543.8 M448.2 555.2 L453.5 561.5 L452.0 553.4 M452.3 564.4 L457.0 571.3 L456.3 563.0 M458.8 577.5 L463.1 584.6 L462.9 576.3 M464.3 588.4 L468.0 595.8 L468.4 587.6 M468.6 596.6 L471.0 604.5 L472.8 596.5 M473.9 605.6 L475.0 613.8 L478.1 606.2 M480.4 616.3 L480.9 624.6 L484.5 617.1 M488.5 630.6 L490.2 638.7 L492.7 630.8 M500.7 650.3 L504.6 657.6 L504.8 649.3 M509.0 663.4 L513.2 670.6 L513.0 662.3 M515.9 675.1 L520.1 682.2 L519.9 674.0 M521.2 687.6 L524.8 695.1 L525.4 686.8 M526.1 703.2 L528.9 711.0 L530.3 702.9 M534.0 717.3 L536.8 725.0 L538.1 716.8 M541.3 729.1 L544.3 736.9 L545.5 728.7 M545.5 740.0 L547.7 747.9 L549.7 739.9 M544.1 750.2 L543.7 758.4 L548.1 751.4 M548.4 761.6 L547.3 769.8 L552.3 763.2 M555.5 773.3 L554.4 781.5 L559.4 774.9 M330.1 334.4 L334.3 341.5 L334.2 333.2 M337.2 346.0 L341.4 353.2 L341.2 344.9 M344.2 357.7 L348.4 364.8 L348.2 356.6 M351.8 370.0 L356.1 377.1 L355.8 368.8 M360.4 383.0 L365.2 389.7 L364.3 381.5 M367.8 395.1 L372.8 401.7 L371.7 393.5 M375.5 407.6 L380.5 414.2 L379.3 406.0 M383.5 420.4 L388.8 426.8 L387.3 418.6 M390.7 432.2 L396.0 438.6 L394.5 430.4 M397.5 443.5 L402.7 449.9 L401.3 441.8 M405.3 454.9 L410.8 461.0 L409.0 453.0 M413.3 466.8 L419.1 472.7 L417.0 464.7 M420.4 478.4 L426.2 484.3 L424.0 476.3 M425.4 489.3 L430.8 495.6 L429.2 487.5 M429.1 499.8 L433.4 506.9 L433.1 498.6 M437.9 513.1 L442.7 519.8 L441.9 511.6 M448.4 526.7 L454.0 532.9 L452.1 524.8 M455.8 538.6 L461.4 544.7 L459.5 536.6 M462.2 550.2 L467.7 556.4 L465.9 548.3 M469.0 565.4 L474.0 572.0 L472.9 563.8 M477.1 580.9 L482.0 587.6 L481.0 579.4 M483.0 591.6 L487.7 598.4 L486.9 590.1 M486.7 599.5 L490.9 606.6 L490.7 598.3 M492.6 611.0 L496.5 618.3 L496.7 610.0 M502.0 627.1 L506.2 634.2 L506.0 625.9 M510.4 641.1 L514.8 648.1 L514.4 639.9 M516.0 649.7 L520.2 656.7 L520.0 648.5 M521.3 657.5 L525.5 664.7 L525.4 656.5 M528.0 669.8 L531.9 677.1 L532.1 668.8 M535.1 686.6 L538.7 694.0 L539.2 685.8 M542.0 701.2 L545.5 708.7 L546.1 700.4 M547.0 711.0 L550.1 718.7 L551.2 710.5 M553.4 722.0 L556.3 729.7 L557.6 721.5 M559.9 734.6 L562.6 742.4 L564.0 734.3 M563.4 745.9 L565.2 753.9 L567.6 746.0 M563.2 754.9 L562.8 763.2 L567.2 756.2 M569.3 766.2 L568.7 774.5 L573.3 767.6 M342.4 327.0 L346.6 334.1 L346.4 325.9 M349.4 338.7 L353.7 345.8 L353.5 337.5 M356.5 350.4 L360.7 357.5 L360.5 349.3 M365.4 363.8 L370.3 370.5 L369.4 362.3 M373.5 376.3 L378.6 382.8 L377.4 374.6 M380.6 388.0 L385.7 394.5 L384.4 386.3 M388.2 400.5 L393.4 407.0 L392.0 398.8 M396.3 413.4 L401.6 419.7 L400.1 411.6 M403.3 425.1 L408.7 431.4 L407.1 423.3 M410.3 436.7 L415.6 443.1 L414.1 434.9 M418.2 448.1 L423.8 454.2 L421.9 446.1 M425.8 459.5 L431.7 465.4 L429.5 457.4 M432.9 471.2 L438.7 477.0 L436.5 469.1 M439.5 483.2 L445.2 489.2 L443.2 481.2 M446.0 498.2 L451.1 504.7 L449.8 496.6 M454.1 512.7 L459.2 519.2 L458.0 511.0 M461.1 522.7 L466.4 529.1 L464.9 520.9 M467.8 532.7 L473.2 538.9 L471.6 530.8 M475.3 547.0 L480.5 553.5 L479.1 545.3 M484.3 565.1 L489.3 571.6 L488.1 563.4 M491.6 577.6 L496.7 584.2 L495.5 576.0 M498.3 588.8 L503.3 595.4 L502.2 587.2 M503.1 598.3 L507.9 605.1 L507.1 596.8 M509.6 611.4 L514.1 618.3 L513.6 610.1 M518.0 625.8 L522.6 632.6 L521.9 624.4 M525.2 637.7 L529.8 644.6 L529.1 636.3 M531.7 648.6 L536.3 655.5 L535.6 647.3 M536.0 656.6 L540.2 663.7 L540.0 655.5 M541.5 669.0 L545.4 676.3 L545.6 668.0 M549.4 684.9 L553.3 692.2 L553.5 683.9 M556.9 697.5 L560.7 704.8 L560.9 696.5 M563.3 708.6 L567.1 715.9 L567.4 707.7 M567.4 717.9 L570.7 725.5 L571.6 717.3 M574.5 730.2 L577.8 737.8 L578.7 729.6 M581.5 741.8 L584.7 749.4 L585.6 741.2 M585.8 752.0 L588.5 759.8 L590.0 751.7 M589.1 761.5 L590.7 769.6 L593.3 761.7 M353.9 319.0 L357.9 326.3 L358.0 318.0 M361.2 330.9 L365.2 338.1 L365.3 329.9 M368.8 343.1 L373.0 350.2 L372.8 342.0 M378.1 356.8 L383.1 363.4 L382.0 355.2 M385.8 368.9 L390.9 375.4 L389.7 367.3 M392.8 380.6 L397.9 387.1 L396.7 378.9 M400.4 393.2 L405.5 399.6 L404.2 391.5 M408.6 406.1 L413.9 412.4 L412.3 404.3 M415.6 417.8 L421.0 424.1 L419.4 416.0 M422.6 429.7 L428.0 436.0 L426.4 427.9 M430.5 442.4 L436.0 448.6 L434.3 440.5 M438.1 453.2 L443.8 459.2 L441.8 451.2 M445.1 464.7 L450.9 470.6 L448.8 462.6 M452.3 478.5 L457.8 484.7 L456.0 476.6 M460.9 496.5 L466.1 502.9 L464.8 494.8 M468.8 510.0 L473.9 516.5 L472.6 508.3 M475.7 521.6 L480.9 528.1 L479.6 519.9 M481.9 531.6 L487.1 538.0 L485.8 529.9 M488.9 544.1 L493.9 550.6 L492.7 542.5 M496.9 558.5 L501.9 565.1 L500.8 556.9 M504.0 570.4 L509.0 577.0 L507.9 568.8 M510.9 581.9 L515.9 588.5 L514.8 580.3 M516.6 592.6 L521.5 599.3 L520.5 591.1 M522.7 605.4 L527.3 612.3 L526.7 604.0 M530.3 618.5 L534.9 625.4 L534.3 617.2 M537.4 630.4 L542.0 637.2 L541.4 629.0 M544.1 641.7 L548.7 648.6 L548.1 640.3 M549.1 651.8 L553.4 658.8 L553.2 650.6 M554.5 664.2 L558.3 671.5 L558.5 663.3 M561.9 678.2 L565.8 685.5 L566.0 677.2 M569.2 690.2 L573.1 697.5 L573.3 689.3 M576.0 701.7 L579.9 709.0 L580.1 700.7 M580.4 711.4 L583.8 718.9 L584.6 710.7 M586.8 722.9 L590.1 730.5 L591.0 722.2 M593.8 734.5 L597.0 742.1 L597.9 733.9 M600.4 745.9 L603.6 753.5 L604.6 745.3 M606.4 756.7 L609.4 764.4 L610.6 756.2 M365.6 311.0 L369.2 318.5 L369.7 310.2 M372.6 322.7 L376.2 330.1 L376.7 321.9 M379.9 334.6 L383.6 342.0 L384.0 333.7 M389.0 348.4 L393.5 355.3 L393.0 347.0 M397.7 361.5 L402.7 368.1 L401.6 359.9 M405.0 373.6 L410.0 380.2 L408.9 372.0 M412.5 387.2 L417.4 393.9 L416.4 385.7 M420.3 399.8 L425.4 406.3 L424.2 398.1 M427.7 411.3 L432.9 417.8 L431.5 409.6 M435.3 424.7 L440.5 431.2 L439.2 423.1 M444.1 441.0 L449.2 447.5 L448.0 439.3 M451.8 454.5 L456.9 461.1 L455.7 452.9 M458.7 465.5 L463.9 472.0 L462.6 463.9 M465.7 476.5 L470.9 482.9 L469.5 474.8 M473.8 490.6 L479.0 497.1 L477.7 488.9 M481.1 502.9 L486.3 509.3 L485.0 501.2 M488.1 514.5 L493.3 521.0 L492.0 512.8 M495.1 526.0 L500.3 532.5 L498.9 524.3 M501.7 537.7 L506.8 544.3 L505.6 536.1 M509.0 550.8 L514.1 557.4 L512.9 549.2 M516.2 562.9 L521.2 569.5 L520.1 561.3 M523.0 574.5 L528.1 581.1 L526.9 572.9 M529.2 585.9 L534.0 592.6 L533.1 584.4 M535.2 598.6 L539.9 605.4 L539.2 597.2 M542.4 611.5 L546.9 618.4 L546.3 610.2 M549.5 623.6 L554.0 630.5 L553.5 622.3 M556.1 635.0 L560.6 642.0 L560.1 633.7 M561.6 645.6 L565.8 652.7 L565.6 644.5 M566.8 657.6 L570.6 664.9 L570.8 656.6 M573.7 670.6 L577.4 677.9 L577.8 669.7 M580.8 682.6 L584.5 689.9 L584.9 681.7 M587.5 693.8 L591.2 701.2 L591.6 693.0 M592.7 703.8 L596.1 711.4 L596.9 703.1 M598.9 715.1 L602.1 722.8 L603.0 714.5 M606.1 727.2 L609.4 734.8 L610.3 726.6 M613.1 738.9 L616.4 746.5 L617.3 738.2 M619.8 750.1 L623.0 757.7 L623.9 749.5 M377.8 303.7 L381.4 311.1 L381.9 302.9 M384.9 315.4 L388.5 322.8 L389.0 314.5 M391.6 326.7 L395.0 334.2 L395.7 325.9 M398.8 338.7 L402.4 346.1 L402.9 337.9 M407.9 353.4 L412.1 360.5 L411.9 352.2 M416.9 369.5 L421.4 376.5 L420.9 368.2 M424.9 384.8 L429.4 391.8 L428.9 383.5 M432.1 397.1 L436.6 404.0 L436.1 395.8 M439.4 408.1 L444.0 414.9 L443.4 406.7 M448.3 421.3 L453.2 428.0 L452.2 419.8 M457.3 436.6 L462.3 443.2 L461.2 435.0 M464.5 448.8 L469.5 455.4 L468.4 447.2 M471.5 460.4 L476.5 467.0 L475.4 458.8 M478.5 471.3 L483.5 477.9 L482.3 469.7 M486.5 483.8 L491.7 490.3 L490.3 482.1 M494.3 496.5 L499.5 502.9 L498.1 494.8 M501.9 508.9 L507.2 515.3 L505.7 507.1 M508.7 520.3 L513.9 526.7 L512.5 518.5 M514.9 531.5 L520.1 537.9 L518.7 529.7 M522.0 544.1 L527.1 550.6 L525.8 542.5 M529.6 556.9 L534.7 563.4 L533.5 555.2 M536.7 568.8 L541.8 575.3 L540.5 567.1 M542.7 580.1 L547.7 586.6 L546.6 578.4 M548.1 592.4 L552.7 599.3 L552.0 591.0 M555.0 605.7 L559.5 612.6 L559.0 604.3 M562.1 617.6 L566.6 624.6 L566.1 616.3 M569.0 629.1 L573.5 636.1 L573.0 627.8 M574.5 639.4 L578.8 646.5 L578.5 638.2 M578.9 650.6 L582.7 658.0 L583.0 649.7 M585.8 663.6 L589.6 671.0 L589.9 662.7 M592.9 675.5 L596.6 682.9 L597.0 674.6 M599.7 686.9 L603.5 694.3 L603.9 686.0 M604.4 695.8 L607.7 703.4 L608.6 695.2 M610.1 706.5 L613.1 714.3 L614.3 706.1 M618.2 719.6 L621.4 727.2 L622.3 719.0 M625.3 731.4 L628.5 739.0 L629.4 730.8 M631.8 742.3 L634.9 749.9 L635.9 741.7 M389.1 295.3 L392.1 302.9 L393.2 294.7 M395.4 306.2 L398.0 314.0 L399.6 305.9 M402.0 317.2 L404.4 325.1 L406.2 317.0 M408.9 328.1 L411.3 336.0 L413.1 328.0 M417.7 343.5 L421.0 351.1 L421.8 342.9 M429.2 364.4 L433.5 371.5 L433.2 363.2 M437.4 378.7 L441.8 385.7 L441.4 377.4 M444.4 390.4 L448.8 397.4 L448.4 389.1 M451.5 401.9 L455.9 408.9 L455.5 400.6 M460.1 414.6 L464.9 421.4 L464.1 413.2 M469.5 429.3 L474.5 435.9 L473.4 427.7 M476.8 441.4 L481.8 448.0 L480.7 439.8 M483.8 453.0 L488.8 459.6 L487.6 451.4 M490.9 464.4 L495.9 470.9 L494.7 462.7 M499.4 477.4 L504.7 483.8 L503.2 475.6 M507.4 490.2 L512.7 496.6 L511.2 488.4 M514.5 502.0 L519.8 508.3 L518.3 500.2 M521.4 513.5 L526.7 519.9 L525.2 511.7 M527.8 524.9 L533.0 531.3 L531.6 523.2 M535.2 538.2 L540.4 544.6 L539.1 536.5 M542.6 550.5 L547.8 556.9 L546.5 548.8 M549.6 562.2 L554.8 568.6 L553.5 560.4 M556.1 573.5 L561.3 580.0 L560.0 571.9 M560.8 585.4 L565.5 592.2 L564.7 583.9 M567.2 598.4 L571.8 605.3 L571.2 597.1 M574.4 610.3 L578.9 617.2 L578.3 609.0 M581.2 621.8 L585.7 628.7 L585.2 620.5 M586.5 631.9 L590.8 639.0 L590.6 630.7 M590.7 642.5 L594.4 649.9 L594.8 641.6 M597.8 655.8 L601.5 663.2 L601.9 654.9 M605.1 668.0 L608.8 675.4 L609.2 667.1 M611.3 678.6 L614.9 686.1 L615.4 677.8 M612.9 684.8 L615.3 692.7 L617.1 684.6 M617.3 694.7 L618.9 702.8 L621.5 694.9 M625.7 707.4 L627.7 715.4 L629.9 707.4 M634.8 720.6 L637.4 728.4 L639.0 720.3 M641.9 731.4 L644.6 739.3 L646.1 731.1 M400.0 286.5 L402.2 294.5 L404.2 286.4 M406.9 298.1 L409.0 306.1 L411.1 298.1 M413.6 308.5 L415.5 316.6 L417.8 308.6 M420.2 317.7 L421.3 325.9 L424.4 318.2 M427.9 331.7 L429.9 339.7 L432.1 331.7 M440.2 355.1 L444.3 362.3 L444.3 354.0 M449.6 371.2 L453.9 378.2 L453.6 369.9 M471.8 406.8 L476.4 413.6 L475.7 405.4 M481.0 420.9 L485.9 427.5 L484.9 419.3 M488.7 433.5 L493.7 440.1 L492.6 431.9 M495.8 445.2 L500.8 451.8 L499.7 443.6 M503.2 456.9 L508.2 463.4 L507.0 455.2 M511.6 469.9 L516.8 476.4 L515.4 468.2 M519.5 482.7 L524.8 489.0 L523.3 480.9 M526.7 494.5 L532.0 500.9 L530.5 492.8 M533.5 506.1 L538.8 512.4 L537.3 504.3 M540.1 517.8 L545.3 524.2 L543.9 516.1 M547.6 531.0 L552.8 537.5 L551.4 529.3 M554.9 543.1 L560.1 549.6 L558.7 541.4 M561.9 554.8 L567.1 561.3 L565.8 553.1 M568.5 566.2 L573.6 572.7 L572.3 564.5 M573.0 577.5 L577.7 584.3 L576.9 576.1 M578.8 589.9 L583.3 596.9 L582.8 588.6 M585.8 601.8 L590.2 608.8 L589.8 600.6 M592.2 613.0 L596.6 620.0 L596.2 611.8 M597.1 623.0 L601.1 630.2 L601.1 621.9 M600.7 632.9 L603.9 640.4 L604.8 632.2 M606.9 644.7 L610.1 652.4 L611.1 644.2 M614.2 656.4 L617.4 664.0 L618.4 655.8 M618.6 664.7 L621.2 672.6 L622.8 664.5 M621.5 674.5 L622.8 682.7 L625.7 674.9 M628.1 686.9 L629.2 695.1 L632.2 687.4 M635.1 698.3 L636.3 706.5 L639.3 698.8 M642.8 707.8 L644.2 716.0 L647.0 708.2 M650.7 717.1 L652.3 725.2 L654.9 717.4 M412.2 278.8 L414.3 286.8 L416.4 278.8 M419.0 290.0 L421.0 298.1 L423.2 290.1 M425.4 298.5 L426.4 306.6 L429.5 299.1 M432.3 310.1 L433.3 318.1 L436.5 310.7 M439.6 322.6 L441.0 330.8 L443.8 323.0 M531.1 474.5 L536.4 480.9 L534.9 472.8 M538.4 486.6 L543.6 492.9 L542.2 484.8 M545.2 498.2 L550.4 504.6 L549.0 496.4 M552.0 510.2 L557.1 516.6 L555.8 508.5 M559.5 523.1 L564.6 529.6 L563.3 521.4 M566.9 535.5 L572.0 541.9 L570.7 533.8 M573.8 547.2 L579.0 553.6 L577.7 545.5 M579.7 558.3 L584.7 564.9 L583.6 556.7 M584.1 569.6 L588.6 576.5 L588.1 568.2 M590.1 581.7 L594.5 588.7 L594.2 580.4 M597.1 593.5 L601.4 600.5 L601.1 592.3 M604.0 605.1 L608.3 612.1 L608.1 603.9 M608.6 615.1 L612.4 622.4 L612.7 614.1 M610.5 625.0 L613.2 632.8 L614.7 624.7 M616.9 636.9 L619.5 644.8 L621.1 636.7 M623.6 647.0 L626.1 654.9 L627.8 646.8 M628.0 650.5 L629.6 658.6 L632.2 650.7 M633.2 663.3 L634.1 671.5 L637.3 663.9 M640.3 679.2 L641.4 687.4 L644.5 679.7 M647.2 689.3 L648.2 697.5 L651.3 689.9 M653.9 694.2 L654.4 702.5 L658.1 695.0 M661.2 701.0 L661.2 709.2 L665.3 702.0 M424.3 270.8 L426.3 278.8 L428.5 270.8 M431.0 281.3 L432.7 289.4 L435.2 281.5 M437.7 291.5 L438.9 299.7 L441.9 292.0 M444.7 303.0 L445.8 311.1 L448.9 303.5 M590.0 549.7 L594.8 556.5 L594.0 548.3 M595.4 561.7 L599.8 568.7 L599.4 560.4 M602.3 574.2 L606.6 581.3 L606.3 573.0 M609.4 586.1 L613.7 593.2 L613.4 584.9 M616.3 597.8 L620.6 604.8 L620.4 596.5 M620.1 607.1 L623.8 614.4 L624.2 606.2 M622.2 617.9 L624.8 625.7 L626.4 617.6 M629.2 630.0 L631.7 637.8 L633.4 629.7 M635.9 640.6 L638.4 648.5 L640.1 640.4 M639.3 634.2 L639.8 642.5 L643.4 635.0 M646.6 632.2 L641.0 633.6 L646.1 636.4 M654.0 641.4 L646.8 639.1 L651.7 644.9 M660.6 655.3 L654.8 656.6 L659.9 659.5 M666.7 670.3 L662.8 674.9 L668.8 673.9 M673.5 683.4 L670.3 689.2 L676.4 686.5 M436.6 263.2 L438.7 271.3 L440.8 263.3 M443.4 274.1 L445.2 282.2 L447.6 274.3 M621.2 578.1 L625.5 585.2 L625.2 576.9 M627.4 588.8 L631.6 596.0 L631.5 587.7 M629.4 595.0 L632.6 602.6 L633.6 594.4 M633.4 606.4 L635.7 614.4 L637.6 606.4 M640.8 620.2 L643.1 628.1 L645.0 620.1 M646.0 625.4 L647.8 633.5 L650.2 625.5 M651.1 616.3 L647.4 620.9 L653.2 619.9 M658.2 619.6 L651.1 615.4 L655.2 622.6 M664.8 629.8 L658.0 625.1 L661.6 632.6 M672.0 642.2 L665.1 637.7 L668.9 645.0 M679.9 657.3 L672.4 655.0 L677.6 660.9 M686.3 671.0 L679.6 671.8 L685.5 675.1 M449.1 256.2 L451.3 264.2 L453.3 256.2 M636.1 571.9 L636.6 580.1 L640.2 572.7 M641.5 575.3 L637.2 581.2 L644.0 578.6 M648.2 583.7 L641.2 586.5 L648.6 587.8 M655.3 595.1 L648.2 597.7 L655.6 599.3 M662.9 604.7 L655.0 604.5 L661.7 608.7 M668.9 613.4 L661.0 610.8 L666.6 617.0 M676.2 624.2 L668.7 620.9 L673.6 627.5 M683.5 635.8 L676.1 632.2 L680.8 639.0 M690.3 648.5 L682.5 645.7 L687.9 652.0 M697.3 661.3 L689.3 659.5 L695.4 665.0 M653.3 563.3 L645.1 564.4 L652.8 567.4 M659.8 574.3 L651.5 574.8 L659.0 578.5 M666.8 586.0 L658.6 586.5 L666.0 590.1 M673.5 596.3 L665.3 595.4 L672.1 600.2 M680.5 606.1 L672.6 603.8 L678.3 609.7 M687.5 617.8 L679.6 615.4 L685.3 621.4 M693.3 628.3 L685.4 625.7 L691.0 631.8 M699.5 639.3 L691.6 636.7 L697.2 642.9 M707.1 651.7 L699.2 649.3 L704.9 655.3 M672.1 567.0 L663.8 567.5 L671.3 571.1 M678.2 578.1 L670.0 578.2 L677.2 582.2 M684.1 589.0 L675.9 588.8 L682.9 593.1 M691.8 599.8 L683.6 598.7 L690.2 603.7 M698.5 609.6 L690.6 607.3 L696.3 613.2 M703.7 619.5 L695.9 616.8 L701.4 623.0 M710.8 631.2 L702.9 628.5 L708.4 634.7 M718.5 643.4 L710.7 640.7 L716.2 646.9 M689.6 570.1 L681.3 569.9 L688.4 574.2 M696.4 581.7 L688.1 581.5 L695.2 585.7 M703.4 592.3 L695.2 591.1 L701.8 596.1 M710.0 601.5 L702.1 599.0 L707.7 605.1 M716.2 612.3 L708.4 609.6 L713.8 615.7 M723.8 624.0 L716.0 621.2 L721.4 627.5 M731.3 635.9 L723.6 633.0 L728.9 639.4 M702.1 562.5 L693.9 562.0 L700.8 566.5 M708.8 573.3 L700.6 572.2 L707.2 577.2 M715.3 582.5 L707.4 580.0 L713.0 586.1 M722.2 594.0 L714.4 591.4 L720.0 597.6 M729.8 605.4 L722.0 602.4 L727.3 608.8 M737.1 616.9 L729.4 613.8 L734.5 620.2 M744.0 628.6 L736.3 625.5 L741.5 631.9" stroke="#000" stroke-width="1" fill="none" shape-rendering="crispEdges"/><path d="M173.1 417.6 L175.8 413.3 L177.0 414.4 Z M180.1 429.2 L182.8 424.9 L184.0 426.1 Z M187.2 441.0 L189.8 436.7 L191.1 437.8 Z M195.8 455.0 L197.7 449.9 L199.1 450.7 Z M203.1 467.2 L204.8 461.9 L206.3 462.6 Z M210.2 478.8 L211.9 473.5 L213.4 474.3 Z M220.2 491.9 L220.6 486.2 L222.2 486.5 Z M232.8 506.0 L231.0 500.2 L232.6 499.9 Z M240.1 517.8 L238.2 512.1 L239.9 511.8 Z M245.9 528.7 L244.4 522.8 L246.1 522.6 Z M240.0 531.7 L244.1 528.2 L245.0 529.7 Z M246.2 542.8 L250.7 539.6 L251.5 541.1 Z M253.0 554.3 L257.6 551.1 L258.4 552.6 Z M258.4 564.7 L263.8 562.0 L264.4 563.6 Z M265.2 575.2 L270.8 573.0 L271.2 574.6 Z M272.2 585.6 L277.8 583.9 L278.1 585.5 Z M279.0 596.5 L284.8 595.0 L284.9 596.7 Z M285.5 606.9 L291.5 606.0 L291.6 607.7 Z M292.7 617.5 L298.7 617.0 L298.6 618.7 Z M301.5 621.7 L306.9 624.3 L306.0 625.7 Z M310.8 621.7 L314.4 626.6 L312.9 627.4 Z M318.2 631.5 L321.4 636.6 L319.9 637.3 Z M325.1 643.5 L328.4 648.6 L326.9 649.3 Z M330.6 659.9 L334.7 664.4 L333.4 665.4 Z M335.4 677.9 L340.7 680.8 L339.7 682.2 Z M342.2 690.0 L347.6 692.8 L346.6 694.1 Z M349.2 701.7 L354.6 704.5 L353.7 705.9 Z M356.1 717.3 L361.9 718.9 L361.3 720.4 Z M362.6 734.5 L368.6 733.8 L368.5 735.5 Z M369.2 748.0 L375.1 746.6 L375.2 748.3 Z M375.4 761.7 L381.1 759.6 L381.5 761.3 Z M382.3 773.9 L387.9 771.6 L388.3 773.3 Z M389.3 785.6 L394.9 783.3 L395.3 784.9 Z M396.0 797.5 L401.6 795.1 L402.0 796.8 Z M400.6 811.3 L406.0 808.6 L406.5 810.2 Z M403.7 826.6 L408.9 823.4 L409.6 824.9 Z M409.1 840.1 L414.1 836.7 L414.8 838.2 Z M185.1 409.9 L187.9 405.8 L189.1 406.9 Z M191.9 421.5 L194.8 417.3 L196.0 418.5 Z M199.2 433.5 L201.9 429.2 L203.2 430.4 Z M207.4 446.9 L209.6 442.0 L211.0 442.9 Z M215.2 459.6 L217.0 454.4 L218.5 455.1 Z M223.0 471.8 L224.5 466.4 L226.0 467.0 Z M234.6 486.0 L234.1 480.0 L235.8 480.1 Z M244.6 498.8 L243.0 493.0 L244.6 492.8 Z M252.3 510.4 L250.4 504.7 L252.0 504.4 Z M257.4 520.9 L256.2 514.9 L257.8 514.8 Z M253.2 525.0 L256.9 521.3 L257.9 522.7 Z M258.4 535.4 L263.0 532.2 L263.7 533.7 Z M263.1 545.6 L268.6 543.0 L269.1 544.6 Z M269.5 556.8 L275.1 554.4 L275.5 556.0 Z M276.8 568.5 L282.4 566.1 L282.8 567.7 Z M284.3 578.7 L290.0 576.8 L290.3 578.5 Z M290.7 588.1 L296.7 587.1 L296.7 588.8 Z M297.5 599.4 L303.5 598.5 L303.5 600.2 Z M304.5 611.0 L310.5 610.2 L310.5 611.8 Z M312.9 617.2 L318.8 618.7 L318.2 620.3 Z M323.2 613.8 L326.6 618.8 L325.1 619.6 Z M330.5 624.0 L333.7 629.1 L332.2 629.8 Z M337.5 635.8 L340.7 640.9 L339.2 641.6 Z M343.4 650.3 L347.2 655.1 L345.7 655.9 Z M348.3 668.6 L353.2 672.1 L352.1 673.3 Z M354.6 682.5 L359.9 685.4 L358.9 686.7 Z M361.5 695.1 L367.0 697.7 L366.1 699.1 Z M367.8 715.7 L373.8 715.0 L373.8 716.7 Z M374.6 729.4 L380.4 727.9 L380.6 729.5 Z M381.5 741.0 L387.4 739.5 L387.6 741.1 Z M388.0 753.6 L393.7 751.8 L394.0 753.4 Z M394.5 766.5 L400.1 764.2 L400.5 765.9 Z M401.2 778.5 L406.8 776.1 L407.3 777.8 Z M406.1 792.0 L411.5 789.3 L412.0 790.9 Z M406.7 809.3 L411.8 806.0 L412.5 807.5 Z M410.9 823.4 L415.9 819.9 L416.6 821.4 Z M417.9 835.4 L422.8 831.8 L423.6 833.3 Z M196.8 402.1 L199.9 398.1 L201.0 399.3 Z M203.7 413.5 L206.8 409.6 L207.9 410.9 Z M210.9 425.5 L213.9 421.5 L215.1 422.7 Z M218.8 438.9 L221.4 434.2 L222.7 435.3 Z M225.9 450.6 L228.4 446.0 L229.7 447.0 Z M236.0 464.6 L237.1 459.2 L238.7 459.7 Z M249.3 480.5 L247.9 474.6 L249.5 474.5 Z M256.7 492.5 L255.1 486.6 L256.8 486.4 Z M263.4 503.7 L262.0 497.8 L263.6 497.6 Z M267.8 512.9 L267.3 507.0 L269.0 507.2 Z M267.5 519.4 L270.3 515.1 L271.5 516.3 Z M270.0 527.8 L274.9 524.7 L275.6 526.2 Z M274.8 537.9 L280.4 535.5 L280.8 537.1 Z M281.7 549.4 L287.3 547.1 L287.7 548.7 Z M289.0 561.4 L294.6 558.9 L295.0 560.5 Z M296.7 572.2 L302.3 570.0 L302.7 571.6 Z M303.0 580.9 L309.0 579.9 L309.0 581.5 Z M309.7 592.1 L315.7 591.2 L315.7 592.9 Z M316.8 603.6 L322.8 602.8 L322.8 604.5 Z M324.9 611.5 L330.9 612.3 L330.4 613.9 Z M334.7 610.6 L338.7 615.1 L337.3 616.1 Z M342.5 617.9 L345.9 622.9 L344.4 623.7 Z M349.2 629.4 L352.7 634.4 L351.2 635.1 Z M355.8 640.4 L359.2 645.3 L357.7 646.1 Z M362.6 652.7 L366.2 657.6 L364.7 658.4 Z M368.4 670.6 L372.9 674.6 L371.6 675.7 Z M374.1 690.5 L379.9 692.3 L379.2 693.8 Z M379.9 710.2 L385.8 708.7 L385.9 710.4 Z M386.8 722.3 L392.6 720.6 L392.8 722.3 Z M393.8 733.8 L399.7 732.2 L399.9 733.9 Z M400.2 746.0 L406.0 744.2 L406.3 745.9 Z M406.6 758.5 L412.4 756.5 L412.7 758.1 Z M411.8 772.2 L417.4 769.7 L417.8 771.3 Z M411.6 790.5 L416.7 787.1 L417.4 788.7 Z M414.3 805.8 L419.2 802.3 L420.0 803.8 Z M421.0 817.8 L425.9 814.2 L426.7 815.7 Z M428.4 829.2 L433.3 825.6 L434.1 827.1 Z M209.6 395.5 L212.4 391.2 L213.7 392.3 Z M216.3 406.7 L219.3 402.6 L220.4 403.8 Z M224.4 419.9 L226.8 415.3 L228.2 416.3 Z M231.0 431.6 L233.6 426.9 L234.9 427.9 Z M238.0 443.2 L240.6 438.5 L241.9 439.6 Z M247.6 456.8 L249.0 451.5 L250.6 452.2 Z M261.6 473.2 L260.2 467.3 L261.8 467.2 Z M268.9 485.1 L267.4 479.3 L269.1 479.1 Z M275.6 496.5 L274.2 490.6 L275.9 490.5 Z M279.8 506.2 L279.4 500.1 L281.1 500.3 Z M281.1 513.8 L283.2 508.9 L284.7 509.8 Z M283.3 521.9 L287.7 518.3 L288.6 519.7 Z M288.1 531.8 L293.3 528.9 L294.0 530.4 Z M294.8 543.7 L300.0 540.7 L300.7 542.3 Z M302.1 556.1 L307.2 552.8 L307.9 554.4 Z M309.4 567.3 L314.6 564.1 L315.3 565.6 Z M316.2 575.9 L321.7 573.9 L322.1 575.5 Z M322.6 585.3 L328.5 584.2 L328.6 585.9 Z M329.7 596.0 L335.6 595.3 L335.6 597.0 Z M337.2 604.7 L343.1 605.2 L342.7 606.9 Z M344.3 613.6 L350.2 615.3 L349.5 616.8 Z M352.4 620.4 L357.5 623.7 L356.4 625.0 Z M360.8 623.2 L364.5 628.0 L363.1 628.8 Z M368.0 632.7 L371.5 637.7 L370.0 638.4 Z M375.0 644.4 L378.5 649.4 L377.0 650.1 Z M382.0 658.6 L385.7 663.4 L384.3 664.2 Z M388.4 676.6 L393.0 680.5 L391.7 681.6 Z M393.2 699.0 L399.0 699.1 L398.8 700.8 Z M399.4 713.8 L405.3 712.6 L405.4 714.3 Z M406.2 725.7 L412.1 724.4 L412.2 726.1 Z M412.1 739.1 L417.9 737.2 L418.2 738.9 Z M419.1 750.9 L424.8 749.0 L425.1 750.6 Z M425.0 763.7 L430.7 761.4 L431.1 763.1 Z M422.2 784.6 L427.2 781.2 L427.9 782.7 Z M426.1 798.9 L431.0 795.3 L431.8 796.8 Z M433.1 810.5 L438.0 807.0 L438.8 808.4 Z M440.4 822.1 L445.3 818.5 L446.1 820.0 Z M225.4 392.7 L226.6 386.8 L228.2 387.4 Z M233.8 406.3 L234.3 400.3 L235.9 400.6 Z M241.1 418.4 L241.4 412.3 L243.1 412.6 Z M245.9 427.3 L247.3 421.6 L248.9 422.2 Z M251.5 437.1 L253.5 432.0 L255.0 432.9 Z M261.2 450.8 L262.0 445.1 L263.7 445.6 Z M272.5 465.3 L271.5 459.3 L273.2 459.3 Z M280.5 477.5 L279.2 471.6 L280.9 471.4 Z M286.7 488.8 L285.7 482.8 L287.4 482.8 Z M291.1 499.2 L291.1 493.1 L292.8 493.3 Z M294.6 508.7 L296.2 503.0 L297.7 503.7 Z M297.6 517.5 L301.0 512.8 L302.2 513.9 Z M301.4 526.8 L306.1 523.0 L307.0 524.4 Z M307.3 537.8 L312.3 534.3 L313.0 535.8 Z M314.3 549.4 L319.3 546.0 L320.0 547.5 Z M321.8 561.3 L326.6 557.8 L327.4 559.2 Z M329.8 572.7 L334.6 569.1 L335.4 570.6 Z M336.9 581.7 L341.7 579.1 L342.3 580.7 Z M343.1 589.3 L348.5 588.3 L348.6 590.0 Z M348.7 598.0 L354.8 598.2 L354.5 599.9 Z M355.3 609.3 L361.4 609.7 L361.1 611.3 Z M362.5 620.5 L368.6 621.1 L368.2 622.7 Z M372.0 622.9 L376.7 626.7 L375.5 627.8 Z M380.3 626.7 L383.9 631.6 L382.4 632.4 Z M387.6 638.0 L391.1 643.0 L389.6 643.8 Z M395.2 649.2 L398.6 654.2 L397.0 655.0 Z M402.3 661.0 L405.6 666.1 L404.1 666.8 Z M409.8 676.2 L413.4 681.1 L411.9 681.9 Z M416.6 691.8 L420.7 696.2 L419.4 697.2 Z M420.0 713.6 L425.7 714.3 L425.3 715.9 Z M424.4 731.8 L430.2 729.9 L430.5 731.5 Z M431.4 743.6 L437.1 741.6 L437.4 743.3 Z M437.7 756.0 L443.4 753.9 L443.8 755.5 Z M436.6 775.7 L441.7 772.4 L442.4 773.9 Z M438.9 791.3 L443.8 787.7 L444.6 789.2 Z M445.6 803.1 L450.5 799.6 L451.3 801.1 Z M452.9 814.9 L457.8 811.3 L458.6 812.8 Z M239.6 387.6 L239.9 381.6 L241.5 381.9 Z M246.5 399.5 L246.8 393.5 L248.4 393.8 Z M253.5 411.2 L253.8 405.1 L255.4 405.4 Z M260.7 422.8 L260.9 416.7 L262.6 417.0 Z M268.6 434.7 L268.4 428.6 L270.1 428.8 Z M277.6 448.1 L276.7 442.1 L278.4 442.1 Z M285.1 460.0 L284.1 454.0 L285.8 453.9 Z M291.6 470.8 L290.7 464.8 L292.4 464.7 Z M297.2 481.7 L296.8 475.6 L298.5 475.8 Z M303.1 493.1 L303.1 487.0 L304.8 487.3 Z M308.9 504.1 L309.4 498.1 L311.1 498.4 Z M312.4 513.4 L314.5 507.7 L316.0 508.5 Z M315.7 522.0 L319.5 517.2 L320.6 518.5 Z M319.8 530.7 L324.7 527.2 L325.5 528.6 Z M326.7 542.2 L331.6 538.7 L332.4 540.2 Z M334.9 555.9 L339.2 551.7 L340.2 553.1 Z M343.0 569.1 L346.9 564.4 L348.0 565.6 Z M350.8 579.1 L354.7 574.7 L355.8 576.0 Z M356.6 584.6 L361.3 582.6 L361.7 584.2 Z M361.0 590.9 L367.1 591.1 L366.8 592.7 Z M367.6 602.0 L373.6 602.4 L373.3 604.0 Z M374.7 613.6 L380.7 614.0 L380.4 615.7 Z M383.6 623.4 L389.3 624.6 L388.7 626.2 Z M392.8 628.1 L397.5 632.0 L396.2 633.1 Z M400.5 632.4 L404.0 637.3 L402.5 638.1 Z M407.6 641.3 L410.9 646.4 L409.3 647.1 Z M414.6 653.0 L417.9 658.1 L416.3 658.8 Z M424.8 663.5 L427.3 669.1 L425.7 669.5 Z M432.5 674.6 L434.8 680.2 L433.2 680.6 Z M437.5 692.4 L440.8 697.5 L439.3 698.2 Z M438.3 721.2 L444.2 720.5 L444.2 722.2 Z M443.9 736.4 L449.6 734.4 L450.0 736.0 Z M449.9 750.5 L455.3 747.8 L455.8 749.4 Z M452.1 767.9 L457.0 764.3 L457.8 765.8 Z M453.8 783.5 L458.6 779.8 L459.4 781.3 Z M458.7 796.4 L463.5 792.7 L464.3 794.2 Z M464.5 808.9 L469.3 805.2 L470.2 806.6 Z M254.2 382.3 L253.5 376.2 L255.2 376.3 Z M262.0 394.7 L261.1 388.7 L262.7 388.7 Z M269.8 407.0 L268.6 401.1 L270.3 401.0 Z M276.4 418.3 L275.3 412.3 L277.0 412.3 Z M284.1 430.5 L282.9 424.6 L284.5 424.5 Z M291.7 442.8 L290.3 436.9 L292.0 436.7 Z M298.6 454.3 L297.2 448.4 L298.9 448.3 Z M304.4 464.8 L303.4 458.8 L305.0 458.8 Z M309.0 474.8 L308.8 468.8 L310.5 468.9 Z M315.7 486.4 L315.6 480.3 L317.3 480.5 Z M322.6 498.0 L322.5 491.9 L324.2 492.1 Z M325.7 507.5 L327.2 501.7 L328.8 502.3 Z M330.8 518.3 L333.0 512.7 L334.5 513.5 Z M336.9 528.9 L339.6 523.5 L341.0 524.5 Z M341.4 538.8 L345.1 534.0 L346.3 535.2 Z M347.9 551.3 L351.5 546.5 L352.7 547.7 Z M355.0 563.1 L358.6 558.2 L359.8 559.4 Z M364.0 574.8 L367.2 569.6 L368.5 570.7 Z M372.2 583.3 L375.2 579.1 L376.4 580.2 Z M375.7 587.3 L380.6 585.9 L380.8 587.6 Z M380.9 595.9 L386.7 595.8 L386.5 597.5 Z M388.8 608.7 L394.2 608.1 L394.1 609.8 Z M398.2 623.9 L402.4 621.9 L402.8 623.5 Z M405.9 634.2 L409.9 632.7 L410.1 634.4 Z M413.2 633.4 L417.8 637.3 L416.6 638.5 Z M420.1 635.7 L423.5 640.8 L422.0 641.5 Z M427.7 646.4 L430.9 651.6 L429.3 652.2 Z M437.7 655.6 L440.0 661.2 L438.4 661.6 Z M444.9 667.0 L447.1 672.6 L445.5 673.0 Z M450.5 683.7 L453.5 689.0 L451.9 689.6 Z M451.2 716.5 L456.7 714.8 L457.0 716.4 Z M456.2 735.0 L460.9 731.2 L461.8 732.7 Z M462.7 749.0 L467.1 744.9 L468.1 746.2 Z M467.0 764.4 L471.2 760.0 L472.2 761.3 Z M467.5 778.5 L472.0 774.4 L472.9 775.8 Z M469.3 790.6 L474.0 786.8 L474.9 788.3 Z M475.1 802.2 L479.9 798.5 L480.7 800.0 Z M268.3 376.5 L267.1 370.6 L268.7 370.5 Z M275.9 388.8 L274.5 382.9 L276.2 382.7 Z M283.0 400.5 L281.6 394.6 L283.3 394.4 Z M289.9 412.0 L288.5 406.1 L290.2 406.0 Z M296.9 423.7 L295.5 417.8 L297.2 417.6 Z M304.0 435.5 L302.6 429.6 L304.3 429.4 Z M311.0 447.1 L309.6 441.2 L311.3 441.0 Z M316.9 457.8 L315.8 451.9 L317.5 451.8 Z M321.3 467.6 L321.1 461.5 L322.7 461.7 Z M328.1 479.1 L327.9 473.0 L329.6 473.2 Z M335.0 490.7 L334.9 484.7 L336.6 484.9 Z M337.5 500.1 L339.2 494.3 L340.7 495.0 Z M343.1 511.1 L345.3 505.4 L346.8 506.3 Z M350.1 522.7 L352.3 517.1 L353.8 517.9 Z M355.2 533.4 L358.1 528.1 L359.5 529.1 Z M360.2 544.1 L363.8 539.2 L365.0 540.4 Z M367.5 555.9 L371.1 551.0 L372.3 552.1 Z M379.8 570.1 L381.4 564.3 L382.9 564.9 Z M388.6 581.3 L389.6 575.4 L391.2 575.9 Z M394.7 589.0 L396.2 584.4 L397.7 585.1 Z M398.3 595.7 L401.5 592.8 L402.4 594.2 Z M404.2 607.3 L407.9 604.4 L408.7 605.9 Z M411.1 619.6 L414.8 616.4 L415.7 617.9 Z M418.2 631.2 L421.8 628.1 L422.7 629.5 Z M425.9 640.0 L429.5 638.0 L430.0 639.6 Z M434.0 641.9 L437.9 644.0 L436.8 645.3 Z M441.8 646.8 L445.4 651.7 L444.0 652.5 Z M449.7 653.1 L452.4 658.5 L450.8 659.1 Z M456.2 665.3 L459.1 670.6 L457.6 671.2 Z M457.1 696.8 L462.4 695.3 L462.6 697.0 Z M459.5 720.3 L463.8 716.0 L464.8 717.4 Z M466.6 732.5 L470.8 728.1 L471.8 729.4 Z M475.3 746.3 L478.9 741.4 L480.1 742.6 Z M482.7 762.9 L485.6 757.6 L486.9 758.6 Z M481.9 774.4 L485.8 769.8 L486.9 771.0 Z M481.1 783.5 L485.8 779.7 L486.7 781.2 Z M487.2 794.8 L492.0 791.2 L492.8 792.6 Z M281.4 369.8 L279.9 364.0 L281.6 363.8 Z M288.5 381.7 L287.0 375.8 L288.7 375.6 Z M295.4 393.3 L294.0 387.4 L295.6 387.2 Z M302.4 404.9 L301.0 399.0 L302.6 398.9 Z M309.2 416.4 L307.8 410.5 L309.5 410.3 Z M316.2 428.0 L314.8 422.2 L316.5 422.0 Z M323.1 439.6 L321.7 433.7 L323.4 433.5 Z M329.1 450.4 L328.0 444.4 L329.7 444.3 Z M333.9 460.5 L333.6 454.4 L335.2 454.6 Z M340.2 471.7 L340.1 465.7 L341.8 465.9 Z M346.7 483.1 L346.8 477.1 L348.4 477.3 Z M350.4 493.3 L351.8 487.4 L353.3 488.1 Z M355.9 504.5 L357.8 498.8 L359.3 499.6 Z M363.2 517.5 L364.9 511.7 L366.4 512.3 Z M370.3 529.0 L372.0 523.1 L373.5 523.8 Z M377.1 539.5 L379.0 533.7 L380.5 534.5 Z M386.1 552.0 L387.2 546.1 L388.8 546.6 Z M393.4 564.0 L394.4 558.0 L396.0 558.5 Z M403.9 575.2 L403.6 569.1 L405.3 569.3 Z M412.3 585.8 L411.5 579.8 L413.2 579.8 Z M415.0 593.5 L416.0 588.8 L417.6 589.5 Z M417.3 601.2 L420.5 597.8 L421.5 599.2 Z M423.4 612.3 L427.1 609.1 L428.0 610.6 Z M430.5 624.1 L434.2 620.8 L435.0 622.3 Z M439.8 638.6 L442.3 634.4 L443.6 635.4 Z M448.9 651.0 L450.5 646.6 L451.9 647.4 Z M457.6 659.5 L458.4 656.4 L459.9 657.2 Z M465.3 668.9 L465.9 666.6 L467.2 667.6 Z M468.4 681.8 L470.8 678.9 L471.9 680.2 Z M466.6 700.6 L470.8 696.2 L471.8 697.5 Z M471.5 713.6 L475.7 709.2 L476.7 710.5 Z M478.6 725.3 L482.8 721.0 L483.8 722.3 Z M489.7 743.9 L492.3 738.4 L493.7 739.3 Z M500.3 764.0 L501.5 758.1 L503.1 758.6 Z M502.7 774.0 L504.8 768.3 L506.3 769.1 Z M497.6 778.9 L501.8 774.5 L502.8 775.8 Z M500.3 788.0 L505.0 784.2 L505.9 785.7 Z M294.4 363.2 L292.8 357.3 L294.4 357.1 Z M301.5 375.1 L299.9 369.3 L301.5 369.1 Z M308.6 386.8 L306.9 381.0 L308.6 380.8 Z M315.5 398.3 L313.8 392.5 L315.5 392.3 Z M322.1 409.5 L320.6 403.6 L322.2 403.4 Z M328.9 420.8 L327.3 414.9 L329.0 414.7 Z M335.7 432.2 L334.2 426.3 L335.9 426.1 Z M342.0 443.3 L340.7 437.4 L342.4 437.2 Z M347.6 454.0 L346.7 448.0 L348.4 448.0 Z M353.3 464.9 L352.9 458.9 L354.6 459.0 Z M358.9 476.1 L359.0 470.0 L360.7 470.3 Z M363.6 487.3 L364.5 481.3 L366.1 481.8 Z M368.9 499.2 L370.3 493.4 L371.9 494.0 Z M375.6 511.0 L377.1 505.2 L378.7 505.8 Z M383.2 522.7 L384.5 516.8 L386.1 517.4 Z M392.6 534.3 L393.2 528.3 L394.8 528.7 Z M400.0 545.6 L400.5 539.5 L402.1 539.9 Z M411.0 556.1 L410.0 550.2 L411.7 550.1 Z M421.6 567.3 L419.3 561.8 L420.9 561.3 Z M427.6 579.1 L425.6 573.4 L427.3 573.1 Z M431.2 589.4 L430.5 583.7 L432.2 583.8 Z M432.4 596.9 L434.3 592.5 L435.7 593.4 Z M437.4 607.2 L440.2 603.2 L441.4 604.4 Z M446.2 622.6 L448.2 617.2 L449.6 618.0 Z M454.7 637.1 L455.8 631.2 L457.4 631.7 Z M461.9 648.9 L462.9 643.0 L464.5 643.5 Z M473.9 664.5 L473.0 658.5 L474.7 658.5 Z M486.2 681.9 L484.0 676.2 L485.7 675.8 Z M491.1 692.5 L489.4 686.7 L491.1 686.5 Z M485.6 698.4 L487.6 692.7 L489.1 693.4 Z M485.8 707.9 L489.5 703.1 L490.7 704.3 Z M495.0 723.5 L497.7 718.1 L499.1 719.1 Z M507.8 748.0 L508.4 742.0 L510.0 742.4 Z M514.8 761.1 L515.3 755.0 L517.0 755.4 Z M520.7 772.0 L521.5 766.0 L523.1 766.4 Z M522.1 781.4 L523.9 775.6 L525.4 776.3 Z M524.3 789.9 L527.1 784.5 L528.4 785.5 Z M307.3 356.0 L305.5 350.2 L307.1 350.0 Z M313.9 367.8 L312.2 362.0 L313.9 361.8 Z M320.9 379.5 L319.2 373.7 L320.8 373.4 Z M327.9 391.1 L326.2 385.3 L327.9 385.0 Z M335.3 402.6 L333.5 396.8 L335.2 396.5 Z M342.8 414.2 L340.9 408.5 L342.5 408.2 Z M350.2 425.9 L348.1 420.2 L349.8 419.9 Z M357.3 437.6 L355.2 431.9 L356.9 431.6 Z M363.7 448.9 L361.8 443.1 L363.4 442.8 Z M369.5 459.9 L367.9 454.0 L369.5 453.8 Z M375.0 470.9 L373.8 465.0 L375.5 464.9 Z M379.3 481.8 L379.0 475.7 L380.6 475.9 Z M382.5 492.4 L383.5 486.4 L385.1 486.9 Z M388.3 503.8 L389.7 497.9 L391.2 498.5 Z M396.9 515.5 L397.8 509.5 L399.4 510.0 Z M404.9 527.0 L405.5 521.0 L407.1 521.4 Z M413.4 539.2 L413.5 533.1 L415.1 533.3 Z M427.0 550.5 L424.8 544.9 L426.4 544.5 Z M434.0 560.5 L431.6 554.9 L433.3 554.5 Z M440.7 572.9 L438.5 567.2 L440.2 566.9 Z M446.2 585.2 L444.6 579.4 L446.3 579.1 Z M449.6 595.3 L449.3 589.2 L450.9 589.4 Z M453.8 605.7 L454.7 599.7 L456.3 600.2 Z M460.1 618.2 L461.2 612.2 L462.8 612.7 Z M467.0 629.9 L468.1 624.0 L469.7 624.5 Z M474.2 641.8 L475.2 635.8 L476.8 636.3 Z M490.6 662.8 L488.6 657.0 L490.3 656.7 Z M500.9 677.9 L498.5 672.3 L500.1 671.9 Z M507.8 689.4 L505.3 683.9 L507.0 683.4 Z M509.9 699.3 L508.4 693.4 L510.1 693.3 Z M510.3 712.0 L510.3 705.9 L512.0 706.1 Z M520.3 729.8 L519.6 723.8 L521.3 723.9 Z M523.7 742.7 L523.6 736.6 L525.3 736.8 Z M527.0 753.9 L527.6 747.8 L529.2 748.2 Z M532.8 765.4 L533.5 759.4 L535.1 759.9 Z M535.2 777.1 L536.7 771.2 L538.3 771.9 Z M542.1 788.6 L543.6 782.7 L545.2 783.3 Z M321.3 348.8 L319.1 343.1 L320.7 342.7 Z M328.2 360.5 L326.0 354.8 L327.6 354.4 Z M334.5 372.1 L332.4 366.4 L334.1 366.1 Z M341.5 383.9 L339.5 378.2 L341.1 377.9 Z M349.8 396.0 L347.5 390.4 L349.1 390.0 Z M358.1 408.2 L355.5 402.7 L357.1 402.2 Z M366.0 420.4 L363.2 415.0 L364.8 414.5 Z M373.9 432.7 L371.0 427.4 L372.6 426.8 Z M381.1 444.4 L378.2 439.1 L379.7 438.5 Z M387.4 455.6 L384.6 450.2 L386.1 449.6 Z M394.4 466.8 L391.5 461.4 L393.1 460.9 Z M401.8 478.4 L398.8 473.1 L400.4 472.5 Z M405.9 489.0 L403.5 483.4 L405.2 483.0 Z M407.3 498.7 L406.4 492.7 L408.1 492.7 Z M412.9 509.7 L412.4 503.7 L414.1 503.8 Z M422.1 522.2 L421.0 516.2 L422.7 516.2 Z M440.1 539.2 L436.7 534.2 L438.2 533.4 Z M449.0 551.9 L445.5 547.0 L446.9 546.2 Z M453.5 561.5 L450.2 556.5 L451.7 555.7 Z M457.0 571.3 L454.2 565.9 L455.8 565.3 Z M463.1 584.6 L460.6 579.0 L462.2 578.6 Z M468.0 595.8 L466.0 590.1 L467.6 589.8 Z M471.0 604.5 L469.9 598.6 L471.6 598.5 Z M475.0 613.8 L474.9 607.8 L476.6 608.0 Z M480.9 624.6 L481.2 618.5 L482.9 618.8 Z M490.2 638.7 L489.6 632.7 L491.3 632.8 Z M504.6 657.6 L502.4 652.0 L504.0 651.6 Z M513.2 670.6 L510.8 665.0 L512.4 664.5 Z M520.1 682.2 L517.7 676.7 L519.3 676.2 Z M524.8 695.1 L522.9 689.3 L524.5 689.0 Z M528.9 711.0 L527.6 705.1 L529.2 705.0 Z M536.8 725.0 L535.4 719.1 L537.1 718.9 Z M544.3 736.9 L542.8 731.0 L544.4 730.8 Z M547.7 747.9 L546.8 741.9 L548.5 741.9 Z M543.7 758.4 L544.7 752.5 L546.3 753.0 Z M547.3 769.8 L548.8 764.0 L550.4 764.6 Z M554.4 781.5 L555.9 775.6 L557.5 776.2 Z M334.3 341.5 L331.9 335.9 L333.5 335.5 Z M341.4 353.2 L338.9 347.6 L340.5 347.2 Z M348.4 364.8 L345.9 359.3 L347.5 358.8 Z M356.1 377.1 L353.5 371.6 L355.2 371.1 Z M365.2 389.7 L362.3 384.4 L363.8 383.8 Z M372.8 401.7 L369.8 396.5 L371.3 395.8 Z M380.5 414.2 L377.4 409.0 L379.0 408.3 Z M388.8 426.8 L385.5 421.7 L387.0 421.0 Z M396.0 438.6 L392.7 433.5 L394.3 432.8 Z M402.7 449.9 L399.5 444.8 L401.0 444.1 Z M410.8 461.0 L407.3 456.1 L408.8 455.3 Z M419.1 472.7 L415.4 467.9 L416.9 467.1 Z M426.2 484.3 L422.5 479.5 L423.9 478.7 Z M430.8 495.6 L427.4 490.5 L429.0 489.8 Z M433.4 506.9 L430.9 501.4 L432.5 500.9 Z M442.7 519.8 L439.8 514.5 L441.4 513.9 Z M454.0 532.9 L450.5 527.9 L451.9 527.2 Z M461.4 544.7 L457.8 539.8 L459.3 539.0 Z M467.7 556.4 L464.2 551.4 L465.7 550.6 Z M474.0 572.0 L470.9 566.8 L472.5 566.1 Z M482.0 587.6 L479.0 582.3 L480.6 581.7 Z M487.7 598.4 L484.9 593.0 L486.4 592.5 Z M490.9 606.6 L488.4 601.1 L490.1 600.6 Z M496.5 618.3 L494.3 612.7 L495.9 612.3 Z M506.2 634.2 L503.7 628.7 L505.3 628.2 Z M514.8 648.1 L512.2 642.6 L513.8 642.1 Z M520.2 656.7 L517.7 651.2 L519.3 650.7 Z M525.5 664.7 L523.1 659.1 L524.7 658.7 Z M531.9 677.1 L529.7 671.4 L531.3 671.0 Z M538.7 694.0 L536.7 688.3 L538.3 688.0 Z M545.5 708.7 L543.6 702.9 L545.2 702.6 Z M550.1 718.7 L548.5 712.9 L550.2 712.7 Z M556.3 729.7 L554.9 723.8 L556.5 723.7 Z M562.6 742.4 L561.3 736.5 L563.0 736.4 Z M565.2 753.9 L564.6 747.9 L566.2 748.0 Z M562.8 763.2 L563.8 757.2 L565.4 757.7 Z M568.7 774.5 L569.9 768.5 L571.5 769.1 Z M346.6 334.1 L344.1 328.6 L345.7 328.1 Z M353.7 345.8 L351.2 340.3 L352.8 339.8 Z M360.7 357.5 L358.3 352.0 L359.9 351.5 Z M370.3 370.5 L367.3 365.2 L368.9 364.6 Z M378.6 382.8 L375.5 377.6 L377.0 376.9 Z M385.7 394.5 L382.5 389.3 L384.0 388.6 Z M393.4 407.0 L390.1 401.9 L391.7 401.2 Z M401.6 419.7 L398.3 414.7 L399.8 414.0 Z M408.7 431.4 L405.3 426.4 L406.9 425.6 Z M415.6 443.1 L412.3 438.0 L413.8 437.3 Z M423.8 454.2 L420.3 449.3 L421.7 448.5 Z M431.7 465.4 L427.9 460.6 L429.4 459.8 Z M438.7 477.0 L435.0 472.3 L436.4 471.4 Z M445.2 489.2 L441.5 484.3 L443.0 483.5 Z M451.1 504.7 L447.9 499.6 L449.5 498.9 Z M459.2 519.2 L456.1 514.0 L457.6 513.4 Z M466.4 529.1 L463.1 524.0 L464.6 523.3 Z M473.2 538.9 L469.8 533.9 L471.4 533.2 Z M480.5 553.5 L477.2 548.3 L478.8 547.6 Z M489.3 571.6 L486.2 566.4 L487.7 565.8 Z M496.7 584.2 L493.6 579.0 L495.1 578.3 Z M503.3 595.4 L500.2 590.1 L501.8 589.5 Z M507.9 605.1 L505.0 599.7 L506.6 599.2 Z M514.1 618.3 L511.4 612.9 L513.0 612.4 Z M522.6 632.6 L519.8 627.2 L521.4 626.7 Z M529.8 644.6 L527.0 639.2 L528.6 638.6 Z M536.3 655.5 L533.5 650.1 L535.1 649.6 Z M540.2 663.7 L537.7 658.2 L539.3 657.7 Z M545.4 676.3 L543.2 670.6 L544.8 670.3 Z M553.3 692.2 L551.1 686.6 L552.7 686.2 Z M560.7 704.8 L558.5 699.1 L560.2 698.8 Z M567.1 715.9 L565.0 710.3 L566.6 709.9 Z M570.7 725.5 L569.0 719.7 L570.6 719.4 Z M577.8 737.8 L576.1 732.0 L577.7 731.7 Z M584.7 749.4 L583.0 743.6 L584.7 743.4 Z M588.5 759.8 L587.2 753.9 L588.9 753.8 Z M590.7 769.6 L590.2 763.6 L591.9 763.7 Z M357.9 326.3 L355.6 320.7 L357.3 320.3 Z M365.2 338.1 L362.9 332.5 L364.5 332.1 Z M373.0 350.2 L370.5 344.7 L372.2 344.2 Z M383.1 363.4 L380.1 358.2 L381.6 357.5 Z M390.9 375.4 L387.8 370.3 L389.3 369.6 Z M397.9 387.1 L394.8 381.9 L396.3 381.3 Z M405.5 399.6 L402.3 394.5 L403.8 393.8 Z M413.9 412.4 L410.5 407.4 L412.1 406.6 Z M421.0 424.1 L417.6 419.0 L419.1 418.3 Z M428.0 436.0 L424.6 431.0 L426.2 430.2 Z M436.0 448.6 L432.6 443.6 L434.1 442.9 Z M443.8 459.2 L440.2 454.4 L441.6 453.5 Z M450.9 470.6 L447.2 465.8 L448.7 465.0 Z M457.8 484.7 L454.3 479.7 L455.8 479.0 Z M466.1 502.9 L462.9 497.8 L464.4 497.1 Z M473.9 516.5 L470.7 511.4 L472.3 510.7 Z M480.9 528.1 L477.7 522.9 L479.2 522.2 Z M487.1 538.0 L483.9 532.9 L485.4 532.2 Z M493.9 550.6 L490.8 545.5 L492.4 544.8 Z M501.9 565.1 L498.8 559.9 L500.4 559.3 Z M509.0 577.0 L505.9 571.8 L507.5 571.1 Z M515.9 588.5 L512.8 583.3 L514.4 582.6 Z M521.5 599.3 L518.5 594.0 L520.1 593.4 Z M527.3 612.3 L524.5 606.9 L526.1 606.3 Z M534.9 625.4 L532.2 620.0 L533.7 619.5 Z M542.0 637.2 L539.3 631.8 L540.9 631.3 Z M548.7 648.6 L545.9 643.2 L547.5 642.6 Z M553.4 658.8 L550.9 653.3 L552.5 652.9 Z M558.3 671.5 L556.1 665.9 L557.8 665.5 Z M565.8 685.5 L563.6 679.8 L565.3 679.4 Z M573.1 697.5 L570.9 691.9 L572.5 691.5 Z M579.9 709.0 L577.7 703.4 L579.3 703.0 Z M583.8 718.9 L582.0 713.1 L583.7 712.8 Z M590.1 730.5 L588.3 724.6 L590.0 724.4 Z M597.0 742.1 L595.3 736.3 L597.0 736.0 Z M603.6 753.5 L602.0 747.7 L603.6 747.5 Z M609.4 764.4 L607.9 758.6 L609.5 758.4 Z M369.2 318.5 L367.2 312.8 L368.8 312.4 Z M376.2 330.1 L374.2 324.4 L375.9 324.1 Z M383.6 342.0 L381.5 336.3 L383.2 336.0 Z M393.5 355.3 L390.8 349.9 L392.4 349.3 Z M402.7 368.1 L399.6 362.8 L401.2 362.2 Z M410.0 380.2 L406.9 375.0 L408.5 374.4 Z M417.4 393.9 L414.4 388.6 L416.0 388.0 Z M425.4 406.3 L422.3 401.1 L423.8 400.5 Z M432.9 417.8 L429.7 412.6 L431.2 412.0 Z M440.5 431.2 L437.3 426.1 L438.8 425.4 Z M449.2 447.5 L446.1 442.3 L447.6 441.6 Z M456.9 461.1 L453.8 455.9 L455.3 455.2 Z M463.9 472.0 L460.7 466.9 L462.2 466.2 Z M470.9 482.9 L467.7 477.8 L469.2 477.1 Z M479.0 497.1 L475.8 491.9 L477.3 491.3 Z M486.3 509.3 L483.1 504.2 L484.6 503.5 Z M493.3 521.0 L490.1 515.8 L491.6 515.2 Z M500.3 532.5 L497.0 527.3 L498.6 526.6 Z M506.8 544.3 L503.7 539.1 L505.2 538.4 Z M514.1 557.4 L511.0 552.2 L512.5 551.5 Z M521.2 569.5 L518.1 564.3 L519.7 563.6 Z M528.1 581.1 L525.0 575.8 L526.5 575.2 Z M534.0 592.6 L531.1 587.3 L532.6 586.7 Z M539.9 605.4 L537.1 600.0 L538.7 599.5 Z M546.9 618.4 L544.2 613.0 L545.8 612.4 Z M554.0 630.5 L551.3 625.1 L552.9 624.6 Z M560.6 642.0 L557.9 636.6 L559.5 636.0 Z M565.8 652.7 L563.3 647.2 L564.9 646.7 Z M570.6 664.9 L568.4 659.2 L570.1 658.9 Z M577.4 677.9 L575.3 672.2 L577.0 671.9 Z M584.5 689.9 L582.4 684.3 L584.1 683.9 Z M591.2 701.2 L589.1 695.5 L590.8 695.2 Z M596.1 711.4 L594.3 705.6 L596.0 705.3 Z M602.1 722.8 L600.4 716.9 L602.1 716.7 Z M609.4 734.8 L607.6 729.0 L609.3 728.7 Z M616.4 746.5 L614.7 740.7 L616.3 740.4 Z M623.0 757.7 L621.3 751.9 L623.0 751.7 Z M381.4 311.1 L379.5 305.4 L381.1 305.1 Z M388.5 322.8 L386.5 317.1 L388.1 316.7 Z M395.0 334.2 L393.1 328.4 L394.8 328.1 Z M402.4 346.1 L400.4 340.4 L402.1 340.1 Z M412.1 360.5 L409.7 354.9 L411.3 354.5 Z M421.4 376.5 L418.7 371.0 L420.3 370.5 Z M429.4 391.8 L426.7 386.3 L428.3 385.8 Z M436.6 404.0 L433.9 398.6 L435.5 398.1 Z M444.0 414.9 L441.3 409.5 L442.9 409.0 Z M453.2 428.0 L450.2 422.7 L451.7 422.1 Z M462.3 443.2 L459.2 437.9 L460.8 437.3 Z M469.5 455.4 L466.4 450.1 L468.0 449.5 Z M476.5 467.0 L473.4 461.7 L475.0 461.1 Z M483.5 477.9 L480.4 472.7 L482.0 472.0 Z M491.7 490.3 L488.5 485.1 L490.0 484.5 Z M499.5 502.9 L496.3 497.8 L497.8 497.1 Z M507.2 515.3 L503.9 510.2 L505.4 509.5 Z M513.9 526.7 L510.6 521.6 L512.2 520.9 Z M520.1 537.9 L516.9 532.8 L518.4 532.1 Z M527.1 550.6 L523.9 545.5 L525.5 544.8 Z M534.7 563.4 L531.6 558.2 L533.1 557.5 Z M541.8 575.3 L538.6 570.1 L540.2 569.4 Z M547.7 586.6 L544.6 581.4 L546.2 580.8 Z M552.7 599.3 L549.9 593.9 L551.5 593.3 Z M559.5 612.6 L556.8 607.2 L558.4 606.6 Z M566.6 624.6 L563.9 619.1 L565.5 618.6 Z M573.5 636.1 L570.8 630.6 L572.4 630.1 Z M578.8 646.5 L576.3 641.0 L577.9 640.5 Z M582.7 658.0 L580.6 652.3 L582.2 651.9 Z M589.6 671.0 L587.5 665.3 L589.1 665.0 Z M596.6 682.9 L594.6 677.2 L596.2 676.8 Z M603.5 694.3 L601.4 688.6 L603.0 688.2 Z M607.7 703.4 L606.0 697.6 L607.6 697.4 Z M613.1 714.3 L611.6 708.4 L613.3 708.2 Z M621.4 727.2 L619.7 721.4 L621.4 721.2 Z M628.5 739.0 L626.8 733.2 L628.5 732.9 Z M634.9 749.9 L633.3 744.1 L635.0 743.9 Z M392.1 302.9 L390.6 297.1 L392.2 296.9 Z M398.0 314.0 L396.7 308.1 L398.4 308.0 Z M404.4 325.1 L403.4 319.1 L405.0 319.1 Z M411.3 336.0 L410.3 330.1 L411.9 330.0 Z M421.0 351.1 L419.2 345.3 L420.9 345.0 Z M433.5 371.5 L431.0 366.0 L432.6 365.5 Z M441.8 385.7 L439.2 380.2 L440.8 379.7 Z M448.8 397.4 L446.2 391.9 L447.8 391.4 Z M455.9 408.9 L453.3 403.4 L454.9 402.9 Z M464.9 421.4 L462.0 416.1 L463.6 415.5 Z M474.5 435.9 L471.4 430.6 L473.0 430.0 Z M481.8 448.0 L478.7 442.8 L480.3 442.1 Z M488.8 459.6 L485.7 454.4 L487.2 453.7 Z M495.9 470.9 L492.8 465.7 L494.4 465.1 Z M504.7 483.8 L501.4 478.7 L502.9 478.0 Z M512.7 496.6 L509.4 491.5 L510.9 490.8 Z M519.8 508.3 L516.5 503.3 L518.0 502.5 Z M526.7 519.9 L523.4 514.8 L524.9 514.1 Z M533.0 531.3 L529.8 526.2 L531.3 525.5 Z M540.4 544.6 L537.2 539.5 L538.7 538.8 Z M547.8 556.9 L544.6 551.8 L546.1 551.1 Z M554.8 568.6 L551.6 563.5 L553.1 562.8 Z M561.3 580.0 L558.1 574.9 L559.6 574.2 Z M565.5 592.2 L562.6 586.8 L564.2 586.3 Z M571.8 605.3 L569.1 599.9 L570.7 599.4 Z M578.9 617.2 L576.2 611.8 L577.8 611.3 Z M585.7 628.7 L583.1 623.3 L584.6 622.8 Z M590.8 639.0 L588.3 633.5 L589.9 633.0 Z M594.4 649.9 L592.3 644.2 L594.0 643.8 Z M601.5 663.2 L599.4 657.5 L601.1 657.1 Z M608.8 675.4 L606.7 669.7 L608.4 669.3 Z M614.9 686.1 L612.9 680.3 L614.5 680.0 Z M615.3 692.7 L614.2 686.8 L615.9 686.7 Z M618.9 702.8 L618.4 696.7 L620.1 696.8 Z M627.7 715.4 L626.9 709.4 L628.6 709.4 Z M637.4 728.4 L636.2 722.5 L637.9 722.3 Z M644.6 739.3 L643.3 733.3 L645.0 733.2 Z M402.2 294.5 L401.3 288.5 L403.0 288.5 Z M409.0 306.1 L408.2 300.1 L409.9 300.1 Z M415.5 316.6 L414.8 310.5 L416.5 310.6 Z M421.3 325.9 L421.2 319.8 L422.9 320.0 Z M429.9 339.7 L429.1 333.7 L430.8 333.7 Z M444.3 362.3 L441.9 356.7 L443.6 356.3 Z M453.9 378.2 L451.4 372.7 L453.0 372.2 Z M476.4 413.6 L473.6 408.2 L475.2 407.7 Z M485.9 427.5 L482.9 422.2 L484.5 421.6 Z M493.7 440.1 L490.7 434.9 L492.2 434.2 Z M500.8 451.8 L497.8 446.6 L499.3 445.9 Z M508.2 463.4 L505.1 458.2 L506.7 457.6 Z M516.8 476.4 L513.6 471.2 L515.1 470.5 Z M524.8 489.0 L521.5 484.0 L523.0 483.3 Z M532.0 500.9 L528.7 495.8 L530.2 495.1 Z M538.8 512.4 L535.5 507.3 L537.0 506.6 Z M545.3 524.2 L542.1 519.1 L543.6 518.4 Z M552.8 537.5 L549.6 532.3 L551.1 531.6 Z M560.1 549.6 L556.9 544.5 L558.4 543.8 Z M567.1 561.3 L563.9 556.1 L565.4 555.4 Z M573.6 572.7 L570.4 567.6 L571.9 566.9 Z M577.7 584.3 L574.8 579.0 L576.4 578.4 Z M583.3 596.9 L580.6 591.4 L582.2 590.9 Z M590.2 608.8 L587.6 603.4 L589.2 602.9 Z M596.6 620.0 L594.0 614.5 L595.6 614.0 Z M601.1 630.2 L598.8 624.6 L600.4 624.2 Z M603.9 640.4 L602.2 634.6 L603.9 634.4 Z M610.1 652.4 L608.5 646.5 L610.1 646.3 Z M617.4 664.0 L615.8 658.2 L617.4 658.0 Z M621.2 672.6 L620.0 666.6 L621.7 666.5 Z M622.8 682.7 L622.6 676.6 L624.2 676.8 Z M629.2 695.1 L629.1 689.1 L630.7 689.3 Z M636.3 706.5 L636.1 700.4 L637.8 700.6 Z M644.2 716.0 L643.9 709.9 L645.6 710.1 Z M652.3 725.2 L651.9 719.2 L653.5 719.3 Z M414.3 286.8 L413.4 280.8 L415.1 280.8 Z M421.0 298.1 L420.3 292.1 L421.9 292.1 Z M426.4 306.6 L426.3 300.6 L428.0 300.9 Z M433.3 318.1 L433.3 312.2 L435.0 312.5 Z M441.0 330.8 L440.7 324.7 L442.4 324.9 Z M536.4 480.9 L533.1 475.8 L534.6 475.1 Z M543.6 492.9 L540.4 487.8 L541.9 487.1 Z M550.4 504.6 L547.2 499.5 L548.7 498.8 Z M557.1 516.6 L553.9 511.5 L555.5 510.8 Z M564.6 529.6 L561.4 524.5 L562.9 523.8 Z M572.0 541.9 L568.8 536.8 L570.4 536.1 Z M579.0 553.6 L575.8 548.5 L577.3 547.8 Z M584.7 564.9 L581.7 559.7 L583.2 559.1 Z M588.6 576.5 L585.9 571.1 L587.5 570.5 Z M594.5 588.7 L591.9 583.2 L593.5 582.7 Z M601.4 600.5 L598.9 595.0 L600.5 594.5 Z M608.3 612.1 L605.8 606.6 L607.4 606.1 Z M612.4 622.4 L610.3 616.7 L611.9 616.3 Z M613.2 632.8 L612.0 626.9 L613.6 626.8 Z M619.5 644.8 L618.3 638.9 L620.0 638.8 Z M626.1 654.9 L625.0 648.9 L626.6 648.8 Z M629.6 658.6 L629.2 652.5 L630.8 652.6 Z M634.1 671.5 L634.1 665.5 L635.8 665.7 Z M641.4 687.4 L641.3 681.4 L643.0 681.6 Z M648.2 697.5 L648.2 691.5 L649.8 691.7 Z M654.4 702.5 L654.8 696.4 L656.4 696.7 Z M661.2 709.2 L661.9 703.2 L663.6 703.6 Z M426.3 278.8 L425.6 272.8 L427.3 272.8 Z M432.7 289.4 L432.2 283.4 L433.9 283.5 Z M438.9 299.7 L438.8 293.6 L440.4 293.8 Z M445.8 311.1 L445.7 305.1 L447.4 305.3 Z M594.8 556.5 L591.9 551.2 L593.5 550.6 Z M599.8 568.7 L597.2 563.2 L598.8 562.7 Z M606.6 581.3 L604.0 575.8 L605.6 575.3 Z M613.7 593.2 L611.2 587.7 L612.8 587.2 Z M620.6 604.8 L618.1 599.3 L619.7 598.8 Z M623.8 614.4 L621.7 608.8 L623.4 608.4 Z M624.8 625.7 L623.6 619.8 L625.3 619.7 Z M631.7 637.8 L630.6 631.9 L632.2 631.8 Z M638.4 648.5 L637.3 642.5 L639.0 642.4 Z M639.8 642.5 L640.1 636.4 L641.8 636.8 Z M641.0 633.6 L645.1 633.3 L644.9 634.9 Z M646.8 639.1 L651.8 641.4 L650.9 642.8 Z M654.8 656.6 L659.0 656.4 L658.8 658.0 Z M662.8 674.9 L666.1 672.1 L666.9 673.5 Z M670.3 689.2 L673.2 685.4 L674.3 686.6 Z M438.7 271.3 L437.9 265.3 L439.6 265.3 Z M445.2 282.2 L444.6 276.1 L446.3 276.2 Z M625.5 585.2 L623.0 579.7 L624.6 579.2 Z M631.6 596.0 L629.2 590.4 L630.8 590.0 Z M632.6 602.6 L631.0 596.8 L632.6 596.5 Z M635.7 614.4 L634.7 608.4 L636.4 608.4 Z M643.1 628.1 L642.1 622.2 L643.8 622.1 Z M647.8 633.5 L647.2 627.4 L648.9 627.5 Z M647.4 620.9 L650.5 618.1 L651.4 619.5 Z M651.1 615.4 L655.9 619.1 L654.7 620.3 Z M658.0 625.1 L662.6 629.1 L661.3 630.2 Z M665.1 637.7 L669.7 641.6 L668.5 642.7 Z M672.4 655.0 L677.6 657.4 L676.7 658.8 Z M679.6 671.8 L684.5 671.9 L684.2 673.6 Z M451.3 264.2 L450.4 258.2 L452.0 258.2 Z M636.6 580.1 L637.0 574.1 L638.6 574.4 Z M637.2 581.2 L640.8 577.4 L641.9 578.7 Z M641.2 586.5 L646.5 585.1 L646.7 586.8 Z M648.2 597.7 L653.6 596.5 L653.7 598.2 Z M655.0 604.5 L660.7 605.3 L660.2 606.9 Z M661.0 610.8 L666.5 613.4 L665.6 614.8 Z M668.7 620.9 L673.9 624.0 L672.8 625.3 Z M676.1 632.2 L681.2 635.4 L680.1 636.7 Z M682.5 645.7 L687.9 648.4 L687.0 649.8 Z M689.3 659.5 L695.0 661.5 L694.2 663.0 Z M645.1 564.4 L651.2 564.3 L651.0 565.9 Z M651.5 574.8 L657.6 575.2 L657.3 576.8 Z M658.6 586.5 L664.6 586.9 L664.3 588.5 Z M665.3 595.4 L671.2 596.7 L670.6 598.3 Z M672.6 603.8 L678.1 606.2 L677.3 607.6 Z M679.6 615.4 L685.1 617.8 L684.3 619.3 Z M685.4 625.7 L690.9 628.3 L690.0 629.7 Z M691.6 636.7 L697.1 639.3 L696.2 640.7 Z M699.2 649.3 L704.8 651.7 L703.9 653.1 Z M663.8 567.5 L669.9 567.9 L669.5 569.5 Z M670.0 578.2 L676.0 578.8 L675.6 580.5 Z M675.9 588.8 L681.9 589.7 L681.4 591.3 Z M683.6 598.7 L689.5 600.2 L688.8 601.8 Z M690.6 607.3 L696.2 609.7 L695.3 611.1 Z M695.9 616.8 L701.3 619.4 L700.4 620.8 Z M702.9 628.5 L708.4 631.1 L707.5 632.5 Z M710.7 640.7 L716.1 643.3 L715.2 644.7 Z M681.3 569.9 L687.3 570.8 L686.9 572.4 Z M688.1 581.5 L694.1 582.3 L693.6 584.0 Z M695.2 591.1 L701.1 592.7 L700.4 594.2 Z M702.1 599.0 L707.6 601.5 L706.7 603.0 Z M708.4 609.6 L713.8 612.2 L712.9 613.6 Z M716.0 621.2 L721.4 623.9 L720.5 625.3 Z M723.6 633.0 L729.0 635.8 L728.0 637.2 Z M693.9 562.0 L699.8 563.1 L699.3 564.7 Z M700.6 572.2 L706.4 573.7 L705.8 575.3 Z M707.4 580.0 L712.9 582.5 L712.0 584.0 Z M714.4 591.4 L719.9 594.0 L719.0 595.4 Z M722.0 602.4 L727.4 605.2 L726.4 606.6 Z M729.4 613.8 L734.7 616.7 L733.7 618.0 Z M736.3 625.5 L741.7 628.4 L740.7 629.7 Z" fill="#000" shape-rendering="crispEdges"/></g>
<path d="M590 310.5 H633 M622 308 L633 310.5 L622 313 M624 309 L633 310.5 L624 312" stroke="#000" stroke-width="1" fill="none"/>
<path d="M599.80 329.50 L591.00 341.66 L601.00 341.66 M599.56 329.50 L599.56 345.50 M608.16 329.50 L613.76 329.50 L616.00 331.50 L616.00 342.94 L613.76 345.10 L608.32 345.10 L606.00 342.94 L606.00 332.06 L608.16 329.50 M606.00 345.34 L616.00 329.50 M645.44 337.98 L643.44 336.06 L638.48 336.06 L636.00 338.46 L636.00 342.94 L638.48 345.34 L643.44 345.34 L645.44 343.42 M651.00 336.06 L651.00 345.34 M651.00 338.30 L653.08 336.06 L654.36 336.06 L655.96 337.90 L655.96 345.34 M655.96 337.90 L657.72 336.06 L659.00 336.06 L661.00 338.30 L661.00 345.34 M666.00 345.34 L676.00 329.50 M690.44 337.82 L688.52 336.06 L683.48 336.06 L681.24 337.82 L681.24 339.26 L683.24 340.54 L688.44 340.86 L690.44 342.46 L690.44 343.74 L688.52 345.34 L683.48 345.34 L681.00 343.58" fill="none" stroke="#000" stroke-width="1.00" stroke-linejoin="round" stroke-linecap="square" shape-rendering="crispEdges"/>
<path d="M249.69 116.89 L246.84 113.00 L240.94 113.00 L238.00 116.89 L238.00 119.27 L240.94 122.31 L247.22 123.73 L250.16 126.68 L250.16 129.15 L247.22 132.00 L240.94 132.00 L238.00 128.58 M256.07 120.79 L256.07 129.15 L258.92 131.81 L263.95 131.81 L267.00 129.15 M267.00 120.79 L267.00 131.81 M274.62 120.79 L274.62 131.81 M274.62 124.69 L278.13 121.27 L282.12 120.79 L285.16 123.26 M296.58 131.81 L296.58 115.38 L298.67 113.57 L302.47 114.14 M293.16 120.60 L302.47 120.60 M311.70 122.50 L313.89 120.79 L318.26 120.79 L320.54 122.78 L320.54 129.72 L322.06 131.81 M320.54 125.54 L313.22 125.54 L310.28 127.82 L310.28 129.53 L312.75 131.81 L317.50 131.81 L320.54 129.34 M339.56 123.07 L337.19 120.79 L331.30 120.79 L328.35 123.64 L328.35 128.96 L331.30 131.81 L337.19 131.81 L339.56 129.53 M346.42 126.30 L357.63 126.30 L357.63 123.64 L354.78 120.79 L349.37 120.79 L346.42 123.64 L346.42 128.96 L349.37 131.81 L354.78 131.81 L357.63 129.53 M382.56 113.00 L394.44 113.00 M388.50 113.00 L388.50 131.81 M400.63 126.30 L411.84 126.30 L411.84 123.64 L408.99 120.79 L403.57 120.79 L400.63 123.64 L400.63 128.96 L403.57 131.81 L408.99 131.81 L411.84 129.53 M418.70 120.79 L418.70 131.81 M418.70 123.45 L421.17 120.79 L422.69 120.79 L424.59 122.97 L424.59 131.81 M424.59 122.97 L426.68 120.79 L428.20 120.79 L430.57 123.45 L430.57 131.81 M436.77 120.79 L436.77 138.65 M436.77 123.64 L439.71 120.79 L445.70 120.79 L448.64 123.64 L448.64 128.96 L445.70 131.81 L439.71 131.81 L436.77 128.96 M454.84 126.30 L466.05 126.30 L466.05 123.64 L463.20 120.79 L457.79 120.79 L454.84 123.64 L454.84 128.96 L457.79 131.81 L463.20 131.81 L466.05 129.53 M473.38 120.79 L473.38 131.81 M473.38 124.69 L476.90 121.27 L480.89 120.79 L483.93 123.26 M492.41 122.50 L494.59 120.79 L498.96 120.79 L501.24 122.78 L501.24 129.72 L502.76 131.81 M501.24 125.54 L493.93 125.54 L490.98 127.82 L490.98 129.53 L493.45 131.81 L498.20 131.81 L501.24 129.34 M513.42 115.38 L513.42 129.53 L515.70 131.81 L518.36 131.81 L520.07 130.10 M509.62 120.79 L518.93 120.79 M527.12 120.79 L527.12 129.15 L529.97 131.81 L535.00 131.81 L538.04 129.15 M538.04 120.79 L538.04 131.81 M545.67 120.79 L545.67 131.81 M545.67 124.69 L549.18 121.27 L553.17 120.79 L556.21 123.26 M563.26 126.30 L574.47 126.30 L574.47 123.64 L571.62 120.79 L566.21 120.79 L563.26 123.64 L563.26 128.96 L566.21 131.81 L571.62 131.81 L574.47 129.53" fill="none" stroke="#000" stroke-width="1.05" stroke-linejoin="round" stroke-linecap="square" shape-rendering="crispEdges"/>
<path d="M271.14 867.56 L276.18 863.00 L276.18 881.81 M288.00 865.38 L290.56 863.00 L298.26 863.00 L299.88 864.62 L299.88 870.88 L288.00 878.39 L288.00 881.52 L299.88 881.52 M326.56 863.00 L333.21 863.00 L335.88 865.38 L335.88 878.96 L333.21 881.52 L326.75 881.52 L324.00 878.96 L324.00 866.04 L326.56 863.00 M324.00 881.81 L335.88 863.00 M344.56 863.00 L351.21 863.00 L353.88 865.38 L353.88 878.96 L351.21 881.52 L344.75 881.52 L342.00 878.96 L342.00 866.04 L344.56 863.00 M342.00 881.81 L353.88 863.00 M380.56 863.00 L387.21 863.00 L389.88 865.38 L389.88 878.96 L387.21 881.52 L380.75 881.52 L378.00 878.96 L378.00 866.04 L380.56 863.00 M378.00 881.81 L389.88 863.00 M398.56 863.00 L405.21 863.00 L407.88 865.38 L407.88 878.96 L405.21 881.52 L398.75 881.52 L396.00 878.96 L396.00 866.04 L398.56 863.00 M396.00 881.81 L407.88 863.00 M414.00 863.00 L425.88 863.00 L414.00 881.52 L425.88 881.52 M469.14 867.56 L474.18 863.00 L474.18 881.81 M488.56 863.00 L495.21 863.00 L497.88 865.38 L497.88 878.96 L495.21 881.52 L488.75 881.52 L486.00 878.96 L486.00 866.04 L488.56 863.00 M486.00 881.81 L497.88 863.00 M522.00 881.81 L527.94 863.00 L533.88 881.81 M524.09 875.35 L531.78 875.35 M540.00 870.79 L540.00 879.15 L542.85 881.81 L547.88 881.81 L550.92 879.15 M550.92 870.79 L550.92 881.81 M569.88 870.79 L569.88 885.80 L566.93 888.65 L560.95 888.65 L558.48 886.27 M569.88 873.64 L566.93 870.79 L560.95 870.79 L558.00 873.64 L558.00 878.96 L560.95 881.81 L566.93 881.81 L569.88 878.96 M594.00 865.38 L596.57 863.00 L604.26 863.00 L605.88 864.62 L605.88 870.88 L594.00 878.39 L594.00 881.52 L605.88 881.52 M614.57 863.00 L621.22 863.00 L623.88 865.38 L623.88 878.96 L621.22 881.52 L614.75 881.52 L612.00 878.96 L612.00 866.04 L614.57 863.00 M612.00 881.81 L623.88 863.00 M632.57 863.00 L639.22 863.00 L641.88 865.38 L641.88 878.96 L639.22 881.52 L632.75 881.52 L630.00 878.96 L630.00 866.04 L632.57 863.00 M630.00 881.81 L641.88 863.00 M655.12 863.00 L648.00 869.65 L648.00 878.67 L650.95 881.52 L656.93 881.52 L659.88 878.77 L659.88 873.74 L656.93 870.79 L650.95 870.79 L648.00 873.74" fill="none" stroke="#000" stroke-width="1.05" stroke-linejoin="round" stroke-linecap="square" shape-rendering="crispEdges"/><rect x="311.23" y="873.07" width="1.90" height="1.90" fill="#000"/><rect x="311.23" y="877.06" width="1.90" height="1.90" fill="#000"/><rect x="365.23" y="873.07" width="1.90" height="1.90" fill="#000"/><rect x="365.23" y="877.06" width="1.90" height="1.90" fill="#000"/>
<path d="M150.47 190.12 L153.91 187.00 L153.91 199.87 M162.19 188.62 L163.94 187.00 L169.21 187.00 L170.31 188.10 L170.31 192.40 L162.19 197.53 L162.19 199.68 L170.31 199.68 M174.69 188.62 L176.44 187.00 L181.71 187.00 L182.81 188.10 L182.81 192.40 L174.69 197.53 L174.69 199.68 L182.81 199.68 M206.84 187.00 L199.69 196.88 L207.81 196.88 M206.64 187.00 L206.64 200.00 M213.94 187.00 L218.82 187.00 L220.38 188.56 L220.38 191.29 L219.01 192.85 L213.55 192.85 L212.19 191.29 L212.19 188.75 L213.94 187.00 M213.55 193.04 L212.19 194.80 L212.19 197.92 L213.94 199.68 L218.82 199.68 L220.38 197.92 L220.38 194.80 L219.01 193.04 M229.11 187.00 L228.46 190.25 M237.19 187.00 L239.01 199.87 L241.22 191.55 L243.43 199.87 L245.25 187.00" fill="none" stroke="#000" stroke-width="1.00" stroke-linejoin="round" stroke-linecap="square" shape-rendering="crispEdges"/>
<path d="M279.47 190.12 L282.91 187.00 L282.91 199.87 M291.19 188.62 L292.94 187.00 L298.21 187.00 L299.31 188.10 L299.31 192.40 L291.19 197.53 L291.19 199.68 L299.31 199.68 M303.69 188.62 L305.44 187.00 L310.71 187.00 L311.81 188.10 L311.81 192.40 L303.69 197.53 L303.69 199.68 L311.81 199.68 M328.69 189.53 L330.70 187.26 L334.28 187.26 L336.81 189.01 L336.81 191.55 L334.80 193.18 L332.52 193.18 M334.80 193.18 L336.81 194.87 L336.81 197.92 L334.28 199.68 L330.70 199.68 L328.69 197.66 M346.06 187.00 L341.19 191.55 L341.19 197.72 L343.20 199.68 L347.30 199.68 L349.31 197.79 L349.31 194.34 L347.30 192.33 L343.20 192.33 L341.19 194.34 M358.11 187.00 L357.46 190.25 M366.19 187.00 L368.01 199.87 L370.22 191.55 L372.43 199.87 L374.25 187.00" fill="none" stroke="#000" stroke-width="1.00" stroke-linejoin="round" stroke-linecap="square" shape-rendering="crispEdges"/>
<path d="M408.47 190.12 L411.91 187.00 L411.91 199.87 M420.19 188.62 L421.94 187.00 L427.21 187.00 L428.31 188.10 L428.31 192.40 L420.19 197.53 L420.19 199.68 L428.31 199.68 M432.69 188.62 L434.44 187.00 L439.71 187.00 L440.81 188.10 L440.81 192.40 L432.69 197.53 L432.69 199.68 L440.81 199.68 M457.69 188.62 L459.44 187.00 L464.71 187.00 L465.81 188.10 L465.81 192.40 L457.69 197.53 L457.69 199.68 L465.81 199.68 M477.34 187.00 L470.19 196.88 L478.31 196.88 M477.14 187.00 L477.14 200.00 M487.11 187.00 L486.46 190.25 M495.19 187.00 L497.01 199.87 L499.22 191.55 L501.43 199.87 L503.25 187.00" fill="none" stroke="#000" stroke-width="1.00" stroke-linejoin="round" stroke-linecap="square" shape-rendering="crispEdges"/>
<path d="M537.47 190.12 L540.91 187.00 L540.91 199.87 M549.19 188.62 L550.94 187.00 L556.21 187.00 L557.31 188.10 L557.31 192.40 L549.19 197.53 L549.19 199.68 L557.31 199.68 M561.69 188.62 L563.44 187.00 L568.71 187.00 L569.81 188.10 L569.81 192.40 L561.69 197.53 L561.69 199.68 L569.81 199.68 M587.47 190.12 L590.91 187.00 L590.91 199.87 M599.19 188.62 L600.94 187.00 L606.21 187.00 L607.31 188.10 L607.31 192.40 L599.19 197.53 L599.19 199.68 L607.31 199.68 M616.11 187.00 L615.46 190.25 M624.19 187.00 L626.01 199.87 L628.22 191.55 L630.43 199.87 L632.25 187.00" fill="none" stroke="#000" stroke-width="1.00" stroke-linejoin="round" stroke-linecap="square" shape-rendering="crispEdges"/>
<path d="M691.47 190.12 L694.91 187.00 L694.91 199.87 M703.19 188.62 L704.94 187.00 L710.21 187.00 L711.31 188.10 L711.31 192.40 L703.19 197.53 L703.19 199.68 L711.31 199.68 M715.69 188.62 L717.44 187.00 L722.71 187.00 L723.81 188.10 L723.81 192.40 L715.69 197.53 L715.69 199.68 L723.81 199.68 M728.19 187.00 L730.01 199.87 L732.22 191.55 L734.43 199.87 L736.25 187.00" fill="none" stroke="#000" stroke-width="1.00" stroke-linejoin="round" stroke-linecap="square" shape-rendering="crispEdges"/>
<path d="M75.47 360.54 L77.49 358.26 L81.06 358.26 L83.60 360.01 L83.60 362.55 L81.58 364.18 L79.31 364.18 M81.58 364.18 L83.60 365.87 L83.60 368.92 L81.06 370.68 L77.49 370.68 L75.47 368.66 M87.97 358.00 L96.10 358.00 L89.92 370.87 M113.75 361.12 L117.20 358.00 L117.20 370.87 M125.47 359.62 L127.23 358.00 L132.50 358.00 L133.60 359.11 L133.60 363.39 L125.47 368.53 L125.47 370.68 L133.60 370.68 M142.39 358.00 L141.75 361.25 M150.47 370.87 L150.47 358.00 L158.60 370.87 L158.60 358.00" fill="none" stroke="#000" stroke-width="1.00" stroke-linejoin="round" stroke-linecap="square" shape-rendering="crispEdges"/>
<path d="M125.47 521.53 L127.49 519.26 L131.06 519.26 L133.60 521.01 L133.60 523.55 L131.59 525.17 L129.31 525.17 M131.59 525.17 L133.60 526.87 L133.60 529.92 L131.06 531.67 L127.49 531.67 L125.47 529.66 M137.97 519.00 L146.10 519.00 L139.92 531.87 M150.47 531.87 L150.47 519.00 L158.60 531.87 L158.60 519.00" fill="none" stroke="#000" stroke-width="1.00" stroke-linejoin="round" stroke-linecap="square" shape-rendering="crispEdges"/>
<path d="M75.47 683.53 L77.49 681.26 L81.06 681.26 L83.60 683.01 L83.60 685.55 L81.58 687.17 L79.31 687.17 M81.58 687.17 L83.60 688.87 L83.60 691.92 L81.06 693.67 L77.49 693.67 L75.47 691.66 M92.85 681.00 L87.97 685.55 L87.97 691.73 L89.99 693.67 L94.08 693.67 L96.10 691.79 L96.10 688.35 L94.08 686.33 L89.99 686.33 L87.97 688.35 M120.12 681.00 L112.97 690.88 L121.10 690.88 M119.93 681.00 L119.93 694.00 M127.23 681.00 L132.10 681.00 L133.66 682.56 L133.66 685.29 L132.30 686.85 L126.84 686.85 L125.47 685.29 L125.47 682.75 L127.23 681.00 M126.84 687.04 L125.47 688.80 L125.47 691.92 L127.23 693.67 L132.10 693.67 L133.66 691.92 L133.66 688.80 L132.30 687.04 M142.39 681.00 L141.75 684.25 M150.47 693.87 L150.47 681.00 L158.60 693.87 L158.60 681.00" fill="none" stroke="#000" stroke-width="1.00" stroke-linejoin="round" stroke-linecap="square" shape-rendering="crispEdges"/>
<rect x="779" y="211.00" width="61" height="31.90" fill="#9b0000" shape-rendering="crispEdges"/>
<rect x="779" y="242.30" width="61" height="31.90" fill="#c10000" shape-rendering="crispEdges"/>
<rect x="779" y="273.60" width="61" height="31.90" fill="#e60000" shape-rendering="crispEdges"/>
<rect x="779" y="304.90" width="61" height="31.90" fill="#ff3c0a" shape-rendering="crispEdges"/>
<rect x="779" y="336.20" width="61" height="31.90" fill="#ff7846" shape-rendering="crispEdges"/>
<rect x="779" y="367.50" width="61" height="31.90" fill="#ff9620" shape-rendering="crispEdges"/>
<rect x="779" y="398.80" width="61" height="31.90" fill="#ffbe00" shape-rendering="crispEdges"/>
<rect x="779" y="430.10" width="61" height="31.90" fill="#f0ff64" shape-rendering="crispEdges"/>
<rect x="779" y="461.40" width="61" height="31.90" fill="#beff64" shape-rendering="crispEdges"/>
<rect x="779" y="492.70" width="61" height="31.90" fill="#00f000" shape-rendering="crispEdges"/>
<rect x="779" y="524.00" width="61" height="31.90" fill="#00f596" shape-rendering="crispEdges"/>
<rect x="779" y="555.30" width="61" height="31.90" fill="#00fad2" shape-rendering="crispEdges"/>
<rect x="779" y="586.60" width="61" height="31.90" fill="#00ffff" shape-rendering="crispEdges"/>
<rect x="779" y="617.90" width="61" height="31.90" fill="#00e1ff" shape-rendering="crispEdges"/>
<rect x="779" y="649.20" width="61" height="31.90" fill="#00beff" shape-rendering="crispEdges"/>
<rect x="779" y="680.50" width="61" height="31.90" fill="#00a0ff" shape-rendering="crispEdges"/>
<rect x="779" y="711.80" width="61" height="31.90" fill="#0082ff" shape-rendering="crispEdges"/>
<rect x="779" y="743.10" width="61" height="31.90" fill="#005fff" shape-rendering="crispEdges"/>
<rect x="779" y="774.40" width="61" height="31.90" fill="#0014dc" shape-rendering="crispEdges"/>
<rect x="779" y="805.70" width="61" height="31.90" fill="#0000b4" shape-rendering="crispEdges"/>
<rect x="779" y="209" width="61" height="628" fill="none" stroke="#000" stroke-width="2" shape-rendering="crispEdges"/>
<path d="M851.17 234.98 L856.34 230.30 L856.34 249.61 M869.00 230.30 L881.19 230.30 L871.92 249.61 M914.31 230.30 L907.00 237.12 L907.00 246.39 L910.02 249.31 L916.16 249.31 L919.19 246.49 L919.19 241.32 L916.16 238.30 L910.02 238.30 L907.00 241.32" fill="none" stroke="#000" stroke-width="1.05" stroke-linejoin="round" stroke-linecap="square" shape-rendering="crispEdges"/><rect x="894.04" y="248.44" width="1.95" height="1.95" fill="#000"/>
<path d="M851.17 266.37 L856.34 261.69 L856.34 281.00 M869.00 261.69 L881.19 261.69 L871.92 281.00 M907.00 264.13 L909.63 261.69 L917.53 261.69 L919.19 263.35 L919.19 269.78 L907.00 277.49 L907.00 280.70 L919.19 280.70" fill="none" stroke="#000" stroke-width="1.05" stroke-linejoin="round" stroke-linecap="square" shape-rendering="crispEdges"/><rect x="894.04" y="279.82" width="1.95" height="1.95" fill="#000"/>
<path d="M851.17 297.76 L856.34 293.08 L856.34 312.39 M876.31 293.08 L869.00 299.91 L869.00 309.17 L872.02 312.09 L878.16 312.09 L881.19 309.27 L881.19 304.10 L878.16 301.08 L872.02 301.08 L869.00 304.10 M909.63 293.08 L916.95 293.08 L919.28 295.42 L919.28 299.52 L917.24 301.86 L909.05 301.86 L907.00 299.52 L907.00 295.71 L909.63 293.08 M909.05 302.15 L907.00 304.78 L907.00 309.46 L909.63 312.09 L916.95 312.09 L919.28 309.46 L919.28 304.78 L917.24 302.15" fill="none" stroke="#000" stroke-width="1.05" stroke-linejoin="round" stroke-linecap="square" shape-rendering="crispEdges"/><rect x="894.04" y="311.22" width="1.95" height="1.95" fill="#000"/>
<path d="M851.17 329.15 L856.34 324.47 L856.34 343.78 M876.31 324.47 L869.00 331.30 L869.00 340.56 L872.02 343.48 L878.16 343.48 L881.19 340.66 L881.19 335.49 L878.16 332.47 L872.02 332.47 L869.00 335.49 M917.73 324.47 L907.00 339.29 L919.19 339.29 M917.43 324.47 L917.43 343.97" fill="none" stroke="#000" stroke-width="1.05" stroke-linejoin="round" stroke-linecap="square" shape-rendering="crispEdges"/><rect x="894.04" y="342.61" width="1.95" height="1.95" fill="#000"/>
<path d="M851.17 360.54 L856.34 355.86 L856.34 375.17 M876.31 355.86 L869.00 362.69 L869.00 371.95 L872.02 374.87 L878.16 374.87 L881.19 372.05 L881.19 366.88 L878.16 363.86 L872.02 363.86 L869.00 366.88 M909.63 355.86 L916.46 355.86 L919.19 358.30 L919.19 372.24 L916.46 374.87 L909.83 374.87 L907.00 372.24 L907.00 358.98 L909.63 355.86 M907.00 375.17 L919.19 355.86" fill="none" stroke="#000" stroke-width="1.05" stroke-linejoin="round" stroke-linecap="square" shape-rendering="crispEdges"/><rect x="894.04" y="374.00" width="1.95" height="1.95" fill="#000"/>
<path d="M851.17 391.93 L856.34 387.25 L856.34 406.56 M881.19 387.25 L869.00 387.25 L869.00 396.90 L871.63 394.07 L877.00 394.07 L881.19 397.29 L881.19 403.05 L877.00 406.07 L869.78 406.07 M914.31 387.25 L907.00 394.07 L907.00 403.34 L910.02 406.26 L916.16 406.26 L919.19 403.44 L919.19 398.27 L916.16 395.25 L910.02 395.25 L907.00 398.27" fill="none" stroke="#000" stroke-width="1.05" stroke-linejoin="round" stroke-linecap="square" shape-rendering="crispEdges"/><rect x="894.04" y="405.38" width="1.95" height="1.95" fill="#000"/>
<path d="M851.17 423.32 L856.34 418.64 L856.34 437.94 M881.19 418.64 L869.00 418.64 L869.00 428.29 L871.63 425.46 L877.00 425.46 L881.19 428.68 L881.19 434.44 L877.00 437.46 L869.78 437.46 M907.00 421.08 L909.63 418.64 L917.53 418.64 L919.19 420.30 L919.19 426.73 L907.00 434.44 L907.00 437.65 L919.19 437.65" fill="none" stroke="#000" stroke-width="1.05" stroke-linejoin="round" stroke-linecap="square" shape-rendering="crispEdges"/><rect x="894.04" y="436.77" width="1.95" height="1.95" fill="#000"/>
<path d="M851.17 454.71 L856.34 450.03 L856.34 469.34 M879.73 450.03 L869.00 464.85 L881.19 464.85 M879.43 450.03 L879.43 469.53 M909.63 450.03 L916.95 450.03 L919.28 452.37 L919.28 456.47 L917.24 458.81 L909.05 458.81 L907.00 456.47 L907.00 452.66 L909.63 450.03 M909.05 459.10 L907.00 461.73 L907.00 466.41 L909.63 469.04 L916.95 469.04 L919.28 466.41 L919.28 461.73 L917.24 459.10" fill="none" stroke="#000" stroke-width="1.05" stroke-linejoin="round" stroke-linecap="square" shape-rendering="crispEdges"/><rect x="894.04" y="468.17" width="1.95" height="1.95" fill="#000"/>
<path d="M851.17 486.10 L856.34 481.42 L856.34 500.73 M879.73 481.42 L869.00 496.24 L881.19 496.24 M879.43 481.42 L879.43 500.92 M917.73 481.42 L907.00 496.24 L919.19 496.24 M917.43 481.42 L917.43 500.92" fill="none" stroke="#000" stroke-width="1.05" stroke-linejoin="round" stroke-linecap="square" shape-rendering="crispEdges"/><rect x="894.04" y="499.56" width="1.95" height="1.95" fill="#000"/>
<path d="M851.17 517.49 L856.34 512.81 L856.34 532.11 M879.73 512.81 L869.00 527.63 L881.19 527.63 M879.43 512.81 L879.43 532.31 M909.63 512.81 L916.46 512.81 L919.19 515.25 L919.19 529.19 L916.46 531.82 L909.83 531.82 L907.00 529.19 L907.00 515.93 L909.63 512.81 M907.00 532.11 L919.19 512.81" fill="none" stroke="#000" stroke-width="1.05" stroke-linejoin="round" stroke-linecap="square" shape-rendering="crispEdges"/><rect x="894.04" y="530.94" width="1.95" height="1.95" fill="#000"/>
<path d="M851.17 548.88 L856.34 544.20 L856.34 563.50 M869.00 548.00 L872.02 544.59 L877.38 544.59 L881.19 547.22 L881.19 551.03 L878.16 553.46 L874.75 553.46 M878.16 553.46 L881.19 556.00 L881.19 560.58 L877.38 563.21 L872.02 563.21 L869.00 560.19 M914.31 544.20 L907.00 551.03 L907.00 560.29 L910.02 563.21 L916.16 563.21 L919.19 560.38 L919.19 555.22 L916.16 552.20 L910.02 552.20 L907.00 555.22" fill="none" stroke="#000" stroke-width="1.05" stroke-linejoin="round" stroke-linecap="square" shape-rendering="crispEdges"/><rect x="894.04" y="562.34" width="1.95" height="1.95" fill="#000"/>
<path d="M851.17 580.27 L856.34 575.59 L856.34 594.89 M869.00 579.39 L872.02 575.98 L877.38 575.98 L881.19 578.61 L881.19 582.42 L878.16 584.85 L874.75 584.85 M878.16 584.85 L881.19 587.39 L881.19 591.97 L877.38 594.60 L872.02 594.60 L869.00 591.58 M907.00 578.03 L909.63 575.59 L917.53 575.59 L919.19 577.25 L919.19 583.68 L907.00 591.38 L907.00 594.60 L919.19 594.60" fill="none" stroke="#000" stroke-width="1.05" stroke-linejoin="round" stroke-linecap="square" shape-rendering="crispEdges"/><rect x="894.04" y="593.73" width="1.95" height="1.95" fill="#000"/>
<path d="M851.17 611.66 L856.34 606.98 L856.34 626.28 M869.00 609.42 L871.63 606.98 L879.53 606.98 L881.19 608.64 L881.19 615.07 L869.00 622.77 L869.00 625.99 L881.19 625.99 M909.63 606.98 L916.95 606.98 L919.28 609.32 L919.28 613.41 L917.24 615.75 L909.05 615.75 L907.00 613.41 L907.00 609.61 L909.63 606.98 M909.05 616.05 L907.00 618.68 L907.00 623.36 L909.63 625.99 L916.95 625.99 L919.28 623.36 L919.28 618.68 L917.24 616.05" fill="none" stroke="#000" stroke-width="1.05" stroke-linejoin="round" stroke-linecap="square" shape-rendering="crispEdges"/><rect x="894.04" y="625.12" width="1.95" height="1.95" fill="#000"/>
<path d="M851.17 643.05 L856.34 638.37 L856.34 657.67 M869.00 640.81 L871.63 638.37 L879.53 638.37 L881.19 640.03 L881.19 646.46 L869.00 654.16 L869.00 657.38 L881.19 657.38 M917.73 638.37 L907.00 653.19 L919.19 653.19 M917.43 638.37 L917.43 657.87" fill="none" stroke="#000" stroke-width="1.05" stroke-linejoin="round" stroke-linecap="square" shape-rendering="crispEdges"/><rect x="894.04" y="656.50" width="1.95" height="1.95" fill="#000"/>
<path d="M851.17 674.44 L856.34 669.76 L856.34 689.06 M869.00 672.20 L871.63 669.76 L879.53 669.76 L881.19 671.42 L881.19 677.85 L869.00 685.55 L869.00 688.77 L881.19 688.77 M909.63 669.76 L916.46 669.76 L919.19 672.20 L919.19 686.14 L916.46 688.77 L909.83 688.77 L907.00 686.14 L907.00 672.88 L909.63 669.76 M907.00 689.06 L919.19 669.76" fill="none" stroke="#000" stroke-width="1.05" stroke-linejoin="round" stroke-linecap="square" shape-rendering="crispEdges"/><rect x="894.04" y="687.89" width="1.95" height="1.95" fill="#000"/>
<path d="M851.17 705.83 L856.34 701.15 L856.34 720.46 M870.17 705.83 L875.34 701.15 L875.34 720.46 M914.31 701.15 L907.00 707.98 L907.00 717.24 L910.02 720.16 L916.16 720.16 L919.19 717.34 L919.19 712.17 L916.16 709.15 L910.02 709.15 L907.00 712.17" fill="none" stroke="#000" stroke-width="1.05" stroke-linejoin="round" stroke-linecap="square" shape-rendering="crispEdges"/><rect x="894.04" y="719.29" width="1.95" height="1.95" fill="#000"/>
<path d="M851.17 737.22 L856.34 732.54 L856.34 751.84 M870.17 737.22 L875.34 732.54 L875.34 751.84 M907.00 734.98 L909.63 732.54 L917.53 732.54 L919.19 734.20 L919.19 740.63 L907.00 748.33 L907.00 751.55 L919.19 751.55" fill="none" stroke="#000" stroke-width="1.05" stroke-linejoin="round" stroke-linecap="square" shape-rendering="crispEdges"/><rect x="894.04" y="750.67" width="1.95" height="1.95" fill="#000"/>
<path d="M851.17 768.61 L856.34 763.93 L856.34 783.24 M871.63 763.93 L878.46 763.93 L881.19 766.37 L881.19 780.31 L878.46 782.94 L871.83 782.94 L869.00 780.31 L869.00 767.05 L871.63 763.93 M869.00 783.24 L881.19 763.93 M909.63 763.93 L916.95 763.93 L919.28 766.27 L919.28 770.37 L917.24 772.71 L909.05 772.71 L907.00 770.37 L907.00 766.56 L909.63 763.93 M909.05 773.00 L907.00 775.63 L907.00 780.31 L909.63 782.94 L916.95 782.94 L919.28 780.31 L919.28 775.63 L917.24 773.00" fill="none" stroke="#000" stroke-width="1.05" stroke-linejoin="round" stroke-linecap="square" shape-rendering="crispEdges"/><rect x="894.04" y="782.07" width="1.95" height="1.95" fill="#000"/>
<path d="M851.17 800.00 L856.34 795.32 L856.34 814.62 M871.63 795.32 L878.46 795.32 L881.19 797.76 L881.19 811.70 L878.46 814.33 L871.83 814.33 L869.00 811.70 L869.00 798.44 L871.63 795.32 M869.00 814.62 L881.19 795.32 M917.73 795.32 L907.00 810.14 L919.19 810.14 M917.43 795.32 L917.43 814.82" fill="none" stroke="#000" stroke-width="1.05" stroke-linejoin="round" stroke-linecap="square" shape-rendering="crispEdges"/><rect x="894.04" y="813.45" width="1.95" height="1.95" fill="#000"/>
</svg></body></html>
